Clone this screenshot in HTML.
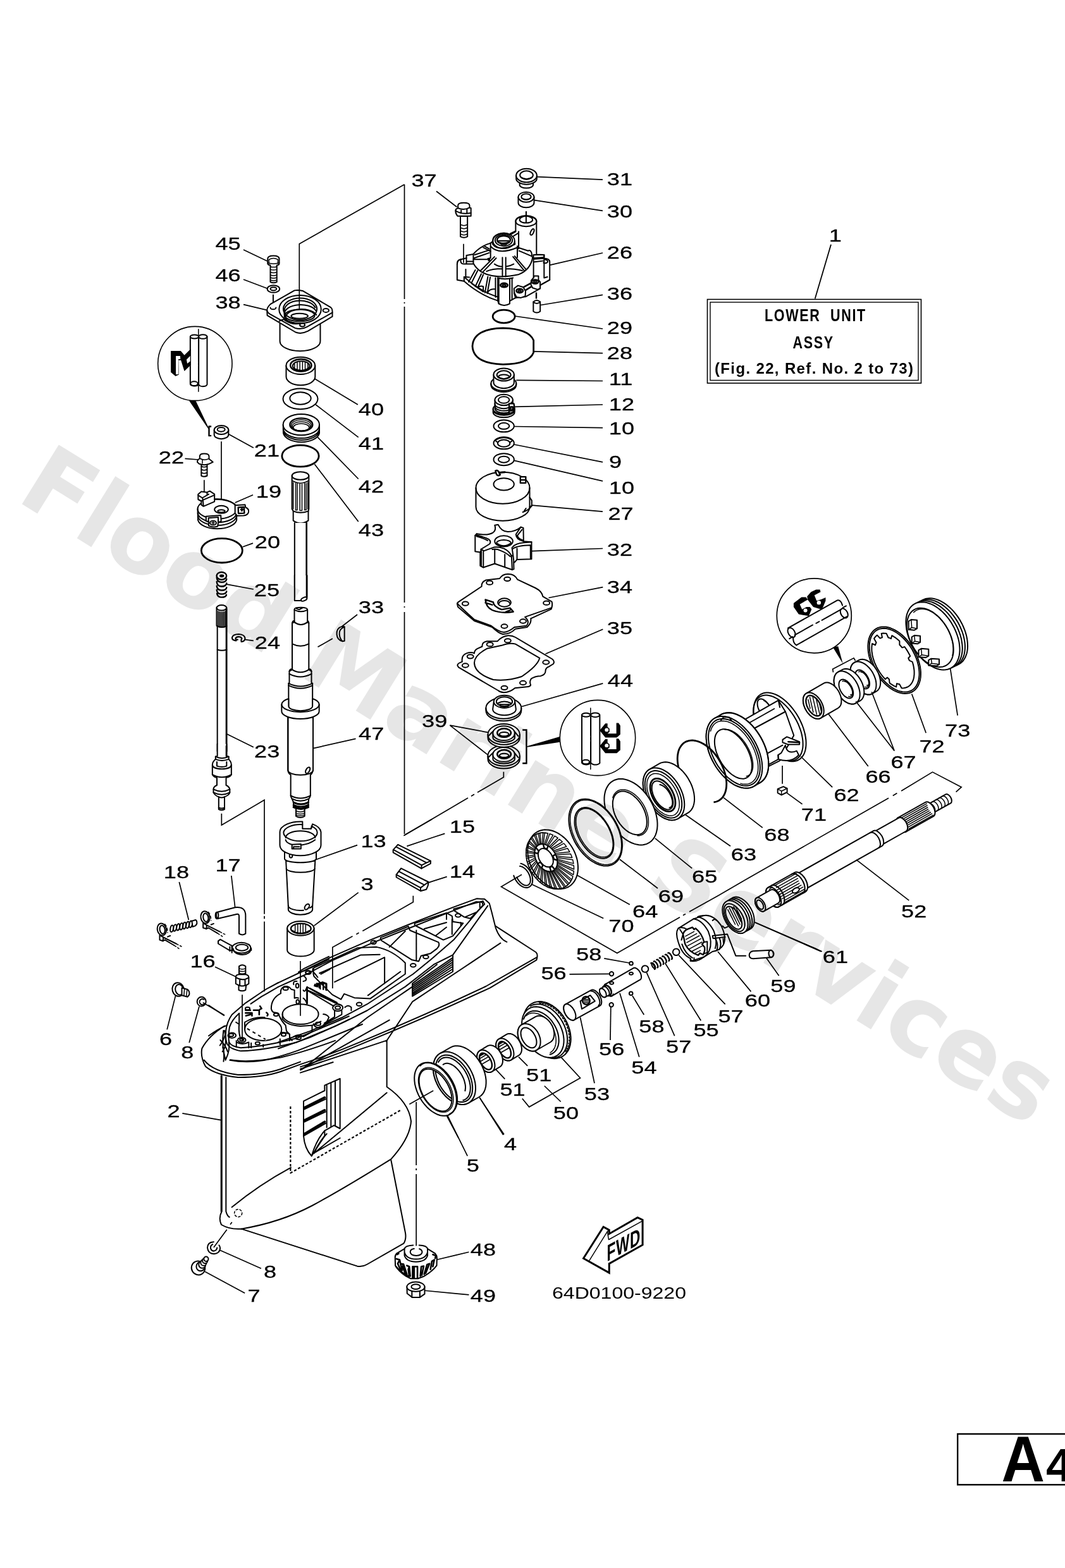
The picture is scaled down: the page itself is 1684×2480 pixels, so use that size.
<!DOCTYPE html>
<html><head><meta charset="utf-8"><title>Lower Unit Assy</title>
<style>
html,body{margin:0;padding:0;background:#fff;}
svg{display:block;}
text{font-family:"Liberation Sans",sans-serif;}
.l{font-size:28px;fill:#000;stroke:#000;stroke-width:0.3px;}
.p{fill:none;stroke:#000;stroke-width:2;stroke-linecap:round;stroke-linejoin:round;}
.w{fill:#fff;stroke:#000;stroke-width:2;stroke-linecap:round;stroke-linejoin:round;}
.t{fill:none;stroke:#000;stroke-width:1.5;stroke-linecap:round;stroke-linejoin:round;}
.k{fill:#000;stroke:none;}
.o{fill:none;stroke:#000;stroke-width:2.8;}
.p,.w,.t,.o,.q,.ld{vector-effect:non-scaling-stroke;}
.q{fill:#fff;stroke:#000;stroke-width:1.5;stroke-linejoin:round;}
.ld{fill:none;stroke:#000;stroke-width:1.7;stroke-linecap:butt;}
</style></head><body>
<svg xmlns="http://www.w3.org/2000/svg" width="1684" height="2480" viewBox="0 0 1684 2480">
<rect x="0" y="0" width="1684" height="2480" fill="#fff"/>
<!-- 09_housing.svg -->
<!-- housing body: 3x frame origin (310,1400) -->
<g transform="translate(310,1400) scale(0.33333)">
<!-- white silhouette -->
<path d="M135,668 Q60,715 28,775 Q20,815 45,860 Q90,900 122,905 L122,1548 Q105,1580 120,1611 Q160,1635 215,1631 L765,1808 Q790,1812 810,1800 L985,1700 Q998,1680 993,1650 L925,1305 Q1015,1200 1020,1120 Q1010,1030 905,957 L905,737 L1615,355 L1615,320 L1424,197 L1394,90 L1364,62 L1329,62 L789,220 L350,485 Z" fill="#fff"/>
<!-- cav plate -->
<path class="p" d="M135,668 Q60,715 28,775 Q20,815 45,860 Q90,900 200,912 Q320,912 400,885 L495,850 Q650,800 789,740 Q1100,610 1375,480 L1615,343"/>
<path class="p" d="M38,830 Q80,885 200,900 Q320,900 400,873 L495,838"/>
<path class="p" d="M495,862 Q650,812 789,752 Q1100,625 1395,487 L1615,355 M1419,193 L1612,318 Q1624,328 1615,355"/>
<path class="p" d="M160,830 Q250,848 350,825 Q450,800 520,770 L789,660 M495,872 L789,775 L904,737 M495,890 L650,840"/>
<path class="p" d="M115,735 Q140,760 150,790 M125,790 Q150,760 135,690 M130,690 Q120,760 140,830"/>
<!-- body left -->
<path class="p" d="M122,905 L122,1548 Q105,1580 120,1611 Q160,1635 215,1631 M142,912 L142,1548 Q148,1570 158,1575"/>
<path class="p" d="M120,905 L120,1548" style="stroke-width:2.6"/>
<!-- torpedo -->
<path class="p" d="M170,1528 Q300,1421 450,1340 M215,1631 Q400,1600 550,1521 Q700,1440 925,1300 Q1015,1200 1020,1120 Q1010,1030 905,957 L905,737"/>
<path class="p" d="M905,985 L560,1272"/>
<!-- skeg -->
<path class="p" d="M215,1631 L765,1808 Q790,1812 810,1800 L985,1700 Q998,1680 993,1650 L925,1305"/>
<!-- dashed -->
<path class="p" d="M448,1050 L448,1366 L975,1065" style="stroke-dasharray:4 3;stroke-linecap:butt;stroke-width:2.2"/>
<circle class="t" cx="200" cy="1556" r="18" style="stroke-dasharray:3 3"/>
<!-- grille inlet -->
<path class="p" d="M510,1025 L610,975 L610,950 L683,918 L683,1155 L655,1140 L610,1165 L610,1190 L548,1285 Q515,1250 510,1190 Z M620,948 L620,1150 M640,940 L640,1145 M660,930 L660,1140"/>
<path class="p" d="M510,1055 L610,1005 M510,1065 L615,1015 M510,1115 L610,1065 M510,1125 L615,1075 M510,1180 L610,1120 M510,1190 L615,1130 M548,1285 Q570,1210 610,1165 M560,1270 Q585,1215 620,1180 M570,1265 L683,1200" />
<path class="p" style="stroke-width:2.8" d="M515,1058 L612,1008 M515,1118 L612,1068 M515,1183 L612,1123"/>
</g>
<!-- deck: 3.985x frame origin (440,1400) -->
<g transform="translate(440,1400) scale(0.25095)">
<path class="p" d="M0,615 L170,535 L330,455 L580,345 L830,245 L1100,140 L1250,85 L1300,88 L1330,115 L1345,170 L1370,270 Q1395,340 1440,358"/>
<path class="p" d="M1320,130 L1100,440 L980,500 L800,640 L560,790 L420,860 L200,960 L0,1030"/>
<path class="p" d="M0,641 L180,560 L340,475 L590,365 L840,265 L1100,162 L1245,105 L1285,108 L1290,125 L1105,345 L960,470 L850,560 L560,750 L400,835 L200,920 L0,990"/>
<path class="p" d="M1400,365 L1100,565 L845,735 L680,985 M150,1160 L560,835 L845,640 M140,1165 L700,850"/>
<path class="p" d="M845,620 L845,700 L1100,545 L1100,440 M845,632 L1100,457 M845,644 L1100,470 M845,656 L1100,484 M845,668 L1100,498 M845,680 L1100,512 M845,690 L1100,528 M845,620 L1000,500"/>
<path class="p" d="M225,520 L500,395 L620,390 Q720,410 800,490 L800,560 L580,715 L480,710 L415,685 L395,720 L340,690 L225,575 Q215,545 225,520 Z"/>
<path class="p" d="M260,555 L520,440 L640,437 M355,610 L670,455 L670,620 M565,695 L770,545"/>
<path class="p" d="M645,330 L820,260 L830,285 L1010,360 Q1020,380 1000,400 L960,430 L900,445 L885,480 L840,470 L660,355 Q640,345 645,330 Z M700,390 L800,290 M870,285 L870,475"/>
<path class="p" d="M860,240 L1060,175 L1095,195 L1100,230 L1165,240 L1100,320 L1040,345 L870,258 Q855,250 860,240 Z M920,275 L1060,235 M990,320 L1060,265 M1060,182 L1060,215 M1095,215 L1095,310 M1150,235 L1150,255"/>
<path class="p" d="M1105,150 L1290,100 L1300,120 L1210,210 L1170,200 L1110,162 Z M1180,200 L1250,170 M1270,115 L1270,140"/>
<ellipse class="p" cx="190" cy="550" rx="17" ry="11"/><ellipse class="p" cx="600" cy="360" rx="17" ry="11"/><ellipse class="p" cx="850" cy="505" rx="17" ry="11"/><ellipse class="p" cx="930" cy="452" rx="17" ry="11"/><ellipse class="p" cx="1133" cy="190" rx="17" ry="11"/><ellipse class="p" cx="510" cy="750" rx="17" ry="11"/>
<path class="p" d="M180,745 L180,660 L390,755 M200,650 L370,740 M355,790 L355,830 L290,870 M400,790 L400,815 L285,880 M420,770 Q440,750 460,770 L460,790 M240,620 L300,620 L300,660 M265,625 L265,655 M230,625 L250,640"/>
<ellipse class="p" cx="375" cy="772" rx="32" ry="22"/><ellipse class="p" cx="375" cy="772" rx="16" ry="10"/>
</g>
<!-- deck left: 7.89x frame origin (330,1490) -->
<g transform="translate(330,1490) scale(0.12674)">
<path class="p" d="M868,507 L730,580 L660,625 L460,760 L290,905 Q225,1000 215,1100 Q205,1200 225,1260 Q250,1330 400,1360 Q700,1350 1100,1250 L1578,1050 L1750,965"/>
<path class="p" d="M868,560 L730,640 L660,680 L525,770 M380,890 Q290,970 260,1060 Q240,1180 255,1250 Q280,1305 400,1320 Q700,1305 1100,1200 L1578,1000 L1750,925"/>
<path class="p" d="M270,1470 Q500,1510 900,1440 Q1200,1370 1578,1230"/>
<path class="p" d="M0,1170 Q120,1080 225,1040 M215,1130 Q190,1220 140,1290 M175,1310 Q200,1400 185,1490 M250,1250 Q270,1340 215,1460 M0,790 L190,915"/>
<!-- left bore -->
<ellipse class="p" cx="680" cy="1090" rx="230" ry="140"/>
<path class="p" d="M450,1000 Q560,930 700,940 M450,1010 L450,1090 M480,1080 L710,1215" />
<path class="p" d="M480,1080 L710,1215" style="stroke:#fff;stroke-width:3"/>
<path class="p" d="M480,1080 L710,1215" style="stroke-dasharray:5 5;stroke-linecap:butt"/>
<path class="p" d="M345,1230 L345,1310 M500,1250 L500,1320 M345,1250 Q420,1290 500,1250 M530,1260 L530,1320 M680,1280 L680,1310 M890,1210 L890,1280 M1010,1150 L1010,1230 M380,890 L380,1020 Q370,1100 390,1180 M340,1000 L370,1020" />
<ellipse class="p" cx="412" cy="1222" rx="50" ry="30"/><ellipse class="p" cx="412" cy="1220" rx="24" ry="14"/>
<ellipse class="p" cx="280" cy="1160" rx="28" ry="18"/><ellipse class="p" cx="290" cy="1165" rx="50" ry="32"/>
<ellipse class="p" cx="485" cy="830" rx="28" ry="18"/><ellipse class="p" cx="610" cy="1265" rx="28" ry="18"/><ellipse class="p" cx="935" cy="1155" rx="28" ry="18"/><ellipse class="p" cx="1120" cy="1195" rx="32" ry="20"/><ellipse class="p" cx="840" cy="905" rx="28" ry="18"/><ellipse class="p" cx="960" cy="580" rx="32" ry="20"/><ellipse class="p" cx="1240" cy="380" rx="32" ry="20"/><ellipse class="p" cx="1365" cy="1020" rx="32" ry="20"/><ellipse class="p" cx="1105" cy="545" rx="18" ry="28"/><ellipse class="p" cx="1110" cy="745" rx="18" ry="26"/>
<path class="p" style="stroke-width:2.6" d="M460,850 L520,850 M460,885 L540,885 L540,920 M465,920 L520,905 M560,850 L630,850 L630,905 M640,800 L660,830 L640,840 M720,880 Q750,900 730,920"/>
<!-- right bore and ring -->
<ellipse class="p" cx="1145" cy="900" rx="225" ry="125"/>
<path class="p" d="M920,900 L920,960 Q980,1040 1145,1050 L1290,1040 L1290,1120 M1290,1040 L1400,990"/>
<path class="p" d="M780,830 Q780,700 900,640 Q890,580 940,555 Q1000,545 1030,590 L1070,600 L1070,700 M1230,560 L1230,770 M1070,700 Q1100,690 1120,700 M1180,700 Q1210,720 1225,770 M780,830 Q790,880 830,880 Q880,880 880,920 Q910,990 960,1040 L970,1110 Q985,1130 1010,1150 Q960,1120 900,1130 M1010,1150 Q1000,1190 1040,1230 M1060,1180 Q1120,1140 1180,1180 L1290,1120 M1430,900 Q1480,905 1500,940 L1460,1020 Q1440,1060 1400,1070 Q1320,1075 1310,1020"/>
<path class="p" d="M1180,600 Q1200,640 1225,560 L1578,760 M1225,600 L1560,800 M1060,530 Q1050,480 1100,490 M1180,420 Q1230,450 1210,480 L1180,490 M1120,375 L1190,330 L1500,180 M1190,360 L1500,215 M1300,330 Q1290,360 1330,400 L1360,440 M1400,400 L1510,340"/>
<path class="p" style="stroke-width:2.4" d="M1330,540 L1420,500 L1470,520 L1470,600 M1380,520 L1380,570 M1430,520 L1430,590 M1320,545 L1350,555 L1380,520"/>
</g>
<!-- 10_p38.svg -->
<g transform="translate(400,380) scale(0.08872)">
<!-- bolt 45 -->
<path class="w" d="M262,330 Q262,275 365,275 Q468,275 468,330 L468,410 Q468,445 425,445 L425,745 Q365,770 310,745 L310,445 Q262,440 262,410 Z"/>
<path class="t" d="M285,345 Q365,300 445,345 M285,345 L285,420 M445,345 L445,420 M310,470 Q365,490 425,470 M310,520 Q365,540 425,520 M310,570 Q365,590 425,570 M310,620 Q365,640 425,620 M310,665 Q365,685 425,665 M310,710 Q365,730 425,710 M262,400 Q365,440 468,400"/>
<!-- washer 46 -->
<ellipse class="w" cx="365" cy="868" rx="110" ry="65"/>
<ellipse class="p" cx="365" cy="866" rx="55" ry="30"/>
<path class="p" d="M360,975 L360,1215"/>
<!-- part 38 cylinder body -->
<path class="w" d="M480,1400 L480,1800 A360,175 0 0 0 1200,1800 L1200,1400 Z"/>
<!-- plate -->
<path class="w" d="M405,1085 L740,895 Q800,880 895,905 L1390,1200 Q1415,1220 1415,1260 L1415,1360 L980,1620 Q860,1680 760,1640 L255,1340 L250,1250 Q250,1200 310,1140 Z"/>
<path class="p" d="M250,1250 Q260,1290 300,1315 L750,1565 Q860,1600 960,1545 L1415,1290"/>
<path class="p" d="M310,1200 A50,32 0 0 0 410,1200"/>
<ellipse class="p" cx="1300" cy="1250" rx="52" ry="34"/>
<ellipse class="p" cx="880" cy="1510" rx="45" ry="28"/>
<!-- bore -->
<ellipse class="w" cx="840" cy="1230" rx="375" ry="250"/>
<ellipse class="p" cx="840" cy="1225" rx="300" ry="195"/>
<path class="p" d="M570,1290 A280,170 0 0 1 1110,1200 M575,1360 A270,150 0 0 1 1125,1260 M600,1420 A250,130 0 0 1 1130,1330"/>
<ellipse class="p" cx="835" cy="1340" rx="265" ry="105"/>
<ellipse class="p" cx="830" cy="1350" rx="150" ry="45"/>
<path class="p" d="M560,1300 L560,1420 Q700,1520 850,1480 M470,1440 L590,1390"/>
</g>
<path class="ld" d="M385,395 L422.7,413 M385,442 L424,456.7 M385,481.7 L422.7,490.7"/>
<!-- 11_col1a.svg -->
<g transform="translate(230,500) scale(0.16667)">
<!-- M circle -->
<circle class="w" cx="470" cy="450" r="352" style="stroke-width:1.6"/>
<path class="t" d="M503,125 L503,430 M503,445 L503,462 M503,477 L503,715"/>
<path class="p" d="M425,195 L425,640 A40,22 0 0 0 503,648 M585,195 L585,640 A40,22 0 0 1 507,650 M505,215 L505,640"/>
<ellipse class="p" cx="465" cy="195" rx="40" ry="18"/>
<ellipse class="p" cx="545" cy="195" rx="40" ry="20"/>
<ellipse class="p" cx="462" cy="640" rx="34" ry="20"/>
<g transform="scale(6) translate(25,35) scale(0.05705)">
<path class="k" d="M265,350 L540,350 L640,470 L800,310 L820,310 L820,740 L640,910 L545,610 L480,610 L490,1010 L395,1050 L265,940 Z"/>
<path d="M405,490 L525,490 L530,580 L475,580 L480,1000 L405,1005 Z M700,590 L800,490 L800,640 L720,700 Z" fill="#fff"/>
</g>
<!-- pointer -->
<path class="k" d="M412,800 L478,806 L603,1068 L596,1070 Z"/>
<path class="p" d="M625,1047 L603,1047 L603,1135 L625,1135" style="stroke-width:2.4;stroke-linecap:butt"/>
<!-- 21 bushing -->
<path class="w" d="M652,1080 L652,1125 A68,40 0 0 0 788,1125 L788,1080 Z"/>
<ellipse class="w" cx="720" cy="1080" rx="68" ry="42"/>
<ellipse class="p" cx="718" cy="1076" rx="36" ry="20"/>
<path class="ld" d="M790,1120 L1025,1250"/>
<path class="ld" d="M720,1190 L720,1840"/>
<!-- bolt 22 -->
<path class="ld" d="M375,1352 L500,1362"/>
<path class="w" d="M530,1395 L530,1515 Q557,1530 585,1515 L585,1395 Z"/>
<path class="t" d="M530,1425 Q557,1440 585,1425 M530,1455 Q557,1470 585,1455 M530,1485 Q557,1500 585,1485"/>
<path class="w" d="M492,1385 Q492,1360 515,1352 L515,1330 Q515,1305 557,1305 Q603,1305 603,1330 L603,1355 L640,1385 L605,1402 Q557,1420 510,1402 Z"/>
<path class="t" d="M515,1350 Q557,1375 603,1352 M540,1365 L540,1398"/>
<path class="ld" d="M557,1555 L557,1700"/>
<!-- part 19 -->
<path class="w" d="M495,1830 L498,1935 A185,95 0 0 0 865,1935 L865,1830 A185,95 0 0 0 495,1830 Z"/>
<path class="p" d="M495,1830 A185,95 0 0 0 865,1830 M496,1870 A185,95 0 0 0 865,1870 M497,1900 A185,95 0 0 0 865,1900"/>
<path class="p" d="M660,1738 Q780,1735 850,1785"/>
<ellipse class="w" cx="720" cy="1835" rx="65" ry="36"/>
<path class="p" d="M685,1850 A36,16 0 0 0 755,1850 A36,16 0 0 0 685,1850"/>
<!-- left tab -->
<path class="w" d="M500,1690 L500,1740 L530,1755 L530,1790 L550,1805 L655,1760 L655,1690 L610,1660 L585,1672 L530,1665 Z"/>
<path class="p" d="M500,1700 L540,1725 L600,1690 M540,1725 L545,1745 L650,1700 M545,1745 L550,1800 M530,1755 L545,1745 M585,1672 L585,1695"/>
<!-- right tab -->
<path class="w" d="M850,1795 L945,1790 L950,1815 Q985,1830 978,1860 Q970,1890 930,1893 L870,1895 L850,1870 Z"/>
<path class="p" d="M880,1815 L935,1812 L938,1870 L882,1872 Z M905,1835 L925,1835 M915,1825 L915,1848" style="stroke-width:2.4"/>
<!-- front tab -->
<path class="w" d="M575,1900 L715,1890 L718,1945 L690,1960 L685,1995 Q640,2010 600,1990 L598,1950 L575,1945 Z"/>
<path class="p" d="M598,1915 L690,1908 L690,1960 M598,1915 L598,1950"/>
<ellipse class="p" cx="642" cy="1962" rx="30" ry="20"/>
<path class="t" d="M628,1962 L656,1962 M642,1950 L642,1974"/>
<path class="ld" d="M850,1770 L1020,1697"/>
<!-- O-ring 20 -->
<ellipse class="o" cx="725" cy="2225" rx="195" ry="115"/>
<path class="ld" d="M922,2190 L1020,2155"/>
</g>
<!-- 12_col2a.svg -->
<g transform="translate(420,540) scale(0.16667)">
<!-- 40 bearing -->
<path class="w" d="M195,230 L195,335 A137,80 0 0 0 470,335 L470,230 Z"/>
<ellipse class="w" cx="332" cy="230" rx="137" ry="82"/>
<ellipse class="p" cx="335" cy="226" rx="100" ry="58" style="stroke-width:2.6"/>
<ellipse class="p" cx="337" cy="232" rx="80" ry="44"/>
<path class="t" d="M275,205 L275,262 M300,198 L300,272 M325,195 L325,275 M350,195 L350,275 M375,200 L375,270 M400,208 L400,260 M262,250 Q335,300 412,250"/>
<path class="ld" d="M468,355 L875,600"/>
<!-- 41 washer -->
<ellipse class="w" cx="330" cy="545" rx="165" ry="98"/>
<ellipse class="p" cx="330" cy="540" rx="100" ry="58"/>
<path class="ld" d="M475,600 L880,910"/>
<!-- 42 seal -->
<path class="w" d="M166,790 L168,870 A172,95 0 0 0 510,870 L510,790 Z"/>
<path class="p" d="M167,830 A172,96 0 0 0 510,830 M168,850 A172,96 0 0 0 510,850"/>
<ellipse class="w" cx="338" cy="790" rx="172" ry="100"/>
<ellipse class="p" cx="338" cy="790" rx="108" ry="62" style="stroke-width:2.4"/>
<ellipse class="t" cx="338" cy="796" rx="95" ry="52"/>
<ellipse class="t" cx="338" cy="806" rx="85" ry="44"/>
<ellipse class="t" cx="338" cy="816" rx="75" ry="36"/>
<path class="ld" d="M490,905 L880,1305"/>
<!-- 43 o-ring -->
<ellipse class="o" cx="330" cy="1087" rx="175" ry="102"/>
<path class="ld" d="M465,1165 L880,1710"/>
<!-- shaft top spline -->
<path class="w" d="M250,1275 L250,1590 L262,1610 L262,1700 Q330,1750 405,1700 L405,1610 L410,1590 L410,1275 A80,38 0 0 0 250,1275 Z"/>
<path class="p" d="M250,1275 A80,38 0 0 0 410,1275 M262,1610 Q330,1640 405,1610"/>
<path class="t" d="M262,1340 L262,1590 M285,1345 L285,1600 M300,1345 L300,1600 M325,1350 L325,1605 M345,1350 L345,1605 M370,1345 L370,1600 M385,1345 L385,1598 M400,1340 L400,1592 M250,1320 Q330,1370 410,1320 M285,1600 L300,1600 M325,1605 L345,1605 M370,1600 L385,1598"/>
<path class="w" d="M275,1722 L275,2330 L390,2330 L390,1722 Z" style="stroke:none"/>
<path class="p" d="M275,1722 L275,2330 M390,1722 L390,2330" />
<path class="p" d="M388,1722 L388,2330" style="stroke-width:2.6"/>
</g>
<!-- 13_col1b.svg -->
<g transform="translate(280,880) scale(0.16667)">
<!-- spring 25 -->
<ellipse class="w" cx="422" cy="185" rx="47" ry="36" style="stroke-width:2.4"/>
<ellipse class="k" cx="424" cy="185" rx="22" ry="14"/>
<path class="p" style="stroke-width:2.4" d="M376,200 Q380,245 422,245 Q465,245 470,215 M376,240 Q380,285 422,285 Q465,285 470,255 M376,280 Q380,322 422,322 Q465,322 470,295 M376,318 Q380,358 422,358 Q465,358 470,332 M378,352 Q385,388 422,388 Q462,388 468,365"/>
<path class="ld" d="M470,265 L725,312"/>
<!-- shaft 23 -->
<path d="M375,488 A47,25 0 0 1 470,488 L470,1850 L382,1850 L382,665 L375,655 Z" fill="#fff"/>
<path class="p" d="M382,1850 L382,665 L375,655 L375,488 A47,25 0 0 1 470,488 L470,1850"/>
<path class="p" d="M375,488 A47,25 0 0 0 470,488 M382,885 Q425,900 470,885 M378,660 Q425,685 470,660"/>
<path class="t" d="M388,520 L388,662 M400,525 L400,668 M412,528 L412,670 M424,528 L424,672 M436,528 L436,670 M448,525 L448,668 M460,520 L460,664"/>
<path class="p" d="M468,500 L468,1850" style="stroke-width:2.6"/>
<path class="ld" d="M470,1685 L725,1810"/>
<!-- 24 clip -->
<path class="p" style="stroke-width:2.2" d="M560,800 Q520,795 522,770 Q530,738 585,738 Q640,742 645,775 Q645,805 610,810 L608,790 Q625,780 600,765 Q570,758 555,775 Q550,790 575,790"/>
<path class="ld" d="M645,790 L725,800"/>
</g>
<g transform="translate(280,1180) scale(0.16667)">
<!-- shaft 23 lower -->
<path d="M382,-20 L382,95 L365,100 L365,125 Q335,150 335,180 L335,270 Q345,295 378,300 L378,372 Q345,385 345,410 L345,440 Q360,470 395,482 L395,600 Q422,615 450,600 L450,482 Q495,465 500,440 L500,410 Q495,385 465,372 L465,300 Q510,290 515,270 L515,180 Q515,150 490,125 L490,100 L470,95 L470,-20 Z" fill="#fff"/>
<path class="p" d="M382,-20 L382,95 L365,100 L365,125 Q335,150 335,180 L335,270 Q345,295 378,300 L378,372 Q345,385 345,410 L345,440 Q360,470 395,482 L395,600 Q422,615 450,600 L450,482 Q495,465 500,440 L500,410 Q495,385 465,372 L465,300 Q510,290 515,270 L515,180 Q515,150 490,125 L490,100 L470,95 L470,-20"/>
<path class="p" d="M365,100 Q425,130 490,100 M365,125 Q425,150 490,125 M335,180 Q340,215 425,218 Q510,215 515,180 M378,190 Q425,205 470,190 L470,150 M378,190 L378,150 M335,270 Q425,320 515,270 M345,410 Q425,450 500,410 M345,440 Q425,480 500,440 M395,482 Q422,495 450,482 M395,585 Q422,598 450,585"/>
<path class="p" d="M468,0 L468,95" style="stroke-width:2.6"/>
<path class="ld" d="M422,640 L422,750 L828,512 L828,1595 M828,1612 L828,1640 M828,1665 L828,2330"/>
</g>
<!-- 14_shaft47.svg -->
<g transform="translate(400,920) scale(0.16667)">
<!-- upper shaft end -->
<path d="M395,-60 L395,180 L512,180 L512,-60 Z" fill="#fff"/>
<path class="p" d="M395,-60 L395,180 L455,180 M512,-60 L512,150"/>
<path class="p" d="M510,-60 L510,150" style="stroke-width:2.6"/>
<ellipse class="p" cx="484" cy="166" rx="30" ry="15" transform="rotate(-25 484 166)"/>
<!-- shaft 47 -->
<path class="w" d="M393,262 Q393,245 455,245 Q517,245 517,268 L517,385 L530,392 L530,835 L555,850 L555,960 L565,965 L565,1290 L570,1290 L570,1790 Q560,1828 545,1832 L545,2030 Q540,2050 530,2060 L525,2095 L525,2140 L490,2150 L490,2225 Q450,2250 408,2225 L408,2150 L385,2140 L385,2095 L370,2060 Q360,2045 358,2030 L358,1832 Q335,1820 332,1790 L332,1290 L338,1290 L338,965 L345,960 L345,850 L372,835 L372,392 L393,385 Z"/>
<path class="p" d="M393,268 Q455,300 517,268 M410,250 Q420,268 445,262 L470,248"/>
<path class="p" d="M372,392 Q380,365 393,375 M530,392 Q525,368 517,375 M393,385 Q455,430 517,385 M372,590 Q451,630 530,590 M372,835 Q451,885 530,835 M345,850 Q350,825 372,830 M555,850 Q550,825 530,830 M345,875 Q450,930 555,875 M338,965 Q451,1020 565,965 M338,985 Q451,1040 565,985" />
<!-- flange -->
<path class="w" d="M272,1165 A178,72 0 0 1 338,1110 L338,1180 A113,45 0 0 0 565,1180 L565,1110 A178,72 0 0 1 628,1165 L628,1230 A178,72 0 0 1 272,1230 Z"/>
<path class="p" d="M272,1165 A178,72 0 0 0 628,1165"/>
<path class="p" d="M332,1290 L332,1790 M570,1290 L570,1790 M332,1790 A119,45 0 0 0 570,1790 M358,2030 Q451,2080 545,2030 M370,2060 Q451,2100 530,2060"/>
<ellipse class="p" cx="520" cy="1790" rx="17" ry="32" transform="rotate(30 520 1790)"/>
<path class="p" style="stroke-width:3" d="M385,2095 Q455,2130 525,2095 M385,2120 Q455,2155 525,2120 M385,2140 Q455,2175 525,2140"/>
<path class="t" d="M408,2175 Q450,2195 490,2175 M408,2195 Q450,2215 490,2195 M408,2212 Q450,2232 490,2212"/>
<path class="ld" d="M570,1582 L975,1490"/>
<!-- key 33 -->
<path class="w" d="M850,422 Q790,440 795,500 Q800,555 850,565 L868,562 L868,428 Z"/>
<path class="p" d="M868,428 Q815,450 820,500 Q825,545 850,565 M850,422 L850,440"/>
<path class="ld" d="M990,312 L850,420 M615,620 L755,540"/>
</g>
<path class="ld" d="M639.5,291.7 L639.5,473 M639.5,478 L639.5,480 M639.5,485 L639.5,953 M639.5,959 L639.5,961 M639.5,968 L639.5,1319 M639.5,291.7 L473.3,385.7 L473.3,488"/>
<!-- 15_p26.svg -->
<g transform="translate(715,335) scale(0.10456)">
<!-- base silhouette -->
<path class="w" d="M75,790 Q75,730 130,720 L215,700 L215,660 L320,640 Q420,520 590,470 L615,440 A165,115 0 0 1 880,345 L960,300 L960,140 A158,82 0 0 1 1275,140 L1275,645 L1390,650 L1390,705 Q1475,705 1475,760 L1475,1030 L1330,1110 L1330,1160 L1110,1285 L960,1300 L870,1350 L870,1390 Q785,1440 705,1390 L690,1345 Q420,1260 180,1050 L75,1030 Z"/>
<!-- tall tube -->
<ellipse class="p" cx="1118" cy="140" rx="158" ry="82"/>
<path class="p" d="M1020,130 A105,60 0 0 0 1216,130 M1075,72 A105,60 0 0 0 1020,130 M1160,72 A105,60 0 0 1 1216,130"/>
<path class="p" d="M1118,0 L1118,160"/>
<ellipse class="p" cx="1210" cy="305" rx="22" ry="50" transform="rotate(25 1210 305)"/>
<path class="p" d="M1005,300 L1005,560 M880,330 L960,290 M930,365 L1005,320"/>
<!-- central boss -->
<ellipse class="p" cx="780" cy="440" rx="165" ry="115"/>
<ellipse class="p" cx="780" cy="430" rx="130" ry="88"/>
<ellipse class="p" cx="780" cy="425" rx="100" ry="62" style="stroke-width:2.4"/>
<path class="p" d="M700,440 L860,440 M720,465 Q780,485 845,462 M740,495 L820,495"/>
<path class="p" d="M615,450 L612,490 Q700,610 950,490 L945,450 M580,470 L580,700 M985,520 L985,690 M580,520 Q700,660 985,540"/>
<!-- dome arcs -->
<path class="p" d="M320,640 L320,780 Q400,930 600,965 Q780,1000 1000,950 Q1180,880 1215,700 L1200,620 Q1180,570 1150,590 L1010,545"/>
<path class="p" d="M340,650 L560,580 M330,700 L560,620 M320,720 L530,720 M1010,590 L1200,670 M490,520 L560,560 M470,540 L580,600"/>
<path class="k" d="M530,700 L575,690 L575,740 L545,750 Z"/>
<!-- ribs -->
<path class="p" d="M640,680 L430,890 M665,700 L460,915 M760,690 L760,980 M810,690 L810,980 M920,680 L1090,890 M945,670 L1115,870 M640,790 Q700,830 760,830 M810,830 Q880,820 930,790 M520,900 Q600,860 760,860 M810,860 Q950,860 1060,890"/>
<!-- left lug -->
<path class="p" d="M130,720 Q120,790 175,790 L320,790 M215,700 L215,790 M215,750 L320,750 M75,790 Q75,730 130,720 M205,870 L205,980 M180,985 L180,1050"/>
<path class="p" d="M180,985 Q420,1200 690,1290 M180,985 L260,990 M350,880 L250,1060 M385,890 L290,1080 M440,940 L350,1130 M470,950 L385,1150 M540,980 L495,1225 M575,990 L530,1235 M655,1000 L655,1290 M690,1000 L690,1345 M300,1090 L470,1210 M385,1150 Q420,1110 470,1130 L470,1210 M530,1235 Q560,1160 640,1170"/>
<!-- front boss -->
<path class="p" d="M705,1010 L705,1390 M870,1010 L870,1350 M905,1010 L905,1330 M690,1000 Q790,1030 920,1000"/>
<ellipse class="p" cx="785" cy="1110" rx="55" ry="30" style="stroke-width:2.6"/>
<ellipse class="p" cx="785" cy="1112" rx="25" ry="12"/>
<!-- right bosses -->
<path class="w" d="M935,1160 L995,1115 L1075,1140 L1110,1200 L1105,1275 L1040,1300 L975,1290 L940,1230 Z"/>
<ellipse class="p" cx="1020" cy="1195" rx="50" ry="30" style="stroke-width:2.6"/>
<ellipse class="p" cx="1020" cy="1197" rx="22" ry="12"/>
<path class="w" d="M1195,1040 L1235,990 L1235,970 L1305,970 L1305,1030 L1330,1060 L1330,1160 L1290,1175 L1215,1150 L1190,1100 Z"/>
<ellipse class="p" cx="1255" cy="1058" rx="50" ry="30" style="stroke-width:2.6"/>
<ellipse class="p" cx="1255" cy="1060" rx="22" ry="12"/>
<path class="p" d="M1080,1140 L1190,1080 M1105,1190 L1200,1130 M960,1300 L940,1230" style="stroke-width:2.6"/>
<!-- right lug -->
<path class="p" d="M1230,650 L1390,650 M1230,650 L1230,1000 M1390,650 L1390,1000 M1230,760 L1390,740 M1400,720 Q1450,730 1445,760 Q1420,790 1380,770 M1330,1110 L1475,1030 M1390,1000 L1440,985"/>
<path class="k" d="M1235,690 L1385,680 L1385,715 L1235,725 Z"/>
</g>
<g transform="translate(690,255) scale(0.16667)">
<!-- leader & bolt 37 -->
<path class="ld" d="M0,285 L195,435"/>
<path class="w" d="M228,520 L228,715 Q262,735 295,715 L295,520 Z"/>
<path class="t" d="M228,600 Q262,620 295,600 M228,630 Q262,650 295,630 M228,660 Q262,680 295,660 M228,690 Q262,710 295,690"/>
<path class="w" d="M182,470 Q182,450 205,445 L205,420 Q205,395 260,395 Q315,395 315,420 L315,440 L328,445 L328,520 L200,520 Q182,500 182,470 Z"/>
<path class="p" d="M205,445 Q260,470 315,440 M182,470 Q250,510 328,490 M235,458 L235,490 M290,455 L290,490"/>
<path class="ld" d="M258,785 L258,965"/>
<!-- 31 -->
<path class="w" d="M790,180 L790,225 A64,30 0 0 0 918,225 L918,180 Z"/>
<path class="w" d="M757,135 L757,165 A98,55 0 0 0 953,165 L953,135 Z"/>
<ellipse class="w" cx="855" cy="135" rx="98" ry="65"/>
<ellipse class="p" cx="855" cy="132" rx="62" ry="40"/>
<path class="t" d="M800,150 Q855,185 910,150"/>
<path class="ld" d="M953,148 L1578,175"/>
<!-- 30 -->
<path class="w" d="M777,340 L777,395 A75,45 0 0 0 927,395 L927,340 Z"/>
<ellipse class="w" cx="852" cy="340" rx="75" ry="48"/>
<ellipse class="p" cx="852" cy="337" rx="46" ry="28"/>
<path class="t" d="M812,350 Q852,375 892,350"/>
<path class="ld" d="M930,370 L1578,470"/>
<path class="ld" d="M852,475 L852,520"/>
<path class="ld" d="M1080,985 L1578,870"/>
<!-- pin 36 -->
<path class="ld" d="M948,1245 L948,1305" style="stroke-width:2.4"/>
<path class="w" d="M920,1335 L920,1425 Q952,1450 985,1425 L985,1335 Q952,1305 920,1335 Z"/>
<path class="p" d="M920,1335 Q952,1365 985,1335"/>
<path class="ld" d="M990,1365 L1578,1268"/>
<!-- 29 -->
<ellipse class="o" cx="640" cy="1473" rx="105" ry="62"/>
<path class="ld" d="M745,1470 L1578,1590"/>
<!-- 28 -->
<path class="o" d="M922,1700 L922,1815 Q880,1925 632,1928 Q350,1920 342,1755 Q350,1590 632,1583 Q880,1590 922,1700 Z"/>
<path class="ld" d="M925,1805 L1578,1822"/>
</g>
<!-- 16_col3b.svg -->
<g transform="translate(690,580) scale(0.16667)">
<!-- 11 -->
<path class="w" d="M518,160 L518,172 A120,68 0 0 0 758,172 L758,160 A120,68 0 0 0 518,160 Z"/>
<path class="p" d="M518,160 A120,68 0 0 0 758,160 M545,150 A100,52 0 0 0 735,150"/>
<path class="w" d="M543,75 L543,150 A97,55 0 0 0 737,150 L737,75 Z"/>
<ellipse class="w" cx="640" cy="75" rx="97" ry="60"/>
<ellipse class="p" cx="640" cy="78" rx="66" ry="40"/>
<path class="p" d="M585,95 A58,30 0 0 1 695,95 M585,95 Q640,135 695,95"/>
<path class="ld" d="M758,128 L1578,135"/>
<!-- 12 -->
<path class="w" d="M538,400 L538,432 A102,50 0 0 0 742,432 L742,400 A102,50 0 0 0 538,400 Z"/>
<path class="p" d="M538,400 A102,50 0 0 0 742,400 M540,418 A102,50 0 0 0 742,418"/>
<path class="w" d="M555,315 L555,395 A85,45 0 0 0 725,395 L725,315 Z"/>
<path class="p" d="M555,350 A85,45 0 0 0 690,388 M555,372 A85,45 0 0 0 690,410"/>
<ellipse class="w" cx="640" cy="315" rx="85" ry="52"/>
<ellipse class="p" cx="640" cy="315" rx="52" ry="32"/>
<path class="w" d="M690,350 L735,350 L740,380 Q745,430 705,440 L690,440 Z M705,380 L705,420 L725,410 L725,380 Z" style="stroke-width:2.4"/>
<path class="ld" d="M745,380 L1578,360"/>
<!-- 10 upper -->
<ellipse class="w" cx="640" cy="563" rx="97" ry="57"/>
<ellipse class="p" cx="640" cy="563" rx="52" ry="30"/>
<path class="ld" d="M737,567 L1578,580"/>
<!-- 9 -->
<ellipse class="w" cx="640" cy="725" rx="97" ry="57"/>
<ellipse class="p" cx="640" cy="727" rx="58" ry="34"/>
<path class="p" d="M560,695 Q640,650 720,695 M583,720 L560,700 M697,720 L722,700"/>
<path class="ld" d="M737,738 L1578,905"/>
<!-- 10 lower -->
<ellipse class="w" cx="640" cy="880" rx="97" ry="57"/>
<ellipse class="p" cx="640" cy="880" rx="52" ry="30"/>
<path class="ld" d="M737,890 L1578,1085"/>
<!-- cup 27 -->
<path class="w" d="M375,1150 L375,1330 A255,132 0 0 0 885,1330 L905,1320 L905,1270 L885,1240 L885,1150 A255,150 0 0 0 375,1150 Z"/>
<path class="p" d="M375,1150 A255,150 0 0 0 885,1150 M885,1240 L885,1330 M905,1320 Q880,1360 820,1380 M850,1345 L835,1365"/>
<ellipse class="p" cx="640" cy="1115" rx="97" ry="58"/>
<path class="w" d="M560,990 Q575,975 590,995 L605,1025 Q590,1040 572,1025 Z" style="stroke-width:2.6"/>
<path class="p" d="M600,1005 L650,1000" style="stroke-width:3"/>
<path class="w" d="M797,1045 L848,1045 L848,1103 L797,1103 Z M797,1075 L848,1075" style="stroke-width:2.4"/>
<path class="ld" d="M905,1315 L1578,1375"/>
<path class="ld" d="M905,1750 L1578,1725"/>
</g>
<!-- impeller 32 -->
<g transform="translate(745,825) scale(0.06654)">
<path class="w" d="M560,85 L640,70 Q720,240 870,240 Q1050,240 1180,130 L1240,150 L1245,470 L1435,485 L1435,890 L1090,900 L1030,970 L1010,960 L1015,1130 L980,1145 L560,1000 L290,1090 L215,1050 L215,730 L95,710 L95,330 L130,290 Q400,340 520,260 Q600,200 560,85 Z"/>
<path class="p" d="M130,320 Q350,380 420,420 Q480,470 440,530 L230,660 M95,330 L130,320 L130,290 M215,730 Q240,640 290,690 L290,1090 M240,700 L240,1060 M290,700 L540,610 Q640,590 780,640 Q900,700 950,800 L1000,820 M500,660 Q600,640 700,690 Q850,750 930,830 M560,680 L560,1000 M800,780 L800,1080 M960,820 L975,1140 M1180,130 L1065,300 Q1060,420 1250,470 M1210,190 L1100,330 Q1110,400 1220,440 M990,600 Q1050,520 1250,500 L1435,485 M1000,640 Q1100,570 1410,560 L1410,870 M1090,640 L1090,900 M970,620 L1000,830 L1015,960 M130,350 Q330,410 390,450"/>
<ellipse class="p" cx="775" cy="465" rx="215" ry="130"/>
<path class="p" d="M605,510 A170,75 0 0 1 945,510 M605,510 Q775,640 945,510"/>
</g>
<!-- 17_col3c.svg -->
<g transform="translate(700,890) scale(0.16667)">
<!-- plate 34 -->
<path class="w" d="M140,400 Q130,380 160,365 L370,225 Q365,185 410,165 L540,150 Q570,105 620,108 Q680,105 710,160 L880,240 Q940,270 950,320 L1035,370 Q1045,400 1030,440 L835,530 Q845,570 800,612 L690,628 Q640,680 570,678 Q530,670 470,612 L300,552 L145,420 Z"/>
<path class="p" d="M140,385 Q145,400 300,540 L460,598 Q530,655 580,660 Q630,655 680,612 L795,598 Q830,560 780,515 L1030,428"/>
<ellipse class="p" cx="215" cy="388" rx="30" ry="19"/><ellipse class="p" cx="445" cy="190" rx="30" ry="19"/><ellipse class="p" cx="613" cy="155" rx="30" ry="19"/><ellipse class="p" cx="985" cy="382" rx="30" ry="19"/><ellipse class="p" cx="762" cy="555" rx="30" ry="19"/><ellipse class="p" cx="585" cy="603" rx="30" ry="19"/>
<ellipse class="p" cx="585" cy="378" rx="62" ry="40"/>
<path class="p" d="M535,385 A50,25 0 0 1 635,385"/>
<path class="p" style="stroke-width:2.4" d="M405,350 L480,375 Q480,415 560,445 L640,430 L670,465 Q560,485 470,450 Q410,420 405,350 Z M405,380 L470,400 M600,465 L640,450"/>
<path class="ld" d="M1005,333 L1520,232"/>
<!-- gasket 35 -->
<path class="w" d="M140,975 Q140,955 185,940 Q175,880 225,860 Q270,845 300,860 Q300,830 330,815 L375,795 Q370,755 420,745 L520,745 Q560,700 620,692 Q660,690 690,708 L1040,915 Q1065,935 1050,960 L1010,985 Q975,995 975,1030 Q975,1060 930,1075 Q880,1075 840,1100 Q820,1130 835,1160 Q830,1175 800,1178 L685,1190 Q640,1230 580,1232 Q545,1230 525,1212 L150,992 Z"/>
<path class="p" d="M300,950 Q300,880 420,815 L560,785 Q640,755 690,772 L920,905 Q900,980 750,1080 Q620,1125 480,1110 Q300,1050 300,950 Z"/>
<ellipse class="p" cx="215" cy="975" rx="30" ry="19"/><ellipse class="p" cx="262" cy="890" rx="30" ry="19"/><ellipse class="p" cx="448" cy="775" rx="30" ry="19"/><ellipse class="p" cx="617" cy="740" rx="30" ry="19"/><ellipse class="p" cx="980" cy="945" rx="30" ry="19"/><ellipse class="p" cx="762" cy="1140" rx="30" ry="19"/><ellipse class="p" cx="585" cy="1187" rx="30" ry="19"/>
<path class="ld" d="M975,865 L1520,632"/>
<!-- 44 -->
<path class="w" d="M410,1380 L410,1402 A168,100 0 0 0 746,1402 L746,1380 A168,100 0 0 0 410,1380 Z"/>
<path class="p" d="M410,1380 A168,100 0 0 0 746,1380"/>
<path class="w" d="M485,1318 L475,1390 A105,55 0 0 0 695,1390 L685,1318 Z"/>
<ellipse class="w" cx="585" cy="1318" rx="100" ry="60"/>
<ellipse class="p" cx="585" cy="1318" rx="76" ry="44"/>
<path class="p" d="M540,1345 L630,1345 M545,1360 Q585,1375 625,1360 M520,1335 Q585,1300 650,1335"/>
<path class="ld" d="M750,1365 L1520,1145"/>
<!-- 39 upper -->


<path class="ld" d="M430,1610 L68,1543 L430,1825"/>
<path class="k" d="M800,1742 L1112,1650 L1112,1702 L800,1750 Z"/>
<path class="ld" d="M578,1985 L578,2035 L330,2180 M300,2198 L270,2215 M240,2232 L90,2320 L-370,2590"/>
<!-- circle J -->
<circle class="w" cx="1470" cy="1662" r="358" style="stroke-width:1.6"/>
<path class="t" d="M1403,1380 L1403,1640 M1403,1660 L1403,1680 M1403,1700 L1403,1960"/>
<path class="p" d="M1320,1445 L1320,1890 A40,22 0 0 0 1400,1898 M1490,1445 L1490,1890 A42,22 0 0 1 1408,1900 M1405,1465 L1405,1890"/>
<ellipse class="p" cx="1360" cy="1445" rx="40" ry="18"/>
<ellipse class="p" cx="1447" cy="1445" rx="42" ry="20"/>
<ellipse class="p" cx="1358" cy="1890" rx="34" ry="20"/>
</g>
<g transform="translate(900,1110) scale(0.06971)">
<g id="jg"><path class="k" d="M700,640 L820,490 L870,490 L870,570 L915,610 L915,680 L870,720 L1070,720 L1070,480 L1120,480 L1160,540 L1160,740 L1080,810 L820,810 L700,660 Z"/>
<circle cx="850" cy="637" r="42" fill="#fff"/></g>
<use href="#jg" transform="translate(0,355)"/>
</g>
<g transform="translate(760,1130) scale(0.05705)">
<defs><g id="s39">
<path class="w" d="M200,560 A440,295 0 0 1 1085,560 L1085,640 A440,265 0 0 1 200,640 Z"/>
<path class="p" d="M200,560 A440,275 0 0 0 1085,560 M215,600 L340,470 M1040,600 L945,480"/>
<path class="w" d="M340,520 L340,640 A302,130 0 0 0 945,640 L945,520 Z"/>
<ellipse class="w" cx="642" cy="520" rx="302" ry="200"/>
<ellipse class="p" cx="650" cy="510" rx="190" ry="120" style="stroke-width:2.6"/>
<ellipse class="p" cx="650" cy="545" rx="130" ry="55"/>
</g></defs>
<use href="#s39" transform="translate(0,592)"/>
<use href="#s39"/>
<path class="p" d="M1160,430 L1270,430 L1270,1355 L1160,1355" style="stroke-width:2.4;stroke-linecap:butt;stroke-linejoin:miter"/>
</g>
<!-- 18_p13.svg -->
<g transform="translate(420,1280) scale(0.16667)">
<!-- 13 sleeve -->
<path class="w" d="M193,490 L215,920 L215,950 A115,50 0 0 0 445,950 L445,920 L470,490 Z"/>
<path class="p" d="M196,565 A137,40 0 0 0 467,565 M215,915 A115,45 0 0 0 360,958 M420,935 Q440,925 445,915"/>
<ellipse class="p" cx="392" cy="925" rx="18" ry="30" transform="rotate(35 392 925)"/>
<path class="w" d="M180,390 L180,470 A150,35 0 0 0 480,470 L480,390 Z"/>
<ellipse class="p" cx="240" cy="440" rx="14" ry="20"/>
<path class="w" d="M135,215 L135,340 A195,100 0 0 0 525,340 L525,215 A195,100 0 0 0 445,140 L430,185 L350,185 L350,117 A195,100 0 0 0 135,215 Z"/>
<path class="p" d="M170,220 A160,82 0 0 1 350,145 M435,160 A160,82 0 0 1 490,220 A160,82 0 0 1 170,220 M190,270 A140,65 0 0 1 470,270 M190,290 A140,60 0 0 0 250,335 L250,375 L335,375 L335,340 Q420,330 470,290 M250,335 L335,330 M265,375 L265,355 L320,355 M430,185 L440,160"/>
<path class="ld" d="M470,480 L870,340"/>
<!-- 3 bearing -->
<path class="w" d="M205,1130 L205,1335 A127,60 0 0 0 460,1335 L460,1130 Z"/>
<ellipse class="w" cx="332" cy="1130" rx="127" ry="68"/>
<ellipse class="p" cx="335" cy="1132" rx="95" ry="48" style="stroke-width:2.4"/>
<path class="t" d="M280,1100 L280,1172 M305,1092 L305,1180 M330,1090 L330,1182 M355,1092 L355,1180 M380,1098 L380,1172 M255,1150 Q335,1200 415,1150"/>
<path class="ld" d="M460,1105 L880,790"/>
<path class="ld" d="M330,1440 L330,1960"/>
<!-- keys 15, 14 -->
<path class="w" d="M1255,335 L1565,490 L1565,515 L1478,562 L1210,410 L1210,385 Z"/>
<path class="p" d="M1215,385 L1480,530 L1565,490 M1480,530 L1478,562 M1240,358 L1522,505"/>
<path class="ld" d="M1340,350 L1578,270 L1700,230"/>
<path class="w" d="M1285,560 L1545,690 L1540,725 L1525,760 L1470,775 L1240,645 L1240,620 Z"/>
<path class="p" d="M1240,620 L1470,745 L1545,690 M1470,745 L1470,775 M1265,590 L1500,715"/>
<path class="ld" d="M1535,700 L1578,685 L1720,640"/>
<path class="ld" d="M1400,820 L1400,880 L920,1155 M885,1172 L860,1186 M825,1205 L635,1310 L635,1700"/>
<path class="ld" d="M1318,245 L1578,95"/>
</g>
<!-- 21_leftsmall.svg -->
<g transform="translate(225,1400) scale(0.16667)">
<path class="ld" d="M350,-30 L440,330 M845,-90 L880,210"/>
<!-- tube 17 -->
<path class="w" d="M705,258 L880,212 Q980,200 980,290 L980,460 Q950,482 918,460 L918,300 Q920,272 900,274 L715,318 Q695,300 705,258 Z"/>
<ellipse class="p" cx="708" cy="288" rx="14" ry="31"/>
<!-- spring 18 -->
<g class="p" style="stroke-width:2.2"><ellipse class="p" cx="280" cy="412" rx="14" ry="32" transform="rotate(10 280 412)"/><ellipse class="p" cx="310" cy="405" rx="14" ry="32" transform="rotate(10 310 405)"/><ellipse class="p" cx="340" cy="398" rx="14" ry="32" transform="rotate(10 340 398)"/><ellipse class="p" cx="370" cy="391" rx="14" ry="32" transform="rotate(10 370 391)"/><ellipse class="p" cx="400" cy="384" rx="14" ry="32" transform="rotate(10 400 384)"/><ellipse class="p" cx="430" cy="377" rx="14" ry="32" transform="rotate(10 430 377)"/><ellipse class="p" cx="460" cy="370" rx="14" ry="32" transform="rotate(10 460 370)"/></g>
<path class="w" d="M470,340 L505,330 Q520,335 518,365 L505,385 L478,395 Z"/>
<!-- clamps -->
<g id="clamp1"><ellipse class="w" cx="185" cy="420" rx="42" ry="58" transform="rotate(-10 185 420)"/><ellipse class="p" cx="190" cy="422" rx="24" ry="40" transform="rotate(-10 190 422)"/>
<path class="w" d="M165,475 L165,520 L195,530 L200,495 Z"/><path class="p" d="M200,495 L320,555 M215,520 L300,570 M195,530 L215,520 M240,490 L265,480"/><path class="t" style="stroke-dasharray:4 3" d="M320,555 L372,582 M300,570 L348,602 M215,370 Q240,400 240,450"/></g>
<use href="#clamp1" transform="translate(412,-115)"/>
<ellipse class="w" cx="940" cy="595" rx="88" ry="50"/><ellipse class="p" cx="945" cy="592" rx="58" ry="30"/>
<path class="p" d="M860,600 Q870,655 950,660 Q1020,655 1030,610"/>
<path class="w" d="M720,530 L740,515 L850,575 L855,620 L830,620 L720,555 Z"/><path class="p" d="M850,575 L850,640 M830,585 L830,625"/>
<path class="t" style="stroke-dasharray:4 3" d="M1010,560 Q1040,590 1035,620"/>
<!-- bolt 16 -->
<path class="ld" d="M690,775 L890,870"/>
<path class="w" d="M918,770 Q948,745 980,770 L980,860 L918,860 Z"/>
<path class="t" d="M918,790 Q948,805 980,790 M918,812 Q948,827 980,812 M918,834 Q948,849 980,834"/>
<path class="w" d="M887,870 Q890,850 918,848 L980,848 Q1008,852 1010,875 L1010,935 L985,950 L980,995 Q948,1012 915,995 L915,950 L887,935 Z"/>
<path class="p" d="M887,875 Q948,915 1010,878 M925,900 L925,950 M975,900 L975,950 M915,950 Q948,965 980,950"/>
<path class="ld" d="M948,1040 L948,1480"/>
<!-- screw 6 -->
<ellipse class="w" cx="340" cy="990" rx="55" ry="65" transform="rotate(-15 340 990)"/>
<ellipse class="p" cx="352" cy="992" rx="38" ry="50" transform="rotate(-15 352 992)"/>
<path class="w" d="M375,975 L430,990 Q452,1010 445,1040 L430,1060 L375,1045 Z"/>
<path class="t" d="M400,985 L395,1050 M425,992 L418,1056"/>
<path class="ld" d="M315,1050 L235,1370"/>
<!-- washer 8 -->
<ellipse class="w" cx="562" cy="1105" rx="42" ry="44"/>
<path class="p" d="M585,1085 A26,28 0 1 0 590,1125"/>
<path class="ld" d="M540,1150 L445,1495 M575,1115 L780,1235"/>
<path class="ld" d="M380,2165 L748,2230"/>
</g>
<!-- 30_rings.svg -->
<g>
<path class="p" d="M1449.5,958.5 L1450.7,956.5 L1452.1,954.6 L1453.6,953.0 L1455.2,951.5 L1457.0,950.1 L1458.9,949.0 L1460.9,948.1 L1462.9,947.3 L1465.1,946.8 L1467.4,946.4 L1469.7,946.2 L1472.1,946.3 L1474.5,946.5 L1477.0,947.0 L1479.6,947.6 L1482.1,948.4 L1484.7,949.5 L1487.3,950.7 L1489.9,952.1 L1492.5,953.6 L1495.1,955.4 L1497.6,957.3 L1500.1,959.4 L1502.6,961.6 L1505.0,963.9 L1507.3,966.4 L1509.6,969.1 L1511.8,971.8 L1513.9,974.6 L1515.9,977.6 L1517.8,980.6 L1519.5,983.7 L1521.2,986.8 L1522.7,990.0 L1524.1,993.3 L1525.4,996.5 L1526.5,999.8 L1527.5,1003.1 L1528.3,1006.3 L1529.0,1009.6 L1529.5,1012.8 L1529.8,1015.9 L1530.0,1019.0 L1530.1,1022.0 L1530.0,1025.0 L1529.7,1027.8 L1529.3,1030.6 L1528.7,1033.2 L1527.9,1035.7 L1527.0,1038.0 L1526.0,1040.3 L1524.8,1042.3 L1523.5,1044.3 L1522.1,1046.0 L1520.5,1047.6 L1518.8,1049.0 L1516.9,1050.2 L1515.0,1051.2 L1513.0,1052.1 L1510.8,1052.7"/>
<path class="p" d="M1445.3,960.5 L1446.6,958.5 L1447.9,956.6 L1449.4,955.0 L1451.1,953.5 L1452.8,952.1 L1454.7,951.0 L1456.7,950.1 L1458.8,949.3 L1460.9,948.8 L1463.2,948.4 L1465.5,948.2 L1467.9,948.3 L1470.4,948.5 L1472.9,949.0 L1475.4,949.6 L1478.0,950.4 L1480.6,951.5 L1483.2,952.7 L1485.8,954.1 L1488.4,955.6 L1490.9,957.4 L1493.5,959.3 L1496.0,961.4 L1498.4,963.6 L1500.8,965.9 L1503.2,968.4 L1505.4,971.1 L1507.6,973.8 L1509.7,976.6 L1511.7,979.6 L1513.6,982.6 L1515.4,985.7 L1517.0,988.8 L1518.5,992.0 L1519.9,995.3 L1521.2,998.5 L1522.3,1001.8 L1523.3,1005.1 L1524.1,1008.3 L1524.8,1011.6 L1525.3,1014.8 L1525.7,1017.9 L1525.9,1021.0 L1525.9,1024.0 L1525.8,1027.0 L1525.5,1029.8 L1525.1,1032.6 L1524.5,1035.2 L1523.8,1037.7 L1522.9,1040.0 L1521.8,1042.3 L1520.7,1044.3 L1519.3,1046.3 L1517.9,1048.0 L1516.3,1049.6 L1514.6,1051.0 L1512.8,1052.2 L1510.8,1053.2 L1508.8,1054.1 L1506.7,1054.7"/>
<path class="p" d="M1441.1,962.5 L1442.4,960.5 L1443.8,958.6 L1445.3,957.0 L1446.9,955.5 L1448.7,954.1 L1450.5,953.0 L1452.5,952.1 L1454.6,951.3 L1456.8,950.8 L1459.0,950.4 L1461.4,950.2 L1463.7,950.3 L1466.2,950.5 L1468.7,951.0 L1471.2,951.6 L1473.8,952.4 L1476.4,953.5 L1479.0,954.7 L1481.6,956.1 L1484.2,957.6 L1486.8,959.4 L1489.3,961.3 L1491.8,963.4 L1494.3,965.6 L1496.7,967.9 L1499.0,970.4 L1501.3,973.1 L1503.5,975.8 L1505.5,978.6 L1507.5,981.6 L1509.4,984.6 L1511.2,987.7 L1512.9,990.8 L1514.4,994.0 L1515.8,997.3 L1517.0,1000.5 L1518.2,1003.8 L1519.1,1007.1 L1520.0,1010.3 L1520.6,1013.6 L1521.1,1016.8 L1521.5,1019.9 L1521.7,1023.0 L1521.8,1026.0 L1521.6,1029.0 L1521.4,1031.8 L1520.9,1034.6 L1520.3,1037.2 L1519.6,1039.7 L1518.7,1042.0 L1517.7,1044.3 L1516.5,1046.3 L1515.2,1048.3 L1513.7,1050.0 L1512.1,1051.6 L1510.4,1053.0 L1508.6,1054.2 L1506.7,1055.2 L1504.6,1056.1 L1502.5,1056.7"/>
<path class="w" d="M1506.0,987.9 L1508.5,992.4 L1510.6,997.0 L1512.5,1001.6 L1514.1,1006.3 L1515.5,1010.9 L1516.5,1015.6 L1517.1,1020.1 L1517.5,1024.6 L1517.6,1028.9 L1517.3,1033.0 L1516.7,1036.9 L1515.8,1040.6 L1514.5,1044.0 L1513.0,1047.2 L1511.2,1050.0 L1509.1,1052.5 L1506.8,1054.6 L1504.2,1056.4 L1501.4,1057.7 L1498.3,1058.7 L1495.1,1059.3 L1491.8,1059.4 L1488.3,1059.2 L1484.7,1058.5 L1481.1,1057.5 L1477.4,1056.0 L1473.7,1054.2 L1470.0,1052.0 L1466.3,1049.5 L1462.7,1046.6 L1459.2,1043.4 L1455.8,1039.9 L1452.6,1036.2 L1449.5,1032.3 L1446.6,1028.1 L1444.0,1023.8 L1441.5,1019.3 L1439.4,1014.7 L1437.5,1010.1 L1435.9,1005.4 L1434.5,1000.7 L1433.5,996.1 L1432.9,991.5 L1432.5,987.1 L1432.4,982.8 L1432.7,978.7 L1433.3,974.7 L1434.2,971.0 L1435.5,967.6 L1437.0,964.5 L1438.8,961.7 L1440.9,959.2 L1443.2,957.1 L1445.8,955.3 L1448.6,953.9 L1451.7,953.0 L1454.9,952.4 L1458.2,952.2 L1461.7,952.5 L1465.3,953.1 L1468.9,954.2 L1472.6,955.6 L1476.3,957.4 L1480.0,959.6 L1483.7,962.2 L1487.3,965.1 L1490.8,968.2 L1494.2,971.7 L1497.4,975.5 L1500.5,979.4 L1503.4,983.6 L1506.0,987.9 Z"/>
<path class="p" d="M1497.5,992.9 L1499.6,996.8 L1501.5,1000.8 L1503.2,1004.8 L1504.6,1008.9 L1505.8,1013.0 L1506.7,1017.0 L1507.3,1021.0 L1507.6,1024.8 L1507.7,1028.6 L1507.5,1032.1 L1507.0,1035.6 L1506.2,1038.8 L1505.2,1041.7 L1503.8,1044.4 L1502.3,1046.9 L1500.5,1049.0 L1498.5,1050.8 L1496.2,1052.4 L1493.8,1053.5 L1491.2,1054.4 L1488.5,1054.8 L1485.6,1055.0 L1482.6,1054.7 L1479.5,1054.2 L1476.3,1053.2 L1473.1,1052.0 L1469.9,1050.4 L1466.7,1048.4 L1463.5,1046.2 L1460.4,1043.7 L1457.4,1040.9 L1454.4,1037.9 L1451.6,1034.6 L1449.0,1031.2 L1446.4,1027.5 L1444.1,1023.8 L1442.0,1019.9 L1440.1,1015.9 L1438.5,1011.8 L1437.0,1007.8 L1435.9,1003.7 L1435.0,999.7 L1434.4,995.7 L1434.0,991.8 L1434.0,988.1 L1434.2,984.5 L1434.7,981.1 L1435.5,977.9 L1436.5,975.0 L1437.8,972.2 L1439.4,969.8 L1441.2,967.7 L1443.2,965.8 L1445.4,964.3 L1447.8,963.1 L1450.4,962.3 L1453.2,961.8 L1456.1,961.7 L1459.1,961.9 L1462.2,962.5 L1465.3,963.4 L1468.5,964.7 L1471.7,966.3 L1475.0,968.2 L1478.1,970.5 L1481.2,973.0 L1484.3,975.8 L1487.2,978.8 L1490.0,982.0 L1492.7,985.5 L1495.2,989.1 L1497.5,992.9 Z"/>
<path class="t" d="M1444.8,968.6 L1445.9,967.4 L1447.2,966.4 L1448.5,965.6 L1449.9,964.8 L1451.4,964.2 L1452.9,963.7 L1454.5,963.4 L1456.2,963.2 L1457.9,963.1 L1459.6,963.2 L1461.4,963.4 L1463.2,963.8 L1465.1,964.3 L1467.0,964.9 L1468.9,965.6 L1470.8,966.5 L1472.7,967.5 L1474.7,968.6 L1476.6,969.9 L1478.5,971.3 L1480.4,972.8 L1482.2,974.3 L1484.1,976.0 L1485.9,977.8 L1487.6,979.7 L1489.3,981.7 L1491.0,983.7 L1492.6,985.8 L1494.1,988.0 L1495.6,990.3 L1497.0,992.6 L1498.4,994.9 L1499.6,997.3 L1500.8,999.7 L1501.9,1002.2 L1502.8,1004.6 L1503.7,1007.1 L1504.5,1009.6 L1505.2,1012.0 L1505.8,1014.5 L1506.3,1016.9 L1506.7,1019.3 L1507.0,1021.6 L1507.2,1024.0 L1507.3,1026.2 L1507.2,1028.4 L1507.1,1030.6 L1506.8,1032.6 L1506.5,1034.6 L1506.0,1036.5"/>
<path class="w" d="M1436.7,982.5 L1440.8,980.0 L1450.0,980.8 L1450.0,994.2 L1445.8,996.7 L1436.7,995.8 Z"/>
<path class="t" d="M1440.8,980.0 L1441.7,992.5 L1450.0,994.2 M1441.7,992.5 L1436.7,995.8"/>
<path class="w" d="M1441.7,1007.5 L1445.8,1005.0 L1455.0,1005.8 L1455.0,1015.8 L1450.8,1018.3 L1441.7,1017.5 Z"/>
<path class="t" d="M1445.8,1005.0 L1446.7,1014.2 L1455.0,1015.8 M1446.7,1014.2 L1441.7,1017.5"/>
<path class="w" d="M1452.5,1028.3 L1456.7,1025.8 L1468.3,1026.7 L1468.3,1037.5 L1464.2,1040.0 L1452.5,1039.2 Z"/>
<path class="t" d="M1456.7,1025.8 L1457.5,1035.8 L1468.3,1037.5 M1457.5,1035.8 L1452.5,1039.2"/>
<path class="w" d="M1468.3,1044.2 L1472.5,1041.7 L1485.0,1042.5 L1485.0,1050.8 L1480.8,1053.3 L1468.3,1052.5 Z"/>
<path class="t" d="M1472.5,1041.7 L1473.3,1049.2 L1485.0,1050.8 M1473.3,1049.2 L1468.3,1052.5"/>
<path class="ld" d="M1502.5,1056.7 L1514.2,1131.7"/>
<path class="w" d="M1444.5,1026.7 L1446.9,1031.1 L1449.0,1035.6 L1450.9,1040.2 L1452.5,1044.8 L1453.8,1049.4 L1454.8,1053.9 L1455.5,1058.4 L1455.9,1062.8 L1455.9,1067.0 L1455.7,1071.1 L1455.1,1074.9 L1454.2,1078.5 L1453.0,1081.9 L1451.5,1085.0 L1449.8,1087.7 L1447.7,1090.2 L1445.4,1092.2 L1442.9,1094.0 L1440.2,1095.3 L1437.2,1096.2 L1434.1,1096.8 L1430.8,1096.9 L1427.4,1096.7 L1423.9,1096.0 L1420.3,1095.0 L1416.7,1093.6 L1413.1,1091.8 L1409.4,1089.6 L1405.8,1087.1 L1402.3,1084.2 L1398.8,1081.1 L1395.5,1077.6 L1392.3,1074.0 L1389.3,1070.0 L1386.5,1065.9 L1383.9,1061.7 L1381.5,1057.3 L1379.3,1052.8 L1377.4,1048.2 L1375.9,1043.6 L1374.5,1039.0 L1373.5,1034.4 L1372.8,1029.9 L1372.5,1025.6 L1372.4,1021.3 L1372.7,1017.3 L1373.2,1013.4 L1374.1,1009.8 L1375.3,1006.4 L1376.8,1003.4 L1378.6,1000.6 L1380.6,998.2 L1382.9,996.1 L1385.4,994.4 L1388.2,993.0 L1391.1,992.1 L1394.2,991.5 L1397.5,991.4 L1400.9,991.6 L1404.4,992.3 L1408.0,993.3 L1411.6,994.8 L1415.3,996.6 L1418.9,998.8 L1422.5,1001.3 L1426.0,1004.1 L1429.5,1007.3 L1432.8,1010.7 L1436.0,1014.4 L1439.0,1018.3 L1441.9,1022.4 L1444.5,1026.7 Z"/>
<path class="p" d="M1442.5,1027.8 L1444.7,1032.0 L1446.8,1036.4 L1448.6,1040.7 L1450.2,1045.1 L1451.4,1049.5 L1452.4,1053.8 L1453.1,1058.1 L1453.5,1062.3 L1453.6,1066.3 L1453.4,1070.2 L1452.9,1073.8 L1452.1,1077.2 L1451.0,1080.4 L1449.7,1083.3 L1448.1,1085.9 L1446.2,1088.2 L1444.0,1090.2 L1441.7,1091.8 L1439.1,1093.0 L1436.3,1093.9 L1433.4,1094.4 L1430.3,1094.5 L1427.1,1094.2 L1423.8,1093.6 L1420.5,1092.6 L1417.0,1091.2 L1413.6,1089.4 L1410.2,1087.3 L1406.8,1084.9 L1403.4,1082.1 L1400.1,1079.1 L1397.0,1075.8 L1394.0,1072.3 L1391.1,1068.5 L1388.4,1064.6 L1385.9,1060.5 L1383.6,1056.3 L1381.5,1052.0 L1379.7,1047.6 L1378.2,1043.2 L1376.9,1038.8 L1375.9,1034.5 L1375.2,1030.2 L1374.8,1026.1 L1374.7,1022.0 L1374.9,1018.2 L1375.4,1014.5 L1376.2,1011.1 L1377.3,1007.9 L1378.6,1005.0 L1380.3,1002.4 L1382.2,1000.1 L1384.3,998.1 L1386.7,996.5 L1389.2,995.3 L1392.0,994.4 L1394.9,993.9 L1398.0,993.8 L1401.2,994.1 L1404.5,994.8 L1407.9,995.8 L1411.3,997.2 L1414.7,998.9 L1418.2,1001.0 L1421.6,1003.5 L1424.9,1006.2 L1428.2,1009.2 L1431.3,1012.5 L1434.4,1016.1 L1437.3,1019.8 L1440.0,1023.7 L1442.5,1027.8 Z"/>
<path class="p" d="M1435.8,1031.2 L1437.0,1033.4 L1438.2,1035.6 L1439.2,1037.9 L1436.3,1040.8 L1437.1,1042.7 L1437.8,1044.7 L1442.7,1046.9 L1443.4,1049.2 L1444.0,1051.4 L1444.5,1053.7 L1444.9,1055.9 L1445.2,1058.1 L1445.5,1060.2 L1445.6,1062.3 L1445.6,1064.4 L1445.6,1066.4 L1445.4,1068.3 L1445.2,1070.2 L1444.9,1072.0 L1444.5,1073.8 L1444.0,1075.4 L1443.4,1077.0 L1442.7,1078.5 L1441.9,1079.9 L1441.1,1081.2 L1440.2,1082.4 L1439.2,1083.5 L1438.1,1084.5 L1437.0,1085.4 L1435.8,1086.1 L1434.5,1086.8 L1433.1,1087.3 L1431.7,1087.8 L1430.3,1088.1 L1428.8,1088.3 L1427.2,1088.4 L1425.6,1088.3 L1422.3,1082.1 L1420.9,1081.9 L1419.4,1081.5 L1418.0,1081.1 L1417.2,1086.4 L1415.5,1085.6 L1413.7,1084.8 L1412.0,1083.8 L1410.2,1082.7 L1408.4,1081.6 L1406.7,1080.3 L1405.9,1074.2 L1404.5,1072.9 L1403.0,1071.6 L1399.9,1074.3 L1398.3,1072.6 L1396.7,1070.8 L1395.1,1068.9 L1393.6,1067.0 L1392.2,1065.0 L1390.8,1063.0 L1389.5,1060.9 L1388.2,1058.8 L1387.0,1056.6 L1385.8,1054.4 L1384.8,1052.1 L1383.8,1049.9 L1382.8,1047.6 L1382.0,1045.4 L1381.3,1043.1 L1380.6,1040.8 L1380.0,1038.6 L1379.5,1036.3 L1379.1,1034.1 L1378.8,1031.9 L1378.5,1029.8 L1378.4,1027.7 L1378.4,1025.6 L1378.4,1023.6 L1378.6,1021.7 L1378.8,1019.8 L1379.1,1018.0 L1384.1,1020.3 L1384.5,1018.8 L1385.0,1017.5 L1385.6,1016.2 L1382.1,1010.1 L1382.9,1008.8 L1383.8,1007.6 L1384.8,1006.5 L1385.9,1005.5 L1387.0,1004.6 L1391.6,1009.6 L1392.7,1009.1 L1393.8,1008.6 L1395.0,1008.2 L1393.7,1001.9 L1395.2,1001.7 L1396.8,1001.6 L1398.4,1001.7 L1400.0,1001.8 L1401.7,1002.1 L1404.6,1008.5 L1406.0,1008.9 L1407.5,1009.4 L1409.0,1010.1 L1410.3,1005.2 L1412.0,1006.2 L1413.8,1007.3 L1415.6,1008.4 L1417.3,1009.7 L1419.0,1011.1 L1420.8,1012.5 L1422.4,1014.1 L1422.4,1019.8 L1423.8,1021.3 L1425.2,1022.8 L1426.5,1024.4 L1430.4,1023.0 L1431.8,1025.0 L1433.2,1027.0 L1434.5,1029.1 L1435.8,1031.2 Z"/>
<path class="ld" d="M1441.7,1097.5 L1464.2,1159.2"/>
<path class="w" d="M1344.5,1061.2 L1344.6,1059.2 L1344.9,1057.3 L1345.3,1055.5 L1345.9,1053.9 L1346.6,1052.4 L1347.5,1051.0 L1348.5,1049.8 L1349.6,1048.8 L1350.8,1048.0 L1357.5,1044.3 L1358.8,1043.6 L1360.3,1043.2 L1361.8,1042.9 L1363.4,1042.8 L1365.1,1043.0 L1366.8,1043.3 L1368.6,1043.8 L1370.4,1044.5 L1372.2,1045.4 L1373.9,1046.5 L1375.7,1047.7 L1377.5,1049.1 L1379.2,1050.7 L1380.8,1052.4 L1382.4,1054.2 L1383.8,1056.1 L1385.2,1058.1 L1386.5,1060.2 L1387.7,1062.4 L1388.8,1064.6 L1389.7,1066.9 L1390.5,1069.2 L1391.1,1071.4 L1391.6,1073.7 L1392.0,1075.9 L1392.2,1078.0 L1392.2,1080.1 L1392.1,1082.1 L1391.8,1084.0 L1391.4,1085.8 L1390.8,1087.4 L1390.1,1089.0 L1389.2,1090.3 L1388.2,1091.5 L1387.1,1092.5 L1385.8,1093.4 L1379.2,1097.0 L1377.8,1097.7 L1376.4,1098.2 L1374.8,1098.4 L1373.2,1098.5 L1371.6,1098.4 L1369.8,1098.0 L1368.1,1097.5 L1366.3,1096.8 L1364.5,1095.9 L1362.7,1094.8 L1360.9,1093.6 L1359.2,1092.2 L1357.5,1090.6 L1355.9,1089.0 L1354.3,1087.1 L1352.8,1085.2 L1351.4,1083.2 L1350.1,1081.1 L1349.0,1078.9 L1347.9,1076.7 L1347.0,1074.4 L1346.2,1072.2 L1345.5,1069.9 L1345.0,1067.7 L1344.7,1065.5 L1344.5,1063.3 Z"/>
<path class="w" d="M1379.9,1063.9 L1381.0,1066.1 L1382.1,1068.3 L1383.0,1070.6 L1383.8,1072.8 L1384.5,1075.1 L1385.0,1077.3 L1385.3,1079.5 L1385.5,1081.7 L1385.5,1083.8 L1385.4,1085.8 L1385.1,1087.7 L1384.7,1089.5 L1384.1,1091.1 L1383.4,1092.6 L1382.5,1094.0 L1381.5,1095.2 L1380.4,1096.2 L1379.2,1097.0 L1377.8,1097.7 L1376.4,1098.2 L1374.8,1098.4 L1373.2,1098.5 L1371.6,1098.4 L1369.8,1098.0 L1368.1,1097.5 L1366.3,1096.8 L1364.5,1095.9 L1362.7,1094.8 L1360.9,1093.6 L1359.2,1092.2 L1357.5,1090.6 L1355.9,1089.0 L1354.3,1087.1 L1352.8,1085.2 L1351.4,1083.2 L1350.1,1081.1 L1349.0,1078.9 L1347.9,1076.7 L1347.0,1074.4 L1346.2,1072.2 L1345.5,1069.9 L1345.0,1067.7 L1344.7,1065.5 L1344.5,1063.3 L1344.5,1061.2 L1344.6,1059.2 L1344.9,1057.3 L1345.3,1055.5 L1345.9,1053.9 L1346.6,1052.4 L1347.5,1051.0 L1348.5,1049.8 L1349.6,1048.8 L1350.8,1048.0 L1352.2,1047.3 L1353.6,1046.8 L1355.2,1046.6 L1356.8,1046.5 L1358.4,1046.6 L1360.2,1047.0 L1361.9,1047.5 L1363.7,1048.2 L1365.5,1049.1 L1367.3,1050.2 L1369.1,1051.4 L1370.8,1052.8 L1372.5,1054.4 L1374.1,1056.0 L1375.7,1057.9 L1377.2,1059.8 L1378.6,1061.8 L1379.9,1063.9 Z"/>
<path class="p" d="M1371.6,1069.9 L1372.3,1071.2 L1372.9,1072.4 L1373.4,1073.7 L1373.9,1075.0 L1374.3,1076.3 L1374.6,1077.6 L1374.9,1078.9 L1375.0,1080.1 L1375.1,1081.3 L1375.0,1082.4 L1374.9,1083.5 L1374.7,1084.5 L1374.4,1085.4 L1374.1,1086.2 L1373.6,1087.0 L1373.1,1087.6 L1372.5,1088.2 L1371.8,1088.6 L1371.1,1089.0 L1370.3,1089.2 L1369.5,1089.3 L1368.6,1089.4 L1367.7,1089.3 L1366.8,1089.0 L1365.8,1088.7 L1364.8,1088.3 L1363.8,1087.7 L1362.8,1087.1 L1361.8,1086.4 L1360.9,1085.5 L1359.9,1084.6 L1359.0,1083.6 L1358.1,1082.6 L1357.3,1081.5 L1356.5,1080.3 L1355.7,1079.1 L1355.0,1077.8 L1354.4,1076.6 L1353.9,1075.3 L1353.4,1074.0 L1353.0,1072.7 L1352.7,1071.4 L1352.5,1070.1 L1352.3,1068.9 L1352.3,1067.7 L1352.3,1066.6 L1352.4,1065.5 L1352.6,1064.5 L1352.9,1063.6 L1353.3,1062.8 L1353.7,1062.0 L1354.2,1061.4 L1354.8,1060.8 L1355.5,1060.4 L1356.2,1060.0 L1357.0,1059.8 L1357.8,1059.7 L1358.7,1059.6 L1359.6,1059.7 L1360.6,1060.0 L1361.5,1060.3 L1362.5,1060.7 L1363.5,1061.3 L1364.5,1061.9 L1365.5,1062.6 L1366.5,1063.5 L1367.4,1064.4 L1368.3,1065.4 L1369.2,1066.4 L1370.1,1067.5 L1370.9,1068.7 L1371.6,1069.9 Z"/>
<path class="t" d="M1357.8,1062.7 L1358.4,1062.4 L1359.1,1062.2 L1359.7,1062.2 L1360.5,1062.2 L1361.2,1062.3 L1362.0,1062.6 L1362.8,1062.9 L1363.6,1063.4 L1364.5,1063.9 L1365.3,1064.5 L1366.1,1065.2 L1367.0,1066.0 L1367.8,1066.9 L1368.5,1067.8 L1369.3,1068.8 L1370.0,1069.8 L1370.6,1070.8 L1371.2,1071.9 L1371.8,1073.1 L1372.3,1074.2 L1372.7,1075.3 L1373.1,1076.4 L1373.4,1077.5 L1373.6,1078.6 L1373.7,1079.7 L1373.8,1080.7 L1373.8,1081.6 L1373.7,1082.5 L1373.5,1083.3 L1373.3,1084.1 L1373.0,1084.8 L1372.6,1085.3 L1372.2,1085.8 L1371.7,1086.2 L1371.1,1086.5 L1370.5,1086.7 L1369.8,1086.8 L1369.1,1086.8 L1368.3,1086.7 L1367.6,1086.5"/>
<path class="t" d="M1361.8,1063.1 L1362.3,1063.0 L1362.8,1063.0 L1363.4,1063.1 L1363.9,1063.3 L1364.5,1063.5 L1365.2,1063.8 L1365.8,1064.2 L1366.4,1064.6 L1367.0,1065.1 L1367.7,1065.7 L1368.3,1066.3 L1368.9,1066.9 L1369.5,1067.6 L1370.1,1068.4 L1370.6,1069.2 L1371.2,1070.0 L1371.7,1070.8 L1372.1,1071.6 L1372.5,1072.5 L1372.9,1073.4 L1373.3,1074.2 L1373.6,1075.1 L1373.8,1076.0 L1374.0,1076.8 L1374.1,1077.6 L1374.2,1078.4 L1374.3,1079.2 L1374.3,1079.9 L1374.2,1080.5 L1374.1,1081.2 L1373.9,1081.7 L1373.7,1082.2 L1373.5,1082.7 L1373.2,1083.1 L1372.8,1083.4 L1372.4,1083.7 L1372.0,1083.8 L1371.5,1084.0 L1371.0,1084.0 L1370.5,1084.0"/>
<path class="w" d="M1318.6,1076.2 L1318.8,1074.2 L1319.0,1072.3 L1319.5,1070.5 L1320.0,1068.9 L1320.8,1067.4 L1321.6,1066.0 L1322.6,1064.8 L1323.8,1063.8 L1325.0,1063.0 L1331.7,1059.3 L1333.0,1058.6 L1334.5,1058.2 L1336.0,1057.9 L1337.6,1057.8 L1339.3,1058.0 L1341.0,1058.3 L1342.8,1058.8 L1344.5,1059.5 L1346.3,1060.4 L1348.1,1061.5 L1349.9,1062.7 L1351.6,1064.1 L1353.3,1065.7 L1355.0,1067.4 L1356.5,1069.2 L1358.0,1071.1 L1359.4,1073.1 L1360.7,1075.2 L1361.9,1077.4 L1362.9,1079.6 L1363.9,1081.9 L1365.3,1086.4 L1365.8,1088.7 L1366.1,1090.9 L1366.3,1093.0 L1366.4,1095.1 L1366.2,1097.1 L1366.0,1099.0 L1365.5,1100.8 L1365.0,1102.4 L1364.2,1104.0 L1363.4,1105.3 L1362.4,1106.5 L1361.2,1107.5 L1360.0,1108.4 L1352.0,1112.7 L1350.5,1113.2 L1349.0,1113.4 L1347.4,1113.5 L1345.7,1113.4 L1344.0,1113.0 L1342.2,1112.5 L1340.5,1111.8 L1338.7,1110.9 L1336.9,1109.8 L1335.1,1108.6 L1333.4,1107.2 L1330.0,1104.0 L1327.0,1100.2 L1325.6,1098.2 L1324.3,1096.1 L1323.1,1093.9 L1322.1,1091.7 L1321.1,1089.4 L1320.4,1087.2 L1319.7,1084.9 L1319.2,1082.7 L1318.9,1080.5 L1318.7,1078.3 Z"/>
<path class="w" d="M1354.0,1078.9 L1355.2,1081.1 L1356.3,1083.3 L1357.2,1085.6 L1358.0,1087.8 L1358.6,1090.1 L1359.1,1092.3 L1359.5,1094.5 L1359.7,1096.7 L1359.7,1098.8 L1359.6,1100.8 L1359.3,1102.7 L1358.9,1104.5 L1358.3,1106.1 L1357.6,1107.6 L1356.7,1109.0 L1355.7,1110.2 L1354.6,1111.2 L1353.3,1112.0 L1352.0,1112.7 L1350.5,1113.2 L1349.0,1113.4 L1347.4,1113.5 L1345.7,1113.4 L1344.0,1113.0 L1342.2,1112.5 L1340.5,1111.8 L1338.7,1110.9 L1336.9,1109.8 L1335.1,1108.6 L1333.4,1107.2 L1331.7,1105.6 L1330.0,1104.0 L1328.5,1102.1 L1327.0,1100.2 L1325.6,1098.2 L1324.3,1096.1 L1323.1,1093.9 L1322.1,1091.7 L1321.1,1089.4 L1320.4,1087.2 L1319.7,1084.9 L1319.2,1082.7 L1318.9,1080.5 L1318.7,1078.3 L1318.6,1076.2 L1318.8,1074.2 L1319.0,1072.3 L1319.5,1070.5 L1320.0,1068.9 L1320.8,1067.4 L1321.6,1066.0 L1322.6,1064.8 L1323.8,1063.8 L1325.0,1063.0 L1326.3,1062.3 L1327.8,1061.8 L1329.3,1061.6 L1330.9,1061.5 L1332.6,1061.6 L1334.3,1062.0 L1336.1,1062.5 L1337.9,1063.2 L1339.7,1064.1 L1341.4,1065.2 L1343.2,1066.4 L1345.0,1067.8 L1346.7,1069.4 L1348.3,1071.0 L1349.9,1072.9 L1351.3,1074.8 L1352.7,1076.8 L1354.0,1078.9 Z"/>
<path class="p" d="M1345.8,1084.9 L1346.5,1086.2 L1347.1,1087.4 L1347.6,1088.7 L1348.1,1090.0 L1348.5,1091.3 L1348.8,1092.6 L1349.0,1093.9 L1349.2,1095.1 L1349.2,1096.3 L1349.2,1097.4 L1349.1,1098.5 L1348.9,1099.5 L1348.6,1100.4 L1348.2,1101.2 L1347.8,1102.0 L1347.3,1102.6 L1346.7,1103.2 L1346.0,1103.6 L1345.3,1104.0 L1344.5,1104.2 L1343.7,1104.3 L1342.8,1104.4 L1341.9,1104.3 L1340.9,1104.0 L1340.0,1103.7 L1339.0,1103.3 L1338.0,1102.7 L1337.0,1102.1 L1336.0,1101.4 L1335.0,1100.5 L1334.1,1099.6 L1333.2,1098.6 L1332.3,1097.6 L1331.4,1096.5 L1330.6,1095.3 L1329.9,1094.1 L1329.2,1092.8 L1328.6,1091.6 L1328.1,1090.3 L1327.6,1089.0 L1327.2,1087.7 L1326.9,1086.4 L1326.6,1085.1 L1326.5,1083.9 L1326.4,1082.7 L1326.5,1081.6 L1326.6,1080.5 L1326.8,1079.5 L1327.1,1078.6 L1327.4,1077.8 L1327.9,1077.0 L1328.4,1076.4 L1329.0,1075.8 L1329.7,1075.4 L1330.4,1075.0 L1331.2,1074.8 L1332.0,1074.7 L1332.9,1074.6 L1333.8,1074.7 L1334.7,1075.0 L1335.7,1075.3 L1336.7,1075.7 L1337.7,1076.3 L1338.7,1076.9 L1339.7,1077.6 L1340.6,1078.5 L1341.6,1079.4 L1342.5,1080.4 L1343.4,1081.4 L1344.2,1082.5 L1345.0,1083.7 L1345.8,1084.9 Z"/>
<path class="t" d="M1332.0,1077.7 L1332.6,1077.4 L1333.2,1077.2 L1333.9,1077.2 L1334.6,1077.2 L1335.4,1077.3 L1336.2,1077.6 L1337.0,1077.9 L1337.8,1078.4 L1338.6,1078.9 L1339.5,1079.5 L1340.3,1080.2 L1341.1,1081.0 L1341.9,1081.9 L1342.7,1082.8 L1343.4,1083.8 L1344.1,1084.8 L1344.8,1085.8 L1345.4,1086.9 L1346.0,1088.1 L1346.5,1089.2 L1346.9,1090.3 L1347.2,1091.4 L1347.5,1092.5 L1347.8,1093.6 L1347.9,1094.7 L1348.0,1095.7 L1348.0,1096.6 L1347.9,1097.5 L1347.7,1098.3 L1347.5,1099.1 L1347.2,1099.8 L1346.8,1100.3 L1346.3,1100.8 L1345.8,1101.2 L1345.3,1101.5 L1344.6,1101.7 L1344.0,1101.8 L1343.3,1101.8 L1342.5,1101.7 L1341.7,1101.5"/>
<path class="t" d="M1335.9,1078.1 L1336.4,1078.0 L1337.0,1078.0 L1337.5,1078.1 L1338.1,1078.3 L1338.7,1078.5 L1339.3,1078.8 L1339.9,1079.2 L1340.6,1079.6 L1341.2,1080.1 L1341.8,1080.7 L1342.5,1081.3 L1343.1,1081.9 L1343.7,1082.6 L1344.2,1083.4 L1344.8,1084.2 L1345.3,1085.0 L1345.8,1085.8 L1346.3,1086.6 L1346.7,1087.5 L1347.1,1088.4 L1347.4,1089.2 L1347.7,1090.1 L1348.0,1091.0 L1348.2,1091.8 L1348.3,1092.6 L1348.4,1093.4 L1348.5,1094.2 L1348.4,1094.9 L1348.4,1095.5 L1348.3,1096.2 L1348.1,1096.7 L1347.9,1097.2 L1347.6,1097.7 L1347.3,1098.1 L1347.0,1098.4 L1346.6,1098.7 L1346.1,1098.8 L1345.7,1099.0 L1345.2,1099.0 L1344.6,1099.0"/>
<path class="ld" d="M1353.3,1109.2 L1414.2,1187.5 L1378.3,1094.2"/>
<path class="ld" d="M1317.5,1063.3 L1316.7,1058.3 L1350.0,1040.8 L1352.5,1045.0"/>
<path class="k" d="M1316.7,1023.3 L1325.3,1022.2 L1332.8,1049.7 Z"/>
<path class="w" d="M1269.9,1107.2 L1270.0,1105.6 L1270.2,1104.1 L1270.5,1102.6 L1271.0,1101.3 L1271.6,1100.1 L1272.3,1099.0 L1273.1,1098.1 L1274.0,1097.3 L1275.0,1096.6 L1302.7,1080.6 L1303.8,1080.1 L1304.9,1079.7 L1306.2,1079.5 L1307.5,1079.4 L1308.8,1079.5 L1310.2,1079.8 L1311.6,1080.2 L1313.0,1080.8 L1314.4,1081.5 L1315.9,1082.3 L1317.3,1083.3 L1318.7,1084.5 L1320.0,1085.7 L1321.3,1087.0 L1322.6,1088.5 L1323.8,1090.0 L1324.9,1091.6 L1325.9,1093.3 L1326.9,1095.1 L1327.7,1096.8 L1328.4,1098.6 L1329.1,1100.4 L1329.6,1102.3 L1330.0,1104.0 L1330.3,1105.8 L1330.4,1107.5 L1330.4,1109.2 L1330.3,1110.8 L1330.1,1112.3 L1329.8,1113.7 L1329.3,1115.1 L1328.7,1116.3 L1328.0,1117.3 L1327.2,1118.3 L1326.3,1119.1 L1325.3,1119.8 L1297.6,1135.8 L1296.5,1136.3 L1295.4,1136.7 L1294.1,1136.9 L1292.8,1136.9 L1291.5,1136.8 L1290.1,1136.6 L1288.7,1136.2 L1287.3,1135.6 L1285.9,1134.9 L1284.4,1134.0 L1283.0,1133.0 L1281.6,1131.9 L1280.3,1130.7 L1277.7,1127.9 L1276.5,1126.3 L1275.4,1124.7 L1273.4,1121.3 L1272.6,1119.5 L1271.2,1115.9 L1270.7,1114.1 L1270.3,1112.3 L1270.1,1110.6 L1269.9,1108.8 Z"/>
<path class="w" d="M1298.2,1109.3 L1299.1,1111.0 L1300.0,1112.8 L1300.7,1114.6 L1301.4,1116.4 L1301.9,1118.2 L1302.3,1120.0 L1302.5,1121.8 L1302.7,1123.5 L1302.7,1125.2 L1302.6,1126.8 L1302.4,1128.3 L1302.0,1129.7 L1301.6,1131.0 L1301.0,1132.2 L1300.3,1133.3 L1299.5,1134.3 L1298.6,1135.1 L1297.6,1135.8 L1296.5,1136.3 L1295.4,1136.7 L1294.1,1136.9 L1292.8,1136.9 L1291.5,1136.8 L1290.1,1136.6 L1288.7,1136.2 L1287.3,1135.6 L1285.9,1134.9 L1284.4,1134.0 L1283.0,1133.0 L1281.6,1131.9 L1280.3,1130.7 L1279.0,1129.3 L1277.7,1127.9 L1276.5,1126.3 L1275.4,1124.7 L1274.4,1123.0 L1273.4,1121.3 L1272.6,1119.5 L1271.9,1117.7 L1271.2,1115.9 L1270.7,1114.1 L1270.3,1112.3 L1270.1,1110.6 L1269.9,1108.8 L1269.9,1107.2 L1270.0,1105.6 L1270.2,1104.1 L1270.5,1102.6 L1271.0,1101.3 L1271.6,1100.1 L1272.3,1099.0 L1273.1,1098.1 L1274.0,1097.3 L1275.0,1096.6 L1276.1,1096.1 L1277.2,1095.7 L1278.5,1095.5 L1279.7,1095.4 L1281.1,1095.5 L1282.5,1095.8 L1283.9,1096.2 L1285.3,1096.7 L1286.7,1097.5 L1288.1,1098.3 L1289.6,1099.3 L1291.0,1100.4 L1292.3,1101.7 L1293.6,1103.0 L1294.9,1104.5 L1296.1,1106.0 L1297.2,1107.6 L1298.2,1109.3 Z"/>
<path class="p" d="M1295.4,1111.2 L1296.2,1112.5 L1296.8,1113.9 L1297.4,1115.3 L1297.9,1116.7 L1298.4,1118.1 L1298.7,1119.5 L1299.0,1120.9 L1299.1,1122.2 L1299.2,1123.5 L1299.1,1124.7 L1299.0,1125.9 L1298.8,1127.0 L1298.5,1128.0 L1298.1,1128.9 L1297.6,1129.7 L1297.0,1130.4 L1296.4,1131.0 L1295.7,1131.5 L1294.9,1131.9 L1294.0,1132.2 L1293.1,1132.3 L1292.2,1132.3 L1291.2,1132.2 L1290.2,1132.0 L1289.1,1131.6 L1288.0,1131.1 L1287.0,1130.6 L1285.9,1129.9 L1284.8,1129.1 L1283.7,1128.2 L1282.7,1127.2 L1281.7,1126.1 L1280.7,1125.0 L1279.8,1123.8 L1279.0,1122.5 L1278.2,1121.2 L1277.4,1119.8 L1276.7,1118.4 L1276.1,1117.0 L1275.6,1115.6 L1275.2,1114.2 L1274.9,1112.8 L1274.6,1111.4 L1274.5,1110.1 L1274.4,1108.8 L1274.4,1107.6 L1274.6,1106.4 L1274.8,1105.4 L1275.1,1104.4 L1275.5,1103.4 L1276.0,1102.6 L1276.6,1101.9 L1277.2,1101.3 L1277.9,1100.8 L1278.7,1100.4 L1279.6,1100.2 L1280.5,1100.0 L1281.4,1100.0 L1282.4,1100.1 L1283.4,1100.4 L1284.5,1100.7 L1285.6,1101.2 L1286.6,1101.8 L1287.7,1102.5 L1288.8,1103.3 L1289.8,1104.2 L1290.9,1105.2 L1291.9,1106.2 L1292.8,1107.4 L1293.8,1108.6 L1294.6,1109.9 L1295.4,1111.2 Z" style="stroke-width:2.4"/>
<path class="t" d="M1277.9,1106.6 L1281.0,1120.4 M1280.5,1102.7 L1285.9,1126.5 M1285.2,1102.4 L1291.4,1129.9 M1290.7,1105.8 L1296.1,1129.6 M1295.6,1112.0 L1298.7,1125.7"/>
<path class="ld" d="M1309.6,1128.8 L1372.8,1212.0"/>
<path class="w" d="M1261.9,1133.2 L1264.4,1137.8 L1266.6,1142.5 L1268.6,1147.2 L1270.4,1152.0 L1271.8,1156.7 L1273.0,1161.4 L1273.8,1166.0 L1274.4,1170.5 L1274.6,1174.8 L1274.5,1178.9 L1274.1,1182.8 L1273.4,1186.5 L1272.4,1189.8 L1271.1,1192.9 L1269.4,1195.7 L1267.6,1198.1 L1265.4,1200.1 L1263.0,1201.7 L1260.4,1203.0 L1257.5,1203.8 L1254.5,1204.3 L1251.3,1204.3 L1248.0,1203.9 L1244.6,1203.1 L1241.1,1201.9 L1237.5,1200.3 L1233.9,1198.3 L1230.2,1196.0 L1226.6,1193.2 L1223.1,1190.2 L1219.6,1186.9 L1216.2,1183.2 L1213.0,1179.4 L1209.9,1175.3 L1207.0,1171.0 L1204.3,1166.5 L1201.8,1161.9 L1199.5,1157.3 L1197.5,1152.5 L1195.8,1147.8 L1194.3,1143.0 L1193.1,1138.4 L1192.3,1133.8 L1191.8,1129.3 L1191.5,1125.0 L1191.6,1120.8 L1192.0,1116.9 L1192.7,1113.3 L1193.8,1109.9 L1195.1,1106.8 L1196.7,1104.1 L1198.6,1101.7 L1200.7,1099.7 L1203.1,1098.0 L1205.8,1096.8 L1208.6,1095.9 L1211.6,1095.5 L1214.8,1095.5 L1218.1,1095.9 L1221.5,1096.7 L1225.1,1097.9 L1228.7,1099.5 L1232.3,1101.4 L1235.9,1103.8 L1239.5,1106.5 L1243.0,1109.5 L1246.5,1112.9 L1249.9,1116.5 L1253.1,1120.4 L1256.2,1124.5 L1259.2,1128.8 L1261.9,1133.2 Z"/>
<path class="p" d="M1257.3,1135.9 L1259.7,1140.3 L1261.9,1144.7 L1263.8,1149.3 L1265.5,1153.8 L1266.9,1158.3 L1268.0,1162.8 L1268.8,1167.1 L1269.4,1171.4 L1269.6,1175.5 L1269.6,1179.4 L1269.3,1183.1 L1268.6,1186.6 L1267.7,1189.8 L1266.5,1192.7 L1265.0,1195.3 L1263.2,1197.5 L1261.2,1199.4 L1259.0,1201.0 L1256.6,1202.2 L1253.9,1202.9 L1251.1,1203.3 L1248.1,1203.3 L1245.0,1202.9 L1241.7,1202.1 L1238.4,1200.9 L1235.0,1199.4 L1231.6,1197.4 L1228.2,1195.2 L1224.8,1192.6 L1221.4,1189.7 L1218.1,1186.4 L1214.9,1183.0 L1211.8,1179.3 L1208.9,1175.3 L1206.1,1171.2 L1203.5,1167.0 L1201.1,1162.6 L1199.0,1158.1 L1197.0,1153.6 L1195.4,1149.1 L1193.9,1144.6 L1192.8,1140.1 L1192.0,1135.7 L1191.4,1131.5 L1191.2,1127.4 L1191.2,1123.5 L1191.5,1119.7 L1192.2,1116.3 L1193.1,1113.1 L1194.3,1110.2 L1195.8,1107.6 L1197.6,1105.3 L1199.6,1103.4 L1201.8,1101.9 L1204.2,1100.7 L1206.9,1099.9 L1209.7,1099.6 L1212.7,1099.6 L1215.8,1100.0 L1219.1,1100.8 L1222.4,1101.9 L1225.8,1103.5 L1229.2,1105.4 L1232.6,1107.7 L1236.0,1110.3 L1239.4,1113.2 L1242.7,1116.4 L1245.9,1119.9 L1249.0,1123.6 L1251.9,1127.5 L1254.7,1131.6 L1257.3,1135.9 Z"/>
<path class="p" d="M1216.8,1116.6 L1217.5,1117.9 L1218.2,1119.3 L1218.8,1120.6 L1219.3,1122.0 L1219.7,1123.4 L1220.1,1124.7 L1220.4,1126.0 L1220.6,1127.3 L1220.7,1128.5 L1220.7,1129.7 L1220.6,1130.8 L1220.4,1131.8 L1220.2,1132.8 L1219.9,1133.6 L1219.5,1134.4 L1219.0,1135.0 L1218.4,1135.6 L1217.8,1136.0 L1217.1,1136.4 L1216.3,1136.6 L1215.5,1136.7 L1214.6,1136.6 L1213.7,1136.5 L1212.8,1136.2 L1211.8,1135.9 L1210.8,1135.4 L1209.8,1134.8 L1208.8,1134.1 L1207.8,1133.3 L1206.8,1132.4 L1205.8,1131.4 L1204.9,1130.3 L1203.9,1129.2 L1203.1,1128.0 L1202.2,1126.8 L1201.4,1125.5 L1200.7,1124.2 L1200.0,1122.8 L1199.5,1121.5 L1198.9,1120.1 L1198.5,1118.7 L1198.1,1117.4 L1197.9,1116.1 L1197.7,1114.8 L1197.6,1113.6 L1197.6,1112.4 L1197.6,1111.3 L1197.8,1110.3 L1198.0,1109.3 L1198.4,1108.5 L1198.8,1107.7 L1199.3,1107.1 L1199.8,1106.5 L1200.5,1106.1 L1201.2,1105.7 L1201.9,1105.5 L1202.7,1105.4 L1203.6,1105.5 L1204.5,1105.6 L1205.5,1105.9 L1206.4,1106.2 L1207.4,1106.7 L1208.4,1107.3 L1209.4,1108.0 L1210.4,1108.8 L1211.4,1109.7 L1212.4,1110.7 L1213.4,1111.8 L1214.3,1112.9 L1215.2,1114.1 L1216.0,1115.3 L1216.8,1116.6 Z"/>
<path class="t" d="M1207.8,1108.2 L1208.9,1108.6 L1209.9,1109.3 L1211.0,1110.1 L1212.1,1111.0 L1213.2,1112.1 L1214.2,1113.3 L1215.2,1114.6 L1216.2,1116.0 L1217.0,1117.5 L1217.8,1119.0 L1218.4,1120.5 L1218.9,1122.0 L1219.4,1123.4 L1219.7,1124.9 L1219.8,1126.2 L1219.9,1127.5 L1219.8,1128.7 L1219.5,1129.7 L1219.1,1130.6 L1218.7,1131.3 L1218.1,1131.9 L1217.3,1132.3 L1216.5,1132.5 L1215.6,1132.5 L1214.7,1132.4 L1213.7,1132.0 L1212.6,1131.5 L1211.5,1130.8 L1210.4,1130.0 L1209.3,1129.0"/>
<path class="w" d="M1166.5,1144.3 L1230.8,1107.7 L1241.9,1125.5 L1255.2,1163.2 L1237.5,1194.2 L1233.1,1203.1 L1206.5,1216.4 L1184.3,1156.5 Z"/>
<path class="p" d="M1171.0,1151.0 L1224.2,1121.0"/>
<path class="p" d="M1184.3,1156.5 L1241.9,1125.5"/>
<path class="p" d="M1208.7,1194.2 L1237.5,1178.7"/>
<path class="p" d="M1206.5,1214.2 L1230.8,1200.9"/>
<path class="p" d="M1184.3,1156.5 L1197.6,1174.3 L1206.5,1194.2 L1207.6,1214.2"/>
<path class="p" d="M1230.8,1107.7 L1233.1,1118.8"/>
<path class="w" d="M1237.5,1169.8 L1244.2,1165.4 L1264.1,1173.2 L1264.1,1177.6 L1246.4,1177.6 L1237.5,1174.3 Z"/>
<path class="w" d="M1230.4,1194.2 L1235.3,1190.9 L1241.9,1178.7 Q1244.2,1194.2 1259.7,1187.6 L1263.0,1194.2 Q1250.8,1207.5 1230.8,1200.9 Z"/>
<path class="p" d="M1230.4,1194.2 L1230.8,1200.9"/>
<path class="p" d="M1246.4,1173.2 L1264.1,1174.3" style="stroke-width:2.6"/>
<path class="w" d="M1116.6,1164.7 L1116.8,1160.4 L1117.4,1156.2 L1118.3,1152.4 L1119.5,1148.8 L1121.0,1145.5 L1122.8,1142.6 L1124.9,1140.0 L1127.3,1137.8 L1129.9,1136.0 L1139.9,1130.3 L1142.8,1128.9 L1145.9,1127.9 L1149.2,1127.4 L1152.6,1127.2 L1156.2,1127.6 L1159.9,1128.3 L1163.7,1129.5 L1167.6,1131.1 L1171.4,1133.1 L1175.3,1135.4 L1179.1,1138.2 L1182.9,1141.3 L1186.6,1144.7 L1190.1,1148.4 L1193.5,1152.4 L1196.8,1156.7 L1199.8,1161.1 L1202.7,1165.7 L1205.2,1170.5 L1207.6,1175.4 L1209.6,1180.3 L1211.4,1185.2 L1212.8,1190.2 L1213.9,1195.1 L1214.7,1199.9 L1215.2,1204.6 L1215.3,1209.1 L1215.1,1213.5 L1214.6,1217.6 L1213.7,1221.5 L1212.5,1225.0 L1211.0,1228.3 L1209.2,1231.2 L1207.0,1233.8 L1204.7,1236.0 L1202.0,1237.8 L1192.0,1243.6 L1189.2,1245.0 L1186.1,1245.9 L1182.8,1246.5 L1179.3,1246.6 L1175.7,1246.3 L1172.0,1245.5 L1168.2,1244.3 L1164.4,1242.8 L1160.5,1240.8 L1156.7,1238.4 L1152.8,1235.6 L1149.1,1232.5 L1145.4,1229.1 L1141.8,1225.4 L1138.4,1221.4 L1135.2,1217.2 L1132.1,1212.7 L1129.3,1208.1 L1126.7,1203.3 L1124.4,1198.5 L1122.3,1193.6 L1120.6,1188.6 L1119.1,1183.7 L1118.0,1178.8 L1117.2,1173.9 L1116.8,1169.2 Z"/>
<path class="p" d="M1134.9,1134.2 L1136.7,1132.5 L1138.7,1131.0 L1140.9,1129.7 L1143.2,1128.7 L1145.6,1128.0 L1148.1,1127.5 L1150.7,1127.2 L1153.5,1127.3 L1156.3,1127.6 L1159.2,1128.1 L1162.1,1128.9 L1165.1,1130.0 L1168.1,1131.3 L1171.1,1132.9 L1174.1,1134.7 L1177.1,1136.7 L1180.1,1139.0 L1183.0,1141.4 L1185.9,1144.1 L1188.7,1146.9 L1191.4,1149.9 L1194.1,1153.1 L1196.6,1156.4 L1199.0,1159.9 L1201.3,1163.4 L1203.4,1167.1 L1205.4,1170.8 L1207.2,1174.6 L1208.9,1178.4 L1210.4,1182.3 L1211.7,1186.1 L1212.8,1190.0 L1213.7,1193.8 L1214.4,1197.6 L1214.9,1201.3 L1215.2,1205.0 L1215.3,1208.5 L1215.2,1211.9 L1214.9,1215.2 L1214.4,1218.4 L1213.7,1221.4 L1212.8,1224.2 L1211.7,1226.8 L1210.4,1229.3 L1209.0,1231.5 L1207.3,1233.5 L1205.5,1235.3 L1203.5,1236.9 L1201.4,1238.2 L1199.1,1239.2"/>
<path class="w" d="M1192.7,1171.5 L1195.3,1176.3 L1197.6,1181.1 L1199.6,1186.0 L1201.4,1191.0 L1202.8,1195.9 L1204.0,1200.8 L1204.8,1205.7 L1205.2,1210.4 L1205.4,1214.9 L1205.1,1219.2 L1204.6,1223.4 L1203.7,1227.2 L1202.5,1230.8 L1201.0,1234.1 L1199.2,1237.0 L1197.1,1239.6 L1194.7,1241.8 L1192.0,1243.6 L1189.2,1245.0 L1186.1,1245.9 L1182.8,1246.5 L1179.3,1246.6 L1175.7,1246.3 L1172.0,1245.5 L1168.2,1244.3 L1164.4,1242.8 L1160.5,1240.8 L1156.7,1238.4 L1152.8,1235.6 L1149.1,1232.5 L1145.4,1229.1 L1141.8,1225.4 L1138.4,1221.4 L1135.2,1217.2 L1132.1,1212.7 L1129.3,1208.1 L1126.7,1203.3 L1124.4,1198.5 L1122.3,1193.6 L1120.6,1188.6 L1119.1,1183.7 L1118.0,1178.8 L1117.2,1173.9 L1116.8,1169.2 L1116.6,1164.7 L1116.8,1160.4 L1117.4,1156.2 L1118.3,1152.4 L1119.5,1148.8 L1121.0,1145.5 L1122.8,1142.6 L1124.9,1140.0 L1127.3,1137.8 L1129.9,1136.0 L1132.8,1134.6 L1135.9,1133.7 L1139.2,1133.1 L1142.7,1133.0 L1146.2,1133.3 L1149.9,1134.1 L1153.7,1135.3 L1157.6,1136.8 L1161.4,1138.8 L1165.3,1141.2 L1169.1,1144.0 L1172.9,1147.1 L1176.6,1150.5 L1180.1,1154.2 L1183.6,1158.2 L1186.8,1162.4 L1189.9,1166.9 L1192.7,1171.5 Z"/>
<path class="p" d="M1189.8,1173.2 L1192.2,1177.6 L1194.4,1182.2 L1196.3,1186.8 L1198.0,1191.4 L1199.4,1196.0 L1200.5,1200.6 L1201.3,1205.0 L1201.7,1209.4 L1201.9,1213.6 L1201.8,1217.7 L1201.3,1221.5 L1200.6,1225.1 L1199.5,1228.4 L1198.1,1231.4 L1196.5,1234.1 L1194.6,1236.5 L1192.4,1238.5 L1190.0,1240.1 L1187.4,1241.4 L1184.6,1242.2 L1181.6,1242.7 L1178.4,1242.8 L1175.1,1242.4 L1171.7,1241.7 L1168.3,1240.6 L1164.7,1239.0 L1161.2,1237.1 L1157.6,1234.9 L1154.1,1232.3 L1150.6,1229.4 L1147.2,1226.1 L1143.9,1222.6 L1140.7,1218.9 L1137.7,1214.9 L1134.8,1210.8 L1132.2,1206.4 L1129.8,1202.0 L1127.6,1197.4 L1125.6,1192.8 L1124.0,1188.2 L1122.6,1183.6 L1121.5,1179.0 L1120.7,1174.6 L1120.2,1170.2 L1120.1,1166.0 L1120.2,1161.9 L1120.7,1158.1 L1121.4,1154.5 L1122.5,1151.2 L1123.8,1148.2 L1125.5,1145.5 L1127.4,1143.1 L1129.5,1141.1 L1131.9,1139.5 L1134.6,1138.2 L1137.4,1137.4 L1140.4,1136.9 L1143.5,1136.8 L1146.8,1137.2 L1150.2,1137.9 L1153.7,1139.0 L1157.3,1140.6 L1160.8,1142.5 L1164.4,1144.7 L1167.9,1147.3 L1171.4,1150.2 L1174.8,1153.5 L1178.1,1157.0 L1181.3,1160.7 L1184.3,1164.7 L1187.2,1168.8 L1189.8,1173.2 Z"/>
<path class="t" d="M1123.5,1156.6 L1124.4,1153.7 L1125.5,1150.9 L1126.9,1148.5 L1128.6,1146.3 L1130.4,1144.5 L1132.5,1142.9 L1134.8,1141.7 L1137.2,1140.9 L1139.8,1140.4 L1142.6,1140.2 L1145.5,1140.4 L1148.5,1140.9 L1151.5,1141.8 L1154.7,1143.1 L1157.8,1144.6 L1161.0,1146.5 L1164.2,1148.7 L1167.4,1151.1 L1170.5,1153.9 L1173.6,1156.9 L1176.5,1160.1 L1179.4,1163.6 L1182.1,1167.2 L1184.7,1171.0 L1187.1,1174.9 L1189.3,1179.0 L1191.3,1183.1 L1193.1,1187.3 L1194.6,1191.5 L1195.9,1195.6 L1197.0,1199.8 L1197.8,1203.9 L1198.4,1207.8 L1198.7,1211.7 L1198.7,1215.4 L1198.5,1218.9 L1198.0,1222.3 L1197.2,1225.4 L1196.2,1228.2 L1194.9,1230.8 L1193.4,1233.1 L1191.6,1235.1 L1189.7,1236.8 L1187.5,1238.2 L1185.1,1239.2 L1182.6,1239.9 L1179.9,1240.2 L1177.1,1240.2 L1174.1,1239.9 L1171.1,1239.1"/>
<path class="p" d="M1179.6,1180.8 L1181.4,1184.1 L1183.1,1187.5 L1184.5,1190.9 L1185.8,1194.3 L1186.9,1197.7 L1187.7,1201.1 L1188.4,1204.4 L1188.8,1207.6 L1189.0,1210.7 L1189.0,1213.7 L1188.7,1216.5 L1188.2,1219.1 L1187.6,1221.5 L1186.7,1223.7 L1185.5,1225.6 L1184.2,1227.3 L1182.7,1228.8 L1181.1,1229.9 L1179.2,1230.8 L1177.2,1231.4 L1175.1,1231.7 L1172.9,1231.6 L1170.5,1231.3 L1168.1,1230.7 L1165.6,1229.8 L1163.0,1228.6 L1160.5,1227.2 L1157.9,1225.5 L1155.3,1223.5 L1152.8,1221.3 L1150.3,1218.8 L1147.9,1216.2 L1145.6,1213.4 L1143.3,1210.4 L1141.2,1207.3 L1139.3,1204.1 L1137.5,1200.8 L1135.8,1197.4 L1134.4,1194.0 L1133.1,1190.6 L1132.0,1187.2 L1131.2,1183.8 L1130.5,1180.5 L1130.1,1177.3 L1129.9,1174.2 L1129.9,1171.3 L1130.2,1168.5 L1130.6,1165.8 L1131.3,1163.4 L1132.2,1161.2 L1133.3,1159.3 L1134.6,1157.6 L1136.1,1156.2 L1137.8,1155.0 L1139.7,1154.1 L1141.6,1153.6 L1143.8,1153.3 L1146.0,1153.3 L1148.4,1153.6 L1150.8,1154.2 L1153.3,1155.1 L1155.8,1156.3 L1158.4,1157.7 L1161.0,1159.5 L1163.6,1161.4 L1166.1,1163.7 L1168.6,1166.1 L1171.0,1168.7 L1173.3,1171.5 L1175.5,1174.5 L1177.6,1177.6 L1179.6,1180.8 Z"/>
<path class="t" d="M1146.2,1154.1 L1147.9,1153.9 L1149.8,1153.9 L1151.7,1154.1 L1153.7,1154.6 L1155.7,1155.3 L1157.8,1156.2 L1159.9,1157.3 L1162.1,1158.6 L1164.2,1160.2 L1166.4,1161.9 L1168.5,1163.8 L1170.6,1165.9 L1172.7,1168.1 L1174.7,1170.4 L1176.6,1172.9 L1178.4,1175.5 L1180.2,1178.2 L1181.8,1181.0 L1183.3,1183.8 L1184.7,1186.7 L1186.0,1189.6 L1187.1,1192.5 L1188.1,1195.4 L1188.9,1198.3 L1189.6,1201.1 L1190.1,1203.9 L1190.5,1206.6 L1190.6,1209.2 L1190.6,1211.6 L1190.5,1214.0 L1190.1,1216.2 L1189.6,1218.2 L1189.0,1220.1 L1188.2,1221.8 L1187.2,1223.3 L1186.1,1224.6 L1184.8,1225.7 L1183.4,1226.6 L1181.9,1227.3 L1180.2,1227.7"/>
<path class="p" d="M1139.9,1139.2 L1144.4,1133.9 L1153.2,1134.4 L1156.6,1139.9"/>
<path class="ld" d="M1266.3,1196.5 L1316.2,1245.2"/>
<path class="ld" d="M1237.1,1210.9 L1237.1,1239.7"/>
<path class="w" d="M1229.7,1247.9 L1238.6,1244.1 L1244.6,1247.0 L1244.6,1253.0 L1235.7,1257.4 L1229.7,1254.1 Z"/>
<path class="t" d="M1229.7,1247.9 L1235.7,1251.2 L1244.6,1247.0 M1235.7,1251.2 L1235.7,1257.4"/>
<path class="ld" d="M1244.2,1254.1 L1268.6,1271.9"/>
<path class="o" d="M1079.6,1232.2 L1078.2,1229.2 L1076.9,1226.3 L1075.8,1223.3 L1074.7,1220.3 L1073.8,1217.3 L1073.0,1214.4 L1072.4,1211.4 L1071.9,1208.5 L1071.5,1205.6 L1071.3,1202.8 L1071.2,1200.0 L1071.3,1197.3 L1071.5,1194.7 L1071.9,1192.2 L1072.4,1189.8 L1073.0,1187.5 L1073.8,1185.3 L1074.7,1183.3 L1075.8,1181.4 L1077.0,1179.6 L1078.3,1178.0 L1079.7,1176.5 L1081.2,1175.2 L1082.8,1174.1 L1084.6,1173.1 L1086.4,1172.4 L1088.3,1171.8 L1090.3,1171.3 L1092.4,1171.1 L1094.6,1171.0 L1096.8,1171.2 L1099.0,1171.5 L1101.3,1172.0 L1103.6,1172.6 L1106.0,1173.5 L1108.3,1174.5 L1110.7,1175.7 L1113.1,1177.0 L1115.4,1178.5 L1117.8,1180.2 L1120.1,1182.0 L1122.3,1184.0 L1124.6,1186.1 L1126.7,1188.3 L1128.8,1190.6 L1130.9,1193.1 L1132.8,1195.6 L1134.7,1198.2 L1136.5,1201.0 L1138.1,1203.8 L1139.7,1206.6 L1141.2,1209.5 L1142.5,1212.4 L1143.8,1215.4 L1144.9,1218.4 L1145.8,1221.4 L1146.7,1224.4 L1147.4,1227.3 L1147.9,1230.3 L1148.4,1233.2 L1148.6,1236.0 L1148.8,1238.8 L1148.7,1241.6 L1148.6,1244.2 L1148.3,1246.8 L1147.8,1249.2 L1147.3,1251.5 L1146.5,1253.8 L1145.7,1255.9 L1144.7,1257.8 L1143.6,1259.7 L1142.3,1261.3 L1140.9,1262.9 L1139.5,1264.2 L1137.9,1265.4 L1136.2,1266.5 L1134.4,1267.3 L1132.5,1268.0 L1130.5,1268.5 L1128.5,1268.8"/>
<path class="ld" d="M1144.2,1261.7 L1205.8,1309.2"/>
<path class="w" d="M1016.7,1238.0 L1017.0,1234.8 L1017.4,1231.8 L1018.1,1229.0 L1019.0,1226.3 L1020.2,1223.9 L1021.6,1221.7 L1023.2,1219.8 L1025.0,1218.2 L1027.0,1216.9 L1042.8,1207.7 L1045.0,1206.6 L1047.3,1205.9 L1049.8,1205.5 L1052.3,1205.3 L1055.0,1205.5 L1057.8,1206.0 L1060.6,1206.9 L1063.4,1208.0 L1066.3,1209.4 L1069.1,1211.1 L1071.9,1213.1 L1074.7,1215.3 L1077.4,1217.7 L1080.0,1220.4 L1082.5,1223.3 L1084.9,1226.4 L1087.1,1229.6 L1089.1,1232.9 L1091.0,1236.4 L1092.7,1239.9 L1094.2,1243.5 L1095.4,1247.1 L1096.4,1250.7 L1097.2,1254.2 L1097.7,1257.8 L1098.0,1261.2 L1098.1,1264.5 L1097.9,1267.7 L1097.4,1270.7 L1096.7,1273.5 L1095.8,1276.2 L1094.6,1278.6 L1093.2,1280.8 L1091.6,1282.7 L1089.8,1284.3 L1087.8,1285.6 L1072.0,1294.8 L1069.8,1295.9 L1067.5,1296.6 L1065.1,1297.0 L1062.5,1297.2 L1059.8,1297.0 L1057.1,1296.5 L1054.3,1295.6 L1051.4,1294.5 L1048.6,1293.1 L1045.7,1291.4 L1042.9,1289.4 L1040.1,1287.2 L1037.4,1284.8 L1034.8,1282.1 L1032.3,1279.2 L1030.0,1276.1 L1027.7,1272.9 L1025.7,1269.6 L1023.8,1266.1 L1022.1,1262.6 L1020.7,1259.0 L1019.4,1255.4 L1018.4,1251.8 L1017.6,1248.3 L1017.1,1244.7 L1016.8,1241.3 Z"/>
<path class="w" d="M1073.3,1242.1 L1075.2,1245.5 L1076.9,1249.1 L1078.3,1252.6 L1079.6,1256.2 L1080.6,1259.8 L1081.4,1263.4 L1081.9,1266.9 L1082.2,1270.4 L1082.3,1273.7 L1082.0,1276.8 L1081.6,1279.9 L1080.9,1282.7 L1080.0,1285.3 L1078.8,1287.8 L1077.4,1289.9 L1075.8,1291.8 L1074.0,1293.5 L1072.0,1294.8 L1069.8,1295.9 L1067.5,1296.6 L1065.1,1297.0 L1062.5,1297.2 L1059.8,1297.0 L1057.1,1296.5 L1054.3,1295.6 L1051.4,1294.5 L1048.6,1293.1 L1045.7,1291.4 L1042.9,1289.4 L1040.1,1287.2 L1037.4,1284.8 L1034.8,1282.1 L1032.3,1279.2 L1030.0,1276.1 L1027.7,1272.9 L1025.7,1269.6 L1023.8,1266.1 L1022.1,1262.6 L1020.7,1259.0 L1019.4,1255.4 L1018.4,1251.8 L1017.6,1248.3 L1017.1,1244.7 L1016.8,1241.3 L1016.7,1238.0 L1017.0,1234.8 L1017.4,1231.8 L1018.1,1229.0 L1019.0,1226.3 L1020.2,1223.9 L1021.6,1221.7 L1023.2,1219.8 L1025.0,1218.2 L1027.0,1216.9 L1029.2,1215.8 L1031.5,1215.1 L1033.9,1214.6 L1036.5,1214.5 L1039.2,1214.7 L1041.9,1215.2 L1044.7,1216.0 L1047.6,1217.1 L1050.4,1218.6 L1053.3,1220.3 L1056.1,1222.2 L1058.9,1224.4 L1061.6,1226.9 L1064.2,1229.6 L1066.7,1232.5 L1069.0,1235.5 L1071.3,1238.7 L1073.3,1242.1 Z"/>
<path class="p" d="M1069.9,1244.2 L1071.6,1247.4 L1073.2,1250.6 L1074.5,1253.8 L1075.6,1257.1 L1076.6,1260.3 L1077.3,1263.6 L1077.9,1266.7 L1078.2,1269.8 L1078.2,1272.8 L1078.1,1275.7 L1077.7,1278.4 L1077.1,1280.9 L1076.3,1283.3 L1075.3,1285.4 L1074.1,1287.4 L1072.7,1289.1 L1071.2,1290.5 L1069.4,1291.7 L1067.5,1292.6 L1065.5,1293.3 L1063.3,1293.6 L1061.0,1293.7 L1058.7,1293.5 L1056.2,1293.0 L1053.7,1292.2 L1051.2,1291.2 L1048.6,1289.9 L1046.1,1288.3 L1043.6,1286.5 L1041.1,1284.5 L1038.7,1282.2 L1036.3,1279.8 L1034.1,1277.2 L1031.9,1274.4 L1029.9,1271.5 L1028.1,1268.4 L1026.4,1265.3 L1024.8,1262.1 L1023.5,1258.9 L1022.4,1255.6 L1021.4,1252.3 L1020.7,1249.1 L1020.1,1245.9 L1019.8,1242.9 L1019.8,1239.9 L1019.9,1237.0 L1020.3,1234.3 L1020.9,1231.8 L1021.7,1229.4 L1022.7,1227.2 L1023.9,1225.3 L1025.3,1223.6 L1026.8,1222.2 L1028.6,1221.0 L1030.5,1220.1 L1032.5,1219.4 L1034.7,1219.0 L1037.0,1219.0 L1039.3,1219.2 L1041.8,1219.7 L1044.3,1220.4 L1046.8,1221.5 L1049.4,1222.8 L1051.9,1224.3 L1054.4,1226.2 L1056.9,1228.2 L1059.3,1230.4 L1061.7,1232.9 L1063.9,1235.5 L1066.1,1238.3 L1068.1,1241.2 L1069.9,1244.2 Z"/>
<path class="t" d="M1066.5,1246.4 L1068.1,1249.2 L1069.5,1252.1 L1070.7,1255.0 L1071.7,1257.9 L1072.6,1260.8 L1073.3,1263.7 L1073.8,1266.5 L1074.1,1269.3 L1074.2,1271.9 L1074.1,1274.5 L1073.9,1276.9 L1073.4,1279.1 L1072.7,1281.2 L1071.9,1283.1 L1070.9,1284.8 L1069.7,1286.3 L1068.3,1287.6 L1066.8,1288.6 L1065.2,1289.4 L1063.4,1289.9 L1061.5,1290.2 L1059.6,1290.2 L1057.5,1290.0 L1055.4,1289.5 L1053.2,1288.8 L1050.9,1287.9 L1048.7,1286.7 L1046.5,1285.2 L1044.2,1283.6 L1042.0,1281.7 L1039.9,1279.7 L1037.8,1277.5 L1035.8,1275.1 L1033.9,1272.6 L1032.1,1270.0 L1030.5,1267.2 L1028.9,1264.4 L1027.5,1261.6 L1026.3,1258.7 L1025.3,1255.8 L1024.4,1252.9 L1023.7,1250.0 L1023.2,1247.2 L1022.9,1244.4 L1022.8,1241.7 L1022.9,1239.2 L1023.1,1236.8 L1023.6,1234.5 L1024.3,1232.5 L1025.1,1230.6 L1026.1,1228.9 L1027.3,1227.4 L1028.7,1226.1 L1030.2,1225.1 L1031.8,1224.3 L1033.6,1223.8 L1035.5,1223.5 L1037.4,1223.4 L1039.5,1223.7 L1041.6,1224.1 L1043.8,1224.8 L1046.1,1225.8 L1048.3,1227.0 L1050.5,1228.4 L1052.8,1230.1 L1055.0,1231.9 L1057.1,1234.0 L1059.2,1236.2 L1061.2,1238.6 L1063.1,1241.1 L1064.9,1243.7 L1066.5,1246.4 Z"/>
<path class="p" d="M1061.9,1249.3 L1063.1,1251.5 L1064.1,1253.8 L1065.1,1256.0 L1065.9,1258.3 L1066.6,1260.6 L1067.2,1262.8 L1067.6,1265.0 L1067.8,1267.2 L1067.9,1269.2 L1067.9,1271.2 L1067.7,1273.1 L1067.3,1274.8 L1066.8,1276.5 L1066.2,1277.9 L1065.4,1279.2 L1064.5,1280.4 L1063.5,1281.4 L1062.3,1282.2 L1061.1,1282.8 L1059.7,1283.2 L1058.3,1283.4 L1056.7,1283.4 L1055.1,1283.2 L1053.5,1282.8 L1051.8,1282.3 L1050.1,1281.5 L1048.3,1280.5 L1046.6,1279.4 L1044.9,1278.1 L1043.2,1276.7 L1041.5,1275.1 L1039.9,1273.3 L1038.3,1271.5 L1036.8,1269.5 L1035.4,1267.5 L1034.1,1265.3 L1032.9,1263.1 L1031.9,1260.9 L1030.9,1258.6 L1030.1,1256.4 L1029.4,1254.1 L1028.8,1251.8 L1028.4,1249.6 L1028.2,1247.5 L1028.1,1245.4 L1028.1,1243.5 L1028.3,1241.6 L1028.7,1239.8 L1029.2,1238.2 L1029.8,1236.7 L1030.6,1235.4 L1031.5,1234.3 L1032.5,1233.3 L1033.7,1232.5 L1034.9,1231.9 L1036.3,1231.5 L1037.7,1231.3 L1039.3,1231.3 L1040.9,1231.5 L1042.5,1231.8 L1044.2,1232.4 L1045.9,1233.2 L1047.7,1234.1 L1049.4,1235.2 L1051.1,1236.5 L1052.8,1238.0 L1054.5,1239.6 L1056.1,1241.3 L1057.7,1243.2 L1059.2,1245.1 L1060.6,1247.2 L1061.9,1249.3 Z" style="stroke-width:2.8"/>
<path class="p" d="M1058.8,1251.3 L1059.8,1253.2 L1060.8,1255.2 L1061.6,1257.2 L1062.4,1259.1 L1063.0,1261.1 L1063.5,1263.0 L1063.9,1264.9 L1064.2,1266.8 L1064.3,1268.5 L1064.3,1270.2 L1064.2,1271.8 L1064.0,1273.3 L1063.6,1274.7 L1063.1,1276.0 L1062.5,1277.1 L1061.8,1278.0 L1060.9,1278.8 L1060.0,1279.5 L1059.0,1280.0 L1057.9,1280.3 L1056.7,1280.4 L1055.4,1280.4 L1054.1,1280.2 L1052.7,1279.8 L1051.3,1279.3 L1049.8,1278.6 L1048.4,1277.7 L1046.9,1276.7 L1045.4,1275.6 L1044.0,1274.3 L1042.6,1272.9 L1041.2,1271.3 L1039.9,1269.7 L1038.6,1268.0 L1037.4,1266.2 L1036.2,1264.3 L1035.2,1262.4 L1034.2,1260.5 L1033.4,1258.5 L1032.6,1256.5 L1032.0,1254.6 L1031.5,1252.6 L1031.1,1250.7 L1030.8,1248.9 L1030.7,1247.1 L1030.7,1245.4 L1030.8,1243.8 L1031.0,1242.3 L1031.4,1241.0 L1031.9,1239.7 L1032.5,1238.6 L1033.2,1237.6 L1034.1,1236.8 L1035.0,1236.2 L1036.0,1235.7 L1037.1,1235.4 L1038.3,1235.2 L1039.6,1235.3 L1040.9,1235.5 L1042.3,1235.8 L1043.7,1236.4 L1045.2,1237.1 L1046.6,1237.9 L1048.1,1238.9 L1049.6,1240.1 L1051.0,1241.4 L1052.4,1242.8 L1053.8,1244.3 L1055.1,1246.0 L1056.4,1247.7 L1057.6,1249.5 L1058.8,1251.3 Z"/>
<path class="p" d="M1043.4,1241.1 L1044.6,1241.3 L1045.8,1241.7 L1047.1,1242.3 L1048.4,1243.0 L1049.7,1243.9 L1051.0,1244.9 L1052.3,1246.1 L1053.6,1247.4 L1054.9,1248.9 L1056.1,1250.4 L1057.2,1252.0 L1058.3,1253.7 L1059.3,1255.5 L1060.2,1257.3 L1061.0,1259.1 L1061.7,1260.9 L1062.3,1262.7 L1062.7,1264.4 L1063.1,1266.1 L1063.3,1267.8 L1063.4,1269.3 L1063.3,1270.8 L1063.1,1272.2 L1062.8,1273.4 L1062.4,1274.5 L1061.8,1275.4 L1061.1,1276.2 L1060.4,1276.8 L1059.5,1277.3 L1058.5,1277.5"/>
<path class="ld" d="M1083.3,1288.3 L1155.0,1338.3"/>
<path class="w" fill-rule="evenodd" d="M1028.5,1266.2 L1030.9,1270.6 L1033.0,1275.0 L1034.8,1279.6 L1036.4,1284.1 L1037.6,1288.7 L1038.5,1293.2 L1039.2,1297.6 L1039.5,1302.0 L1039.5,1306.2 L1039.2,1310.2 L1038.5,1314.1 L1037.6,1317.7 L1036.3,1321.1 L1034.7,1324.2 L1032.9,1326.9 L1030.8,1329.4 L1028.4,1331.5 L1025.8,1333.2 L1023.0,1334.6 L1020.0,1335.6 L1016.8,1336.2 L1013.5,1336.4 L1010.1,1336.2 L1006.5,1335.6 L1002.9,1334.6 L999.3,1333.3 L995.6,1331.5 L991.9,1329.4 L988.3,1327.0 L984.8,1324.2 L981.3,1321.1 L978.0,1317.8 L974.9,1314.2 L971.9,1310.3 L969.1,1306.3 L966.5,1302.1 L964.1,1297.7 L962.0,1293.3 L960.2,1288.8 L958.6,1284.2 L957.4,1279.7 L956.5,1275.1 L955.8,1270.7 L955.5,1266.3 L955.5,1262.1 L955.8,1258.1 L956.5,1254.2 L957.4,1250.6 L958.7,1247.3 L960.3,1244.2 L962.1,1241.4 L964.2,1238.9 L966.6,1236.8 L969.2,1235.1 L972.0,1233.7 L975.0,1232.7 L978.2,1232.1 L981.5,1231.9 L984.9,1232.1 L988.5,1232.7 L992.1,1233.7 L995.7,1235.1 L999.4,1236.8 L1003.1,1238.9 L1006.7,1241.3 L1010.2,1244.1 L1013.7,1247.2 L1017.0,1250.5 L1020.1,1254.2 L1023.1,1258.0 L1025.9,1262.0 L1028.5,1266.2 Z M1015.3,1274.6 L1016.9,1277.5 L1018.3,1280.4 L1019.5,1283.4 L1020.6,1286.4 L1021.4,1289.4 L1022.1,1292.3 L1022.5,1295.2 L1022.8,1298.1 L1022.9,1300.8 L1022.7,1303.5 L1022.4,1306.0 L1021.8,1308.3 L1021.1,1310.5 L1020.1,1312.5 L1019.0,1314.3 L1017.7,1315.9 L1016.2,1317.2 L1014.6,1318.3 L1012.8,1319.2 L1010.9,1319.8 L1008.9,1320.1 L1006.8,1320.2 L1004.6,1320.0 L1002.3,1319.6 L1000.0,1318.9 L997.7,1317.9 L995.3,1316.8 L993.0,1315.3 L990.6,1313.7 L988.3,1311.8 L986.1,1309.8 L983.9,1307.5 L981.9,1305.1 L979.9,1302.6 L978.1,1299.9 L976.3,1297.1 L974.8,1294.2 L973.4,1291.3 L972.2,1288.3 L971.1,1285.3 L970.2,1282.3 L969.6,1279.3 L969.1,1276.4 L968.9,1273.6 L968.8,1270.8 L968.9,1268.2 L969.3,1265.7 L969.9,1263.3 L970.6,1261.2 L971.5,1259.2 L972.7,1257.4 L974.0,1255.8 L975.5,1254.5 L977.1,1253.4 L978.9,1252.5 L980.8,1251.9 L982.8,1251.6 L984.9,1251.5 L987.1,1251.6 L989.3,1252.1 L991.7,1252.8 L994.0,1253.7 L996.4,1254.9 L998.7,1256.3 L1001.0,1258.0 L1003.3,1259.9 L1005.6,1261.9 L1007.7,1264.2 L1009.8,1266.6 L1011.8,1269.1 L1013.6,1271.8 L1015.3,1274.6 Z"/>
<path class="t" d="M968.8,1261.7 L969.6,1259.5 L970.5,1257.5 L971.6,1255.7 L972.9,1254.1 L974.3,1252.7 L975.8,1251.5 L977.5,1250.5 L979.3,1249.8 L981.3,1249.3 L983.3,1249.0 L985.4,1248.9 L987.6,1249.1 L989.8,1249.5 L992.1,1250.1 L994.4,1251.0 L996.7,1252.1 L999.0,1253.4 L1001.3,1254.9 L1003.6,1256.6 L1005.8,1258.5 L1008.0,1260.5 L1010.1,1262.7 L1012.1,1265.1 L1014.0,1267.6 L1015.8,1270.2 L1017.5,1272.9 L1019.0,1275.7 L1020.4,1278.6 L1021.6,1281.5 L1022.7,1284.4 L1023.6,1287.3 L1024.3,1290.2 L1024.9,1293.1 L1025.3,1295.9 L1025.4,1298.7 L1025.4,1301.4 L1025.3,1303.9 L1024.9,1306.4 L1024.3,1308.7 L1023.6,1310.9 L1022.7,1312.9 L1021.6,1314.7 L1020.4,1316.3 L1019.0,1317.8 L1017.4,1319.0 L1015.8,1320.0 L1014.0,1320.8 L1012.1,1321.4 L1010.1,1321.7 L1008.0,1321.8"/>
<path class="ld" d="M1035.8,1325.8 L1094.2,1373.3"/>
<path class="w" fill-rule="evenodd" d="M972.7,1298.8 L975.1,1303.2 L977.2,1307.7 L979.1,1312.2 L980.7,1316.9 L981.9,1321.5 L982.9,1326.0 L983.6,1330.6 L983.9,1335.0 L983.9,1339.2 L983.6,1343.3 L983.0,1347.2 L982.1,1350.8 L980.8,1354.2 L979.3,1357.3 L977.5,1360.1 L975.4,1362.6 L973.0,1364.7 L970.4,1366.5 L967.6,1367.8 L964.6,1368.8 L961.4,1369.4 L958.1,1369.6 L954.6,1369.4 L951.0,1368.8 L947.4,1367.7 L943.7,1366.3 L940.1,1364.5 L936.4,1362.4 L932.7,1359.9 L929.2,1357.1 L925.7,1353.9 L922.3,1350.5 L919.1,1346.9 L916.1,1343.0 L913.3,1338.9 L910.6,1334.6 L908.2,1330.2 L906.1,1325.7 L904.3,1321.1 L902.7,1316.5 L901.4,1311.9 L900.4,1307.3 L899.8,1302.8 L899.4,1298.4 L899.4,1294.1 L899.7,1290.0 L900.3,1286.2 L901.3,1282.5 L902.5,1279.1 L904.0,1276.0 L905.9,1273.2 L908.0,1270.7 L910.3,1268.6 L912.9,1266.9 L915.7,1265.5 L918.7,1264.5 L921.9,1263.9 L925.3,1263.7 L928.7,1264.0 L932.3,1264.6 L935.9,1265.6 L939.6,1267.0 L943.3,1268.8 L947.0,1270.9 L950.6,1273.4 L954.2,1276.3 L957.6,1279.4 L961.0,1282.8 L964.2,1286.5 L967.2,1290.4 L970.1,1294.5 L972.7,1298.8 Z M961.2,1305.0 L963.0,1308.4 L964.7,1311.8 L966.1,1315.3 L967.4,1318.8 L968.5,1322.3 L969.3,1325.8 L969.9,1329.2 L970.3,1332.5 L970.4,1335.7 L970.3,1338.8 L970.0,1341.7 L969.5,1344.4 L968.7,1346.9 L967.7,1349.2 L966.4,1351.2 L965.0,1353.0 L963.4,1354.5 L961.6,1355.7 L959.6,1356.7 L957.5,1357.3 L955.2,1357.7 L952.8,1357.7 L950.4,1357.4 L947.8,1356.9 L945.2,1356.0 L942.5,1354.8 L939.8,1353.4 L937.1,1351.7 L934.4,1349.7 L931.8,1347.5 L929.2,1345.0 L926.7,1342.3 L924.3,1339.5 L922.0,1336.5 L919.9,1333.3 L917.8,1330.0 L916.0,1326.6 L914.3,1323.2 L912.9,1319.7 L911.6,1316.2 L910.5,1312.7 L909.7,1309.2 L909.1,1305.8 L908.7,1302.5 L908.6,1299.3 L908.7,1296.2 L909.0,1293.3 L909.5,1290.6 L910.3,1288.1 L911.3,1285.8 L912.6,1283.8 L914.0,1282.0 L915.6,1280.5 L917.4,1279.3 L919.4,1278.3 L921.5,1277.7 L923.8,1277.3 L926.2,1277.3 L928.6,1277.6 L931.2,1278.1 L933.8,1279.0 L936.5,1280.2 L939.2,1281.6 L941.9,1283.3 L944.6,1285.3 L947.2,1287.5 L949.8,1290.0 L952.3,1292.7 L954.7,1295.5 L957.0,1298.5 L959.1,1301.7 L961.2,1305.0 Z"/>
<path class="t" d="M971.8,1299.3 L974.1,1303.6 L976.1,1307.9 L978.0,1312.3 L979.5,1316.8 L980.7,1321.3 L981.7,1325.7 L982.4,1330.0 L982.7,1334.3 L982.8,1338.4 L982.5,1342.3 L981.9,1346.1 L981.1,1349.6 L979.9,1352.8 L978.4,1355.8 L976.7,1358.5 L974.7,1360.9 L972.5,1362.9 L970.0,1364.6 L967.3,1365.9 L964.4,1366.8 L961.4,1367.4 L958.2,1367.5 L954.9,1367.3 L951.5,1366.7 L948.0,1365.7 L944.5,1364.3 L940.9,1362.5 L937.4,1360.4 L933.9,1358.0 L930.5,1355.3 L927.1,1352.2 L923.9,1348.9 L920.8,1345.3 L917.9,1341.6 L915.1,1337.6 L912.6,1333.5 L910.3,1329.2 L908.2,1324.8 L906.4,1320.4 L904.8,1315.9 L903.6,1311.5 L902.6,1307.1 L902.0,1302.7 L901.6,1298.5 L901.6,1294.4 L901.8,1290.4 L902.4,1286.7 L903.3,1283.2 L904.4,1279.9 L905.9,1276.9 L907.6,1274.2 L909.6,1271.9 L911.9,1269.8 L914.3,1268.2 L917.0,1266.9 L919.9,1265.9 L922.9,1265.4 L926.1,1265.2 L929.4,1265.5 L932.9,1266.1 L936.3,1267.1 L939.9,1268.5 L943.4,1270.2 L946.9,1272.3 L950.4,1274.7 L953.9,1277.5 L957.2,1280.5 L960.5,1283.8 L963.5,1287.4 L966.5,1291.2 L969.2,1295.1 L971.8,1299.3 Z"/>
<path class="t" d="M960.2,1305.5 L962.0,1308.8 L963.6,1312.1 L965.0,1315.4 L966.2,1318.8 L967.3,1322.1 L968.1,1325.4 L968.7,1328.7 L969.1,1331.8 L969.3,1334.9 L969.2,1337.8 L968.9,1340.5 L968.4,1343.1 L967.7,1345.5 L966.8,1347.7 L965.7,1349.6 L964.4,1351.3 L962.8,1352.7 L961.2,1353.9 L959.3,1354.7 L957.3,1355.3 L955.2,1355.6 L953.0,1355.6 L950.6,1355.4 L948.2,1354.8 L945.7,1353.9 L943.2,1352.8 L940.7,1351.4 L938.1,1349.7 L935.6,1347.8 L933.1,1345.6 L930.6,1343.3 L928.3,1340.7 L926.0,1338.0 L923.8,1335.1 L921.7,1332.0 L919.8,1328.9 L918.0,1325.6 L916.4,1322.3 L915.0,1319.0 L913.8,1315.6 L912.7,1312.3 L911.9,1309.0 L911.3,1305.7 L910.9,1302.6 L910.7,1299.5 L910.8,1296.6 L911.1,1293.9 L911.6,1291.3 L912.3,1288.9 L913.2,1286.7 L914.3,1284.8 L915.6,1283.1 L917.2,1281.7 L918.8,1280.5 L920.7,1279.7 L922.7,1279.1 L924.8,1278.8 L927.0,1278.8 L929.4,1279.0 L931.8,1279.6 L934.3,1280.5 L936.8,1281.6 L939.3,1283.0 L941.9,1284.7 L944.4,1286.6 L946.9,1288.8 L949.4,1291.1 L951.7,1293.7 L954.0,1296.4 L956.2,1299.3 L958.3,1302.4 L960.2,1305.5 Z"/>
<path class="ld" d="M980.0,1359.2 L1040.0,1405.0"/>
<path class="w" d="M905.2,1341.2 L907.3,1345.1 L909.1,1349.0 L910.6,1353.1 L911.9,1357.1 L912.9,1361.2 L913.5,1365.3 L913.9,1369.3 L914.0,1373.3 L913.8,1377.1 L913.3,1380.8 L912.4,1384.4 L911.3,1387.7 L909.9,1390.8 L908.3,1393.7 L906.3,1396.4 L904.2,1398.7 L901.8,1400.7 L899.2,1402.5 L896.4,1403.9 L893.4,1404.9 L890.3,1405.6 L887.0,1406.0 L883.7,1406.0 L880.3,1405.6 L876.8,1404.9 L873.4,1403.9 L869.9,1402.5 L866.5,1400.7 L863.1,1398.7 L859.8,1396.3 L856.6,1393.7 L853.6,1390.8 L850.7,1387.7 L847.9,1384.3 L845.4,1380.8 L843.1,1377.1 L841.1,1373.2 L839.3,1369.3 L837.7,1365.3 L836.5,1361.2 L835.5,1357.1 L834.8,1353.0 L834.4,1349.0 L834.3,1345.1 L834.5,1341.2 L835.1,1337.5 L835.9,1334.0 L837.0,1330.6 L838.4,1327.5 L840.1,1324.6 L842.0,1322.0 L844.2,1319.6 L846.6,1317.6 L849.2,1315.9 L852.0,1314.5 L854.9,1313.4 L858.1,1312.7 L861.3,1312.3 L864.6,1312.4 L868.0,1312.7 L871.5,1313.4 L875.0,1314.5 L878.4,1315.9 L881.9,1317.6 L885.2,1319.7 L888.5,1322.0 L891.7,1324.6 L894.8,1327.5 L897.7,1330.7 L900.4,1334.0 L902.9,1337.5 L905.2,1341.2 Z"/>
<path class="t" d="M876.4,1347.7 L897.5,1341.8 L900.8,1347.5 L877.6,1349.8 M878.7,1352.0 L902.3,1350.5 L904.7,1356.6 L879.6,1354.2 M880.3,1356.5 L905.6,1359.7 L906.9,1365.9 L880.8,1358.8 M881.2,1361.0 L907.3,1369.0 L907.6,1375.0 L881.3,1363.2 M881.3,1365.4 L907.4,1378.0 L906.6,1383.6 L881.0,1367.4 M880.6,1369.3 L905.9,1386.2 L904.0,1391.2 L880.0,1371.1 M879.1,1372.7 L902.8,1393.4 L899.9,1397.4 L878.2,1374.1 M877.0,1375.4 L898.2,1399.2 L894.4,1402.2 L875.7,1376.4 M874.3,1377.3 L892.4,1403.4 L887.9,1405.1 L872.7,1377.9 M871.1,1378.2 L885.6,1405.7 L880.6,1406.2 L869.3,1378.4 M867.5,1378.3 L878.0,1406.1 L872.8,1405.3 L865.6,1377.9 M863.8,1377.4 L870.2,1404.6 L864.9,1402.5 L861.9,1376.6 M860.0,1375.5 L862.3,1401.2 L857.2,1398.0 L858.2,1374.3 M856.4,1372.9 L854.7,1396.1 L850.0,1391.8 L854.7,1371.3 M853.1,1369.5 L847.8,1389.4 L843.7,1384.3 L851.6,1367.6 M850.3,1365.6 L841.8,1381.6 L838.5,1375.8 L849.0,1363.5 M848.0,1361.3 L837.1,1372.9 L834.7,1366.7 L847.1,1359.1 M846.4,1356.8 L833.7,1363.7 L832.4,1357.4 L845.8,1354.5 M845.5,1352.3 L832.0,1354.4 L831.7,1348.3 L845.3,1350.1 M845.4,1348.0 L831.9,1345.4 L832.7,1339.8 L845.6,1345.9 M846.1,1344.0 L833.4,1337.1 L835.3,1332.2 L846.7,1342.3 M847.5,1340.6 L836.6,1329.9 L839.5,1325.9 L848.5,1339.2 M849.7,1337.9 L841.1,1324.1 L844.9,1321.2 L851.0,1336.9 M852.4,1336.1 L847.0,1320.0 L851.4,1318.2 L854.0,1335.5 M855.6,1335.1 L853.8,1317.6 L858.7,1317.1 L857.4,1335.0 M859.2,1335.1 L861.3,1317.2 L866.5,1318.0 L861.0,1335.4 M862.9,1336.0 L869.2,1318.7 L874.5,1320.8 L864.8,1336.8 M866.6,1337.8 L877.1,1322.1 L882.2,1325.4 L868.5,1339.0 M870.3,1340.4 L884.6,1327.3 L889.3,1331.5 L872.0,1342.0 M873.6,1343.8 L891.6,1333.9 L895.7,1339.0 L875.1,1345.7"/>
<path class="t" d="M905.0,1388.8 L904.0,1391.2 L902.8,1393.4 L901.4,1395.5 L899.9,1397.4 L898.2,1399.2 L896.4,1400.8 L894.4,1402.2 L892.4,1403.4 L890.2,1404.4 L887.9,1405.1 L885.6,1405.7 L883.1,1406.1 L880.6,1406.2 L878.0,1406.1 L875.4,1405.8 L872.8,1405.3 L870.2,1404.6 L867.5,1403.7 L864.9,1402.5 L862.3,1401.2 L859.7,1399.7 L857.2,1398.0 L854.7,1396.1 L852.3,1394.0 L850.0,1391.8 L847.8,1389.4 L845.7,1386.9 L843.7,1384.3 L841.8,1381.6 L840.1,1378.8 L838.5,1375.8 L837.1,1372.9 L835.8,1369.8 L834.7,1366.7 L833.7,1363.7 L833.0,1360.5 L832.4,1357.4 L832.0,1354.4 L831.8,1351.3 L831.7,1348.3 L831.9,1345.4 L832.2,1342.5 L832.7,1339.8 L833.4,1337.1 L834.3,1334.6 L835.3,1332.2 L836.6,1329.9 L837.9,1327.8 L839.5,1325.9 L841.1,1324.1 L843.0,1322.5 L844.9,1321.2 L847.0,1320.0 L849.1,1319.0 L851.4,1318.2 L853.8,1317.6 L856.2,1317.3 L858.7,1317.1 L861.3,1317.2 L863.9,1317.5"/>
<path class="w" d="M877.0,1348.8 L878.0,1350.5 L878.9,1352.4 L879.6,1354.2 L880.2,1356.1 L880.7,1358.0 L881.0,1359.9 L881.3,1361.8 L881.3,1363.6 L881.3,1365.4 L881.1,1367.1 L880.8,1368.7 L880.3,1370.2 L879.7,1371.6 L879.0,1372.9 L878.2,1374.1 L877.2,1375.2 L876.2,1376.1 L875.0,1376.9 L873.8,1377.5 L872.4,1377.9 L871.1,1378.2 L869.6,1378.4 L868.1,1378.3 L866.6,1378.1 L865.0,1377.8 L863.5,1377.2 L861.9,1376.6 L860.3,1375.7 L858.8,1374.7 L857.3,1373.6 L855.8,1372.4 L854.4,1371.0 L853.1,1369.5 L851.9,1368.0 L850.7,1366.3 L849.6,1364.6 L848.7,1362.8 L847.8,1361.0 L847.1,1359.1 L846.5,1357.2 L846.0,1355.3 L845.6,1353.4 L845.4,1351.6 L845.3,1349.7 L845.4,1348.0 L845.6,1346.3 L845.9,1344.7 L846.4,1343.1 L847.0,1341.7 L847.7,1340.4 L848.5,1339.2 L849.5,1338.1 L850.5,1337.2 L851.7,1336.5 L852.9,1335.8 L854.2,1335.4 L855.6,1335.1 L857.1,1335.0 L858.6,1335.0 L860.1,1335.2 L861.6,1335.6 L863.2,1336.1 L864.8,1336.8 L866.3,1337.6 L867.9,1338.6 L869.4,1339.7 L870.8,1341.0 L872.2,1342.3 L873.6,1343.8 L874.8,1345.4 L876.0,1347.0 L877.0,1348.8 Z"/>
<path class="p" d="M871.8,1351.5 L872.4,1352.7 L873.0,1354.0 L873.5,1355.2 L874.0,1356.5 L874.3,1357.8 L874.5,1359.0 L874.7,1360.3 L874.8,1361.5 L874.8,1362.7 L874.7,1363.8 L874.5,1364.9 L874.2,1366.0 L873.8,1366.9 L873.3,1367.8 L872.8,1368.6 L872.2,1369.3 L871.5,1369.9 L870.8,1370.4 L869.9,1370.8 L869.1,1371.1 L868.2,1371.2 L867.2,1371.3 L866.2,1371.3 L865.2,1371.1 L864.2,1370.9 L863.1,1370.5 L862.1,1370.0 L861.1,1369.4 L860.0,1368.8 L859.0,1368.0 L858.1,1367.1 L857.1,1366.2 L856.2,1365.2 L855.4,1364.1 L854.6,1363.0 L853.9,1361.8 L853.2,1360.6 L852.6,1359.4 L852.1,1358.1 L851.7,1356.8 L851.4,1355.6 L851.1,1354.3 L851.0,1353.0 L850.9,1351.8 L850.9,1350.6 L851.0,1349.5 L851.2,1348.4 L851.5,1347.4 L851.9,1346.4 L852.3,1345.5 L852.9,1344.8 L853.5,1344.1 L854.2,1343.5 L854.9,1343.0 L855.7,1342.6 L856.6,1342.3 L857.5,1342.1 L858.5,1342.0 L859.4,1342.1 L860.5,1342.2 L861.5,1342.5 L862.5,1342.8 L863.6,1343.3 L864.6,1343.9 L865.6,1344.6 L866.6,1345.3 L867.6,1346.2 L868.5,1347.1 L869.4,1348.1 L870.3,1349.2 L871.1,1350.3 L871.8,1351.5 Z"/>
<path class="p" d="M877.7,1351.9 L874.4,1353.6 L876.0,1359.0 L880.2,1360.4 M876.4,1374.1 L873.0,1370.2 L869.4,1372.0 L870.9,1377.0 M857.0,1372.2 L858.2,1368.1 L854.4,1363.8 L851.1,1365.5 M846.3,1348.8 L850.5,1350.2 L851.7,1345.8 L848.3,1341.8 M859.1,1336.3 L860.6,1341.3 L865.1,1342.8 L866.2,1338.7" style="stroke-width:2.4"/>
<path class="ld" d="M912.5,1384.2 L995.8,1430.8"/>
<path class="p" d="M823.4,1365.7 L824.8,1366.1 L826.2,1366.6 L827.6,1367.3 L829.0,1368.1 L830.4,1369.1 L831.8,1370.1 L833.1,1371.3 L834.3,1372.6 L835.5,1374.1 L836.7,1375.6 L837.7,1377.1 L838.6,1378.8 L839.5,1380.4 L840.2,1382.2 L840.9,1383.9 L841.4,1385.6 L841.8,1387.4 L842.0,1389.1 L842.2,1390.8 L842.2,1392.4 L842.1,1394.0 L841.9,1395.5 L841.5,1396.9 L841.0,1398.2 L840.4,1399.3 L839.7,1400.4 L838.9,1401.3 L837.9,1402.1 L836.9,1402.8 L835.8,1403.3 L834.6,1403.7 L833.4,1403.9 L832.1,1403.9 L830.8,1403.8 L829.4,1403.5 L828.0,1403.1 L826.6,1402.5 L825.2,1401.8 L823.8,1400.9 L822.4,1399.9 L821.1,1398.8 L819.8,1397.5 L818.5,1396.2 L817.4,1394.7 L816.3,1393.2 L815.3,1391.6 L814.4,1389.9 L813.5,1388.2 L812.8,1386.5 L812.3,1384.8"/>
<path class="p" d="M822.0,1370.1 L823.0,1370.1 L824.0,1370.4 L825.1,1370.7 L826.1,1371.2 L827.2,1371.8 L828.3,1372.5 L829.3,1373.3 L830.4,1374.1 L831.4,1375.1 L832.4,1376.2 L833.3,1377.4 L834.2,1378.6 L835.0,1379.8 L835.7,1381.1 L836.4,1382.5 L837.0,1383.9 L837.5,1385.2 L838.0,1386.6 L838.3,1388.0 L838.6,1389.3 L838.7,1390.6 L838.8,1391.9 L838.7,1393.1 L838.6,1394.3 L838.4,1395.3 L838.0,1396.3 L837.6,1397.2 L837.1,1398.0 L836.5,1398.7 L835.9,1399.3 L835.1,1399.8 L834.3,1400.1 L833.4,1400.4 L832.5,1400.5 L831.6,1400.5 L830.6,1400.3 L829.5,1400.0 L828.5,1399.7 L827.4,1399.1 L826.3,1398.5 L825.3,1397.8 L824.2,1396.9 L823.2,1396.0 L822.2,1395.0 L821.2,1393.9 L820.3,1392.7 L819.4,1391.5 L818.7,1390.2 L817.9,1388.9 L817.3,1387.5"/>
<path class="ld" d="M840.0,1398.3 L954.2,1452.5"/>
<path class="ld" d="M825.0,1383.3 L792.5,1402.5 L975.8,1507.5 L1053.0,1463.3"/>
</g>
<!-- 32_gg.svg -->
<g transform="translate(1215,890) scale(0.08872)">
<circle class="w" cx="815" cy="945" r="665" style="stroke-width:1.7"/>
<path class="p" d="M350,1165 L1230,670 Q1290,660 1320,760 M500,1470 L1400,960 M470,1290 L790,1110 M850,1080 L905,1050 M955,1025 L1290,835 M375,1355 L430,1320 M1330,800 L1385,770"/>
<ellipse class="p" cx="412" cy="1245" rx="58" ry="92" transform="rotate(-30 412 1245)"/>
<ellipse class="p" cx="1350" cy="900" rx="58" ry="92" transform="rotate(-30 1350 900)"/>
<path class="p" d="M440,1330 Q440,1440 500,1470"/>
<path class="k" d="M450,720 L590,615 L670,615 L700,660 L560,740 L600,830 L680,790 L740,790 L770,830 L720,950 L540,920 L450,790 Z"/>
<path class="k" d="M690,600 L760,520 L850,480 L920,480 L930,520 L820,580 L860,680 L950,650 L1020,620 L1020,680 L970,800 L940,830 L800,790 L700,660 Z"/>
<circle cx="660" cy="852" r="34" fill="#fff"/><circle cx="900" cy="712" r="36" fill="#fff"/>
</g>
<!-- 33_shaft52.svg -->
<g transform="translate(1202.2,1430.7) rotate(-29.4)">
<path class="w" d="M305.0,-8.0 L341.0,-8.0 A4.5,8.0 0 0 1 341.0,8.0 L305.0,8.0 A4.5,8.0 0 0 1 305.0,-8.0 Z"/>
<path class="t" d="M311.0,-8.0 A4.5,8.0 0 0 1 311.0,8.0"/>
<path class="t" d="M317.0,-8.0 A4.5,8.0 0 0 1 317.0,8.0"/>
<path class="t" d="M323.0,-8.0 A4.5,8.0 0 0 1 323.0,8.0"/>
<path class="t" d="M329.0,-8.0 A4.5,8.0 0 0 1 329.0,8.0"/>
<path class="t" d="M335.0,-8.0 A4.5,8.0 0 0 1 335.0,8.0"/>
<path class="w" d="M257.0,-12.8 L307.0,-12.8 A7.2,12.8 0 0 1 307.0,12.8 L257.0,12.8 A7.2,12.8 0 0 1 257.0,-12.8 Z"/>
<path class="t" d="M263.0,-10.0 L307.5,-10.0 M262.1,-7.0 L306.8,-7.0 M261.2,-4.0 L306.0,-4.0 M260.3,-1.0 L305.2,-1.0 M260.6,2.0 L305.5,2.0 M261.5,5.0 L306.2,5.0 M262.4,8.0 L307.0,8.0 M263.3,11.0 L307.8,11.0"/>
<path class="p" d="M257.0,-12.8 A7.2,12.8 0 0 1 257.0,12.8"/>
<path class="w" d="M212.0,-12.0 L258.0,-12.0 A6.7,12.0 0 0 1 258.0,12.0 L212.0,12.0 A6.7,12.0 0 0 1 212.0,-12.0 Z"/>
<path class="w" d="M70.0,-13.7 L213.0,-13.7 A7.7,13.7 0 0 1 213.0,13.7 L70.0,13.7 A7.7,13.7 0 0 1 70.0,-13.7 Z"/>
<path class="p" d="M207.0,-13.7 A7.7,13.7 0 0 1 207.0,13.7"/>
<path class="w" d="M24.0,-17.5 L72.0,-17.5 A9.8,17.5 0 0 1 72.0,17.5 L24.0,17.5 A9.8,17.5 0 0 1 24.0,-17.5 Z"/>
<path class="p" d="M67.0,-17.5 A9.8,17.5 0 0 1 67.0,17.5"/>
<path class="p" d="M30.0,-17.5 A9.8,17.5 0 0 1 30.0,17.5"/>
<path class="t" d="M36.0,-15.0 L73.8,-15.0 M35.2,-11.0 L72.8,-11.0 M34.4,-7.0 L71.8,-7.0 M33.6,-3.0 L70.8,-3.0 M33.2,1.0 L70.2,1.0 M34.0,5.0 L71.2,5.0 M34.8,9.0 L72.2,9.0 M35.6,13.0 L73.2,13.0 M36.2,16.0 L74.0,16.0"/>
<ellipse cx="60" cy="8" rx="6" ry="3.5" class="w" transform="rotate(0)"/>
<ellipse class="p" cx="24.0" cy="0" rx="9.8" ry="17.5"/>
<path class="t" d="M24,-14 L30,-15 M24,-7 L31,-7.5 M24,0 L32,0 M24,7 L31,7.5 M24,14 L30,15"/>
<path class="w" d="M0.0,-12.0 L26.0,-12.0 A6.7,12.0 0 0 1 26.0,12.0 L0.0,12.0 A6.7,12.0 0 0 1 0.0,-12.0 Z"/>
<ellipse class="w" cx="0.0" cy="0" rx="6.7" ry="12.0"/>
<ellipse class="p" cx="-0.5" cy="0" rx="4.5" ry="8.0"/>
</g>
<path class="ld" d="M1354.1,1359.8 L1437.3,1424.1"/>
<path class="ld" d="M1137.9,1415.2 L1180.0,1390.8 L1405.1,1262.2"/>
<path class="ld" d="M1411.8,1258.4 L1418.4,1254.6"/>
<path class="ld" d="M1425.1,1251.1 L1474.5,1221.1 L1520.2,1244.9 L1511.6,1252.6"/>
<path class="ld" d="M1193.3,1458.5 L1288.7,1499.9 L1299.8,1505.0"/>
<path class="ld" d="M1053,1463.3 L1075,1450.7 M1080,1447.8 L1084,1445.5 M1090,1442 L1138,1415.2"/>
<!-- 34_clutch.svg -->
<g transform="translate(1040,1420) scale(0.16667)">
<!-- spring 61 -->
<g transform="translate(-25,12)"><ellipse class="w" cx="820" cy="135" rx="100" ry="170" transform="rotate(-30 820 135)"/>
<ellipse class="w" cx="800" cy="147" rx="100" ry="170" transform="rotate(-30 800 147)"/>
<ellipse class="w" cx="780" cy="158" rx="100" ry="170" transform="rotate(-30 780 158)"/>
<ellipse class="w" cx="760" cy="170" rx="100" ry="170" transform="rotate(-30 760 170)"/>
<ellipse class="p" cx="752" cy="175" rx="78" ry="145" transform="rotate(-30 752 175)"/>
<ellipse class="p" cx="746" cy="178" rx="58" ry="120" transform="rotate(-30 746 178)"/>
<path class="t" d="M690,100 L760,240 M705,85 L790,255 M725,75 L805,240 M745,70 L815,215 M765,75 L820,190"/>
<path class="p" d="M640,255 L660,275 L690,262"/></g>
<path class="ld" d="M925,235 L1550,510"/>
<!-- pin 59 -->
<path class="w" d="M905,505 L1075,497 Q1105,510 1100,540 Q1095,560 1075,565 L905,578 Q870,575 868,545 Q870,510 905,505 Z"/>
<ellipse class="p" cx="1075" cy="531" rx="22" ry="34" transform="rotate(-8 1075 531)"/>
<path class="ld" d="M1030,570 L1150,740"/>
<!-- clutch 60 -->
<path class="w" d="M430,170 Q520,150 600,260 Q660,380 620,450 Q590,500 520,510 L440,560 Q380,610 320,600 L310,575 Q230,540 195,420 Q165,330 195,290 L340,200 Z"/>
<path class="p" d="M340,200 Q420,210 480,320 Q520,420 490,500 Q470,540 440,560 M380,180 Q470,200 530,310 Q570,410 545,480 M430,170 Q400,170 380,180 M560,215 L540,200 L520,215 M195,290 Q230,270 280,300 M210,300 L240,345 L225,400 M230,440 Q260,530 330,570 M310,575 L310,600 L345,600 L345,570 M320,600 L440,560"/>
<path class="p" style="stroke-width:2.4" d="M240,345 Q250,310 290,295 L330,280 L345,300 L360,290 Q420,340 440,420 L420,440 L445,470 Q450,510 430,540 L400,525 L385,545 Q300,520 260,440 Z"/>
<path class="t" d="M262,365 L345,320 M268,395 L370,340 M275,425 L395,360 M285,455 L410,388 M300,485 L420,420 M320,510 L420,458 M345,530 L405,500"/>
<path class="p" d="M440,420 L470,415 L470,520 L440,530"/>
<!-- clip -->
<path class="p" d="M520,360 L660,345 L740,550 L835,550 M520,360 L525,385 L640,372 M545,385 Q580,440 560,500 M585,380 Q610,440 585,490 M620,375 L625,440"/>
<path class="ld" d="M570,510 L885,890"/>
</g>
<!-- 35_lower.svg -->
<g>
<path class="w" d="M893.9,1612.5 L896.8,1618.1 L899.1,1623.9 L900.9,1629.8 L902.1,1635.7 L902.6,1641.4 L902.5,1647.0 L901.7,1652.2 L900.4,1657.1 L898.4,1661.5 L895.8,1665.3 L892.7,1668.5 L889.2,1671.0 L885.2,1672.8 L880.9,1673.9 L876.3,1674.2 L871.5,1673.8 L866.6,1672.5 L861.7,1670.5 L856.8,1667.9 L852.1,1664.5 L847.6,1660.6 L843.4,1656.1 L839.5,1651.2 L836.1,1645.8 L833.2,1640.2 L830.9,1634.4 L829.1,1628.5 L827.9,1622.7 L827.4,1616.9 L827.5,1611.4 L828.3,1606.1 L829.6,1601.2 L831.6,1596.9 L834.2,1593.0 L837.3,1589.8 L840.8,1587.3 L844.8,1585.5 L849.1,1584.4 L853.7,1584.1 L858.5,1584.6 L863.4,1585.8 L868.3,1587.8 L873.2,1590.5 L877.9,1593.8 L882.4,1597.8 L886.6,1602.2 L890.5,1607.2 Z"/>
<path class="p" d="M852.2,1584.1 L853.5,1587.0 L855.2,1587.0 L855.0,1584.2 M856.6,1584.3 L857.6,1587.2 L859.4,1587.5 L859.5,1584.8 M861.1,1585.1 L861.8,1588.1 L863.7,1588.7 L864.1,1586.0 M865.7,1586.6 L866.1,1589.6 L868.0,1590.4 L868.7,1587.9 M870.3,1588.8 L870.4,1591.7 L872.2,1592.8 L873.2,1590.5 M874.8,1591.5 L874.6,1594.4 L876.3,1595.7 L877.6,1593.6 M879.1,1594.8 L878.6,1597.5 L880.3,1599.0 L881.8,1597.2 M883.3,1598.6 L882.5,1601.2 L884.0,1602.9 L885.8,1601.3 M887.2,1602.9 L886.1,1605.2 L887.5,1607.1 L889.5,1605.8 M890.7,1607.5 L889.3,1609.6 L890.6,1611.6 L892.8,1610.7 M893.9,1612.5 L892.2,1614.4 L893.4,1616.4 L895.7,1615.8 M896.6,1617.7 L894.7,1619.3 L895.7,1621.4 L898.1,1621.2 M898.9,1623.1 L896.8,1624.4 L897.5,1626.6 L900.0,1626.6 M900.6,1628.6 L898.4,1629.5 L898.9,1631.7 L901.5,1632.1 M901.8,1634.1 L899.5,1634.6 L899.8,1636.8 L902.3,1637.6 M902.5,1639.5 L900.0,1639.7 L900.1,1641.8 L902.6,1642.9 M902.6,1644.8 L900.1,1644.6 L900.0,1646.6 L902.4,1648.1 M902.2,1649.8 L899.6,1649.3 L899.3,1651.2 L901.6,1652.9 M901.2,1654.5 L898.6,1653.7 L898.1,1655.4 L900.2,1657.4 M899.6,1658.9 L897.1,1657.7 L896.4,1659.2 L898.4,1661.5 M897.6,1662.8 L895.2,1661.2 L894.2,1662.6 L896.0,1665.0" style="stroke-width:1.6"/>
<path class="p" d="M838.8,1591.1 L841.2,1589.9 L843.8,1589.0 L846.6,1588.4 L849.4,1588.2 L852.4,1588.2 L855.4,1588.6 L858.5,1589.3 L861.6,1590.4 L864.6,1591.7 L867.7,1593.3 L870.8,1595.2 L873.7,1597.4 L876.6,1599.9 L879.3,1602.5 L881.9,1605.4 L884.4,1608.5 L886.7,1611.8 L888.8,1615.2 L890.7,1618.7 L892.4,1622.3 L893.8,1626.0 L895.0,1629.7 L895.9,1633.4 L896.6,1637.1 L897.0,1640.8 L897.2,1644.3 L897.1,1647.8 L896.7,1651.2 L896.0,1654.4 L895.1,1657.4 L893.9,1660.2 L892.5,1662.8 L890.8,1665.1 L888.9,1667.2 L886.9,1669.0 L884.6,1670.5 L882.1,1671.7 L879.5,1672.6 L876.8,1673.2 L873.9,1673.5"/>
<path class="w" d="M883.6,1617.9 L886.2,1622.9 L888.3,1628.1 L890.0,1633.4 L891.0,1638.6 L891.6,1643.8 L891.5,1648.7 L890.9,1653.4 L889.7,1657.7 L888.0,1661.6 L885.8,1665.0 L883.1,1667.8 L880.0,1670.0 L876.5,1671.6 L872.7,1672.5 L868.7,1672.8 L864.5,1672.3 L860.1,1671.2 L855.8,1669.3 L851.5,1666.9 L847.3,1663.9 L843.3,1660.3 L839.5,1656.3 L836.1,1651.9 L833.1,1647.1 L830.5,1642.1 L828.3,1636.9 L826.7,1631.6 L825.6,1626.4 L825.1,1621.2 L825.2,1616.3 L825.8,1611.6 L826.9,1607.3 L828.6,1603.4 L830.9,1600.0 L833.6,1597.2 L836.7,1595.0 L840.1,1593.4 L843.9,1592.5 L848.0,1592.2 L852.2,1592.7 L856.5,1593.8 L860.9,1595.7 L865.2,1598.1 L869.4,1601.1 L873.4,1604.7 L877.1,1608.7 L880.5,1613.1 Z"/>
<path class="p" d="M827.9,1611.8 L829.0,1609.3 L830.2,1607.0 L831.7,1605.0 L833.4,1603.2 L835.3,1601.8 L837.4,1600.6 L839.7,1599.7 L842.0,1599.1 L844.6,1598.9 L847.2,1599.0 L849.8,1599.3 L852.6,1600.0 L855.3,1601.1 L858.0,1602.4 L860.8,1604.0 L863.4,1605.9 L866.0,1608.0 L868.5,1610.4 L870.9,1612.9 L873.1,1615.7 L875.1,1618.7 L877.0,1621.7 L878.6,1624.9 L880.1,1628.2 L881.3,1631.5 L882.3,1634.8 L883.0,1638.2 L883.4,1641.5 L883.6,1644.7 L883.6,1647.8 L883.2,1650.8 L882.7,1653.6 L881.8,1656.2 L880.7,1658.7 L879.4,1660.9 L877.8,1662.8 L876.1,1664.5 L874.1,1665.9 L872.0,1667.0 L869.7,1667.8"/>
<path class="t" d="M831.8,1606.8 L833.2,1605.6 L834.8,1604.5 L836.5,1603.6 L838.4,1602.9 L840.3,1602.5 L842.3,1602.2 L844.4,1602.2 L846.5,1602.4 L848.7,1602.9 L850.9,1603.5 L853.1,1604.4 L855.3,1605.5 L857.5,1606.7 L859.7,1608.2 L861.8,1609.9 L863.8,1611.7 L865.8,1613.7 L867.7,1615.8 L869.5,1618.0 L871.1,1620.4 L872.6,1622.9 L874.0,1625.4 L875.3,1628.0 L876.3,1630.7 L877.3,1633.4 L878.0,1636.1 L878.6,1638.7 L879.0,1641.4 L879.2,1644.0 L879.2,1646.5 L879.1,1649.0 L878.7,1651.4 L878.2,1653.6 L877.5,1655.7 L876.7,1657.7 L875.6,1659.5 L874.4,1661.2 L873.1,1662.6 L871.6,1663.9 L870.0,1665.0"/>
<path class="w" d="M818.7,1632.1 L819.1,1629.6 L819.7,1627.3 L820.6,1625.2 L821.8,1623.4 L823.3,1621.8 L825.0,1620.6 L846.7,1608.1 L848.6,1607.3 L850.6,1606.8 L852.8,1606.6 L855.1,1606.9 L857.4,1607.5 L859.8,1608.4 L862.1,1609.8 L864.4,1611.4 L866.5,1613.3 L868.6,1615.5 L870.4,1617.8 L872.0,1620.4 L873.5,1623.1 L874.6,1625.9 L875.5,1628.8 L876.0,1631.6 L876.3,1634.4 L876.3,1637.0 L875.9,1639.5 L875.3,1641.9 L874.4,1644.0 L873.2,1645.8 L871.7,1647.3 L870.0,1648.5 L848.3,1661.0 L846.4,1661.9 L844.4,1662.4 L842.2,1662.5 L839.9,1662.3 L837.6,1661.7 L835.2,1660.7 L832.9,1659.4 L830.6,1657.8 L828.5,1655.9 L826.4,1653.7 L824.6,1651.3 L823.0,1648.8 L821.5,1646.0 L820.4,1643.3 L819.5,1640.4 L819.0,1637.6 L818.7,1634.8 Z"/>
<path class="w" d="M850.4,1632.9 L851.8,1635.6 L852.9,1638.4 L853.8,1641.3 L854.4,1644.1 L854.6,1646.9 L854.6,1649.5 L854.3,1652.0 L853.6,1654.4 L852.7,1656.5 L851.5,1658.3 L850.0,1659.8 L848.3,1661.0 L846.4,1661.9 L844.4,1662.4 L842.2,1662.5 L839.9,1662.3 L837.6,1661.7 L835.2,1660.7 L832.9,1659.4 L830.6,1657.8 L828.5,1655.9 L826.4,1653.7 L824.6,1651.3 L823.0,1648.8 L821.5,1646.0 L820.4,1643.3 L819.5,1640.4 L819.0,1637.6 L818.7,1634.8 L818.7,1632.1 L819.1,1629.6 L819.7,1627.3 L820.6,1625.2 L821.8,1623.4 L823.3,1621.8 L825.0,1620.6 L826.9,1619.8 L828.9,1619.3 L831.1,1619.1 L833.4,1619.4 L835.8,1620.0 L838.1,1620.9 L840.4,1622.3 L842.7,1623.9 L844.9,1625.8 L846.9,1628.0 L848.7,1630.3 Z"/>
<path class="p" d="M844.9,1636.2 L846.0,1638.2 L846.9,1640.3 L847.6,1642.4 L848.1,1644.4 L848.4,1646.5 L848.5,1648.4 L848.4,1650.2 L848.1,1651.9 L847.5,1653.4 L846.8,1654.6 L845.8,1655.7 L844.8,1656.5 L843.5,1657.0 L842.1,1657.3 L840.7,1657.3 L839.1,1657.0 L837.5,1656.5 L835.9,1655.7 L834.2,1654.7 L832.6,1653.4 L831.1,1651.9 L829.6,1650.2 L828.3,1648.4 L827.1,1646.5 L826.0,1644.5 L825.1,1642.4 L824.4,1640.3 L823.9,1638.2 L823.6,1636.2 L823.5,1634.3 L823.6,1632.5 L823.9,1630.8 L824.5,1629.3 L825.2,1628.0 L826.2,1627.0 L827.2,1626.2 L828.5,1625.6 L829.9,1625.4 L831.3,1625.4 L832.9,1625.6 L834.5,1626.2 L836.1,1627.0 L837.8,1628.0 L839.4,1629.3 L840.9,1630.8 L842.4,1632.4 L843.7,1634.2 Z"/>
<path class="ld" d="M820.0,1671.7 L834.2,1685.8"/>
<path class="w" d="M784.2,1652.5 L784.4,1650.5 L784.8,1648.6 L785.5,1647.0 L786.4,1645.5 L787.5,1644.3 L788.8,1643.4 L801.2,1635.9 L802.7,1635.3 L804.3,1634.9 L806.0,1634.9 L807.7,1635.1 L809.6,1635.7 L811.4,1636.5 L813.2,1637.6 L815.0,1639.0 L816.8,1640.6 L818.4,1642.4 L819.9,1644.4 L821.2,1646.5 L822.4,1648.7 L823.4,1651.0 L824.1,1653.3 L824.6,1655.6 L824.9,1657.8 L825.0,1660.0 L824.8,1662.0 L824.3,1663.9 L823.7,1665.5 L822.8,1667.0 L821.7,1668.2 L820.4,1669.1 L807.9,1676.6 L806.5,1677.2 L804.9,1677.6 L803.2,1677.6 L801.4,1677.4 L799.6,1676.8 L797.8,1676.0 L795.9,1674.9 L794.1,1673.5 L792.4,1671.9 L790.8,1670.1 L789.3,1668.1 L787.9,1666.0 L786.8,1663.8 L785.8,1661.5 L785.1,1659.2 L784.5,1656.9 L784.3,1654.7 Z"/>
<path class="w" d="M808.7,1654.0 L809.9,1656.2 L810.9,1658.5 L811.6,1660.8 L812.1,1663.1 L812.4,1665.3 L812.5,1667.5 L812.3,1669.5 L811.8,1671.4 L811.2,1673.0 L810.3,1674.5 L809.2,1675.7 L807.9,1676.6 L806.5,1677.2 L804.9,1677.6 L803.2,1677.6 L801.4,1677.4 L799.6,1676.8 L797.8,1676.0 L795.9,1674.9 L794.1,1673.5 L792.4,1671.9 L790.8,1670.1 L789.3,1668.1 L787.9,1666.0 L786.8,1663.8 L785.8,1661.5 L785.1,1659.2 L784.5,1656.9 L784.3,1654.7 L784.2,1652.5 L784.4,1650.5 L784.8,1648.6 L785.5,1647.0 L786.4,1645.5 L787.5,1644.3 L788.8,1643.4 L790.2,1642.8 L791.8,1642.4 L793.5,1642.4 L795.2,1642.6 L797.1,1643.2 L798.9,1644.0 L800.7,1645.1 L802.5,1646.5 L804.3,1648.1 L805.9,1649.9 L807.4,1651.9 Z"/>
<path class="p" d="M804.9,1656.3 L806.1,1658.5 L807.0,1660.8 L807.6,1663.1 L807.9,1665.2 L807.9,1667.3 L807.7,1669.1 L807.1,1670.6 L806.3,1671.9 L805.2,1672.7 L803.9,1673.3 L802.4,1673.4 L800.7,1673.1 L799.0,1672.4 L797.3,1671.4 L795.6,1670.0 L793.9,1668.3 L792.4,1666.4 L791.1,1664.3 L789.9,1662.1 L789.0,1659.8 L788.4,1657.6 L788.1,1655.4 L788.1,1653.4 L788.3,1651.6 L788.9,1650.0 L789.7,1648.8 L790.8,1647.9 L792.1,1647.4 L793.6,1647.3 L795.3,1647.6 L797.0,1648.3 L798.7,1649.3 L800.4,1650.7 L802.1,1652.3 L803.6,1654.2 Z" style="stroke-width:2.4"/>
<path class="p" d="M792.1,1664.8 L804.8,1657.5 M789.9,1660.3 L802.0,1653.3 M788.8,1655.7 L798.6,1650.1 M789.1,1651.9 L795.1,1648.4 M790.7,1649.2 L792.0,1648.5" style="stroke-width:1.6"/>
<path class="ld" d="M784.2,1691.7 L798.3,1706.7"/>
<path class="w" d="M754.2,1670.8 L754.4,1668.8 L754.8,1667.0 L755.5,1665.3 L756.4,1663.9 L757.5,1662.7 L758.8,1661.7 L771.2,1654.2 L772.7,1653.6 L774.3,1653.2 L776.0,1653.2 L777.7,1653.5 L779.6,1654.0 L781.4,1654.9 L783.2,1656.0 L785.0,1657.3 L786.8,1658.9 L788.4,1660.7 L789.9,1662.7 L791.2,1664.8 L792.4,1667.1 L793.4,1669.3 L794.1,1671.6 L794.6,1673.9 L794.9,1676.2 L795.0,1678.3 L794.8,1680.3 L794.3,1682.2 L793.7,1683.9 L792.8,1685.3 L791.7,1686.5 L790.4,1687.4 L777.9,1694.9 L776.5,1695.6 L774.9,1695.9 L773.2,1696.0 L771.4,1695.7 L769.6,1695.2 L767.8,1694.3 L765.9,1693.2 L764.1,1691.8 L762.4,1690.2 L760.8,1688.4 L759.3,1686.4 L757.9,1684.3 L756.8,1682.1 L755.8,1679.8 L755.1,1677.5 L754.5,1675.2 L754.3,1673.0 Z"/>
<path class="w" d="M778.7,1672.3 L779.9,1674.6 L780.9,1676.8 L781.6,1679.1 L782.1,1681.4 L782.4,1683.7 L782.5,1685.8 L782.3,1687.8 L781.8,1689.7 L781.2,1691.4 L780.3,1692.8 L779.2,1694.0 L777.9,1694.9 L776.5,1695.6 L774.9,1695.9 L773.2,1696.0 L771.4,1695.7 L769.6,1695.2 L767.8,1694.3 L765.9,1693.2 L764.1,1691.8 L762.4,1690.2 L760.8,1688.4 L759.3,1686.4 L757.9,1684.3 L756.8,1682.1 L755.8,1679.8 L755.1,1677.5 L754.5,1675.2 L754.3,1673.0 L754.2,1670.8 L754.4,1668.8 L754.8,1667.0 L755.5,1665.3 L756.4,1663.9 L757.5,1662.7 L758.8,1661.7 L760.2,1661.1 L761.8,1660.7 L763.5,1660.7 L765.2,1661.0 L767.1,1661.5 L768.9,1662.4 L770.7,1663.5 L772.5,1664.8 L774.3,1666.4 L775.9,1668.2 L777.4,1670.2 Z"/>
<path class="p" d="M774.9,1674.7 L776.1,1676.9 L777.0,1679.2 L777.6,1681.4 L777.9,1683.6 L777.9,1685.6 L777.7,1687.4 L777.1,1689.0 L776.3,1690.2 L775.2,1691.1 L773.9,1691.6 L772.4,1691.7 L770.7,1691.4 L769.0,1690.7 L767.3,1689.7 L765.6,1688.3 L763.9,1686.7 L762.4,1684.8 L761.1,1682.7 L759.9,1680.5 L759.0,1678.2 L758.4,1675.9 L758.1,1673.8 L758.1,1671.7 L758.3,1669.9 L758.9,1668.4 L759.7,1667.1 L760.8,1666.3 L762.1,1665.7 L763.6,1665.6 L765.3,1665.9 L767.0,1666.6 L768.7,1667.6 L770.4,1669.0 L772.1,1670.7 L773.6,1672.6 Z" style="stroke-width:2.4"/>
<path class="p" d="M762.1,1683.1 L774.8,1675.8 M759.9,1678.6 L772.0,1671.6 M758.8,1674.1 L768.6,1668.4 M759.1,1670.2 L765.1,1666.7 M760.7,1667.6 L762.0,1666.8" style="stroke-width:1.6"/>
<path class="w" d="M685.0,1687.6 L685.4,1682.8 L686.5,1678.4 L688.1,1674.4 L690.2,1671.0 L692.8,1668.2 L695.9,1666.0 L712.5,1656.7 L715.9,1655.1 L719.7,1654.3 L723.7,1654.2 L727.9,1654.8 L732.3,1656.1 L736.6,1658.0 L741.0,1660.7 L745.3,1663.9 L749.4,1667.6 L753.2,1671.9 L756.7,1676.6 L759.9,1681.6 L762.6,1686.8 L764.9,1692.2 L766.7,1697.6 L767.9,1703.1 L768.6,1708.4 L768.6,1713.5 L768.2,1718.2 L767.1,1722.6 L765.5,1726.6 L763.4,1730.0 L760.8,1732.8 L757.7,1735.0 L741.1,1744.4 L737.7,1745.9 L733.9,1746.7 L729.9,1746.9 L725.7,1746.3 L721.3,1745.0 L717.0,1743.0 L712.6,1740.4 L708.3,1737.2 L704.2,1733.4 L700.4,1729.1 L696.9,1724.5 L693.7,1719.5 L691.0,1714.2 L688.7,1708.9 L686.9,1703.4 L685.7,1698.0 L685.1,1692.7 Z"/>
<path class="w" d="M743.3,1690.9 L746.0,1696.1 L748.3,1701.5 L750.0,1707.0 L751.3,1712.4 L751.9,1717.7 L752.0,1722.8 L751.5,1727.6 L750.5,1732.0 L748.9,1735.9 L746.7,1739.3 L744.1,1742.2 L741.1,1744.4 L737.7,1745.9 L733.9,1746.7 L729.9,1746.9 L725.7,1746.3 L721.3,1745.0 L717.0,1743.0 L712.6,1740.4 L708.3,1737.2 L704.2,1733.4 L700.4,1729.1 L696.9,1724.5 L693.7,1719.5 L691.0,1714.2 L688.7,1708.9 L686.9,1703.4 L685.7,1698.0 L685.1,1692.7 L685.0,1687.6 L685.4,1682.8 L686.5,1678.4 L688.1,1674.4 L690.2,1671.0 L692.8,1668.2 L695.9,1666.0 L699.3,1664.5 L703.0,1663.6 L707.1,1663.5 L711.3,1664.1 L715.6,1665.4 L720.0,1667.3 L724.4,1670.0 L728.6,1673.2 L732.7,1677.0 L736.6,1681.2 L740.1,1685.9 Z"/>
<path class="p" d="M739.1,1693.5 L741.6,1698.2 L743.7,1703.0 L745.3,1707.9 L746.4,1712.8 L747.1,1717.5 L747.2,1722.0 L746.9,1726.2 L746.1,1730.1 L744.7,1733.6 L742.9,1736.6 L740.7,1739.1 L738.1,1741.0 L735.2,1742.3 L731.9,1743.0 L728.4,1743.0 L724.7,1742.4 L720.9,1741.2 L717.1,1739.4 L713.3,1737.0 L709.5,1734.1 L705.9,1730.7 L702.5,1726.8 L699.3,1722.6 L696.5,1718.2 L694.0,1713.5 L692.0,1708.6 L690.4,1703.8 L689.2,1698.9 L688.5,1694.2 L688.4,1689.7 L688.7,1685.4 L689.6,1681.6 L690.9,1678.1 L692.7,1675.1 L694.9,1672.6 L697.5,1670.7 L700.5,1669.4 L703.7,1668.7 L707.2,1668.7 L710.9,1669.2 L714.7,1670.5 L718.5,1672.3 L722.4,1674.7 L726.1,1677.6 L729.7,1681.0 L733.2,1684.9 L736.3,1689.0 Z"/>
<path class="p" d="M693.1,1679.9 L694.3,1678.1 L695.6,1676.5 L697.2,1675.1 L698.9,1674.0 L700.7,1673.2 L702.7,1672.7 L704.8,1672.4 L707.0,1672.5 L709.3,1672.8 L711.7,1673.4 L714.1,1674.3 L716.5,1675.4 L718.9,1676.8 L721.4,1678.5 L723.7,1680.4 L726.1,1682.5 L728.3,1684.8 L730.5,1687.3 L732.6,1690.0 L734.5,1692.8 L736.3,1695.7 L737.9,1698.7 L739.3,1701.7 L740.6,1704.8 L741.6,1708.0 L742.5,1711.1 L743.1,1714.2 L743.6,1717.2 L743.8,1720.1 L743.7,1722.9 L743.5,1725.5 L743.0,1728.1 L742.3,1730.4 L741.5,1732.5 L740.4,1734.4 L739.1,1736.1 L737.6,1737.5 L735.9,1738.7 L734.1,1739.6 L732.2,1740.2"/>
<path class="p" d="M700.6,1683.8 L701.8,1683.0 L703.1,1682.4 L704.5,1682.0 L706.0,1681.8 L707.6,1681.8 L709.3,1682.1 L711.0,1682.5 L712.8,1683.1 L714.5,1684.0 L716.3,1685.0 L718.1,1686.2 L719.9,1687.6 L721.6,1689.2 L723.3,1690.9 L725.0,1692.8 L726.5,1694.7 L728.0,1696.8 L729.4,1699.0 L730.7,1701.2 L731.8,1703.5 L732.9,1705.9 L733.8,1708.2 L734.5,1710.5 L735.1,1712.9 L735.6,1715.1 L735.9,1717.4 L736.0,1719.5 L735.9,1721.6 L735.7,1723.5 L735.4,1725.3"/>
<path class="ld" d="M758.4,1736.4 L797.0,1794.3"/>
<path class="ld" d="M758.3,1735.8 L795.8,1795.0"/>
<path class="w" fill-rule="evenodd" d="M712.7,1708.8 L715.5,1714.1 L717.9,1719.5 L719.7,1725.0 L721.0,1730.5 L721.7,1735.9 L721.9,1741.0 L721.5,1745.8 L720.5,1750.2 L719.0,1754.1 L717.0,1757.5 L714.5,1760.3 L711.5,1762.5 L708.1,1764.0 L704.4,1764.8 L700.5,1764.8 L696.3,1764.2 L692.0,1762.8 L687.7,1760.7 L683.3,1758.0 L679.1,1754.7 L675.0,1750.9 L671.1,1746.5 L667.5,1741.8 L664.3,1736.7 L661.5,1731.4 L659.2,1725.9 L657.4,1720.4 L656.1,1715.0 L655.4,1709.6 L655.2,1704.5 L655.6,1699.7 L656.6,1695.3 L658.1,1691.4 L660.1,1688.0 L662.6,1685.1 L665.6,1683.0 L668.9,1681.5 L672.6,1680.7 L676.6,1680.7 L680.8,1681.3 L685.1,1682.7 L689.4,1684.7 L693.8,1687.4 L698.0,1690.8 L702.1,1694.6 L706.0,1699.0 L709.5,1703.7 Z M707.0,1713.4 L709.2,1717.7 L711.1,1722.0 L712.6,1726.4 L713.7,1730.7 L714.3,1734.9 L714.5,1739.0 L714.3,1742.7 L713.6,1746.2 L712.5,1749.3 L711.0,1751.9 L709.1,1754.1 L706.8,1755.8 L704.3,1756.9 L701.4,1757.4 L698.4,1757.4 L695.2,1756.8 L691.8,1755.7 L688.4,1754.0 L685.0,1751.8 L681.7,1749.1 L678.5,1746.0 L675.5,1742.6 L672.6,1738.8 L670.1,1734.7 L667.9,1730.5 L666.0,1726.2 L664.5,1721.8 L663.4,1717.4 L662.8,1713.2 L662.6,1709.2 L662.8,1705.4 L663.5,1701.9 L664.6,1698.9 L666.1,1696.2 L668.0,1694.0 L670.2,1692.4 L672.8,1691.3 L675.6,1690.7 L678.7,1690.7 L681.9,1691.3 L685.2,1692.4 L688.6,1694.1 L692.0,1696.3 L695.4,1699.0 L698.6,1702.1 L701.6,1705.6 L704.4,1709.4 Z"/>
<path class="p" d="M664.3,1685.8 L666.0,1684.2 L667.9,1682.9 L670.0,1681.9 L672.3,1681.1 L674.6,1680.7 L677.1,1680.5 L679.7,1680.7 L682.3,1681.1 L685.0,1681.9 L687.8,1682.9 L690.6,1684.2 L693.3,1685.8 L696.1,1687.6 L698.8,1689.7 L701.4,1692.0 L704.0,1694.6 L706.5,1697.3 L708.9,1700.2 L711.1,1703.3 L713.2,1706.5 L715.1,1709.8 L716.8,1713.2 L718.4,1716.7 L719.7,1720.2 L720.8,1723.7 L721.8,1727.2 L722.4,1730.6 L722.9,1734.0 L723.1,1737.3 L723.1,1740.5 L722.9,1743.6 L722.4,1746.5 L721.7,1749.2 L720.7,1751.7 L719.6,1754.0 L718.2,1756.1 L716.7,1757.9 L714.9,1759.5 L713.0,1760.8 L710.9,1761.8"/>
<path class="t" d="M709.0,1712.4 L711.4,1716.8 L713.3,1721.4 L714.9,1726.0 L716.0,1730.6 L716.7,1735.1 L716.9,1739.3 L716.6,1743.4 L715.8,1747.0 L714.6,1750.3 L713.0,1753.1 L710.9,1755.5 L708.5,1757.2 L705.7,1758.4 L702.7,1759.1 L699.4,1759.1 L696.0,1758.5 L692.4,1757.3 L688.8,1755.5 L685.2,1753.2 L681.7,1750.4 L678.3,1747.2 L675.1,1743.5 L672.1,1739.5 L669.4,1735.3 L667.0,1730.8 L665.1,1726.2 L663.5,1721.6 L662.4,1717.0 L661.7,1712.5 L661.5,1708.3 L661.8,1704.3 L662.6,1700.6 L663.8,1697.3 L665.4,1694.5 L667.5,1692.2 L669.9,1690.4 L672.7,1689.2 L675.7,1688.6 L679.0,1688.5 L682.4,1689.1 L686.0,1690.3 L689.6,1692.1 L693.2,1694.4 L696.7,1697.2 L700.1,1700.4 L703.4,1704.1 L706.3,1708.1 Z"/>
<path class="ld" d="M706.5,1765.1 L725.1,1800.1"/>
<path class="ld" d="M707.5,1764.2 L739.2,1828.3"/>
<path class="ld" d="M647.3,1746.4 L685.2,1725.1"/>
<path class="ld" d="M886.7,1671.7 L917.5,1705.0 L836.7,1750.8 L825.8,1737.5"/>
<path class="ld" d="M860.8,1717.5 L886.7,1742.5"/>
<path class="w" d="M891.2,1594.8 L891.3,1593.4 L891.5,1592.1 L891.8,1590.9 L892.3,1590.0 L893.0,1589.2 L893.8,1588.6 L934.6,1566.1 L935.5,1565.7 L936.5,1565.5 L937.6,1565.6 L938.8,1565.8 L940.0,1566.3 L941.3,1567.0 L942.5,1567.9 L943.8,1569.0 L945.0,1570.2 L946.1,1571.5 L947.2,1573.0 L948.2,1574.6 L949.0,1576.2 L949.8,1577.9 L950.4,1579.6 L950.8,1581.2 L951.1,1582.8 L951.3,1584.4 L951.2,1585.8 L951.0,1587.1 L950.7,1588.2 L950.2,1589.2 L949.5,1590.0 L948.8,1590.6 L907.9,1613.1 L907.0,1613.5 L906.0,1613.7 L904.9,1613.6 L903.7,1613.3 L902.5,1612.8 L901.2,1612.2 L900.0,1611.3 L898.8,1610.2 L897.5,1609.0 L895.3,1606.2 L894.3,1604.6 L892.7,1601.3 L892.1,1599.6 L891.7,1597.9 L891.4,1596.3 Z"/>
<path class="w" d="M907.3,1597.1 L908.2,1598.7 L908.9,1600.4 L909.5,1602.1 L910.0,1603.7 L910.3,1605.3 L910.4,1606.9 L910.4,1608.3 L910.2,1609.6 L909.9,1610.7 L909.4,1611.7 L908.7,1612.5 L907.9,1613.1 L907.0,1613.5 L906.0,1613.7 L904.9,1613.6 L903.7,1613.3 L902.5,1612.8 L901.2,1612.2 L900.0,1611.3 L898.8,1610.2 L897.5,1609.0 L896.4,1607.6 L895.3,1606.2 L894.3,1604.6 L893.5,1602.9 L892.7,1601.3 L892.1,1599.6 L891.7,1597.9 L891.4,1596.3 L891.2,1594.8 L891.3,1593.4 L891.5,1592.1 L891.8,1590.9 L892.3,1590.0 L893.0,1589.2 L893.8,1588.6 L894.7,1588.2 L895.7,1588.0 L896.8,1588.1 L897.9,1588.3 L899.2,1588.8 L900.4,1589.5 L901.7,1590.4 L902.9,1591.5 L904.1,1592.7 L905.3,1594.0 L906.3,1595.5 Z"/>
<path class="p" d="M917.5,1583.3 L933.3,1574.2 L940.8,1583.3 L920.0,1595.8 Z"/>
<path class="p" d="M931.7,1579.6 L932.4,1581.1 L932.6,1582.7 L932.5,1584.3 L931.9,1585.8 L931.0,1587.0 L929.8,1588.0 L928.4,1588.6 L926.9,1588.7 L925.3,1588.4 L923.9,1587.8 L922.6,1586.7 L921.6,1585.4 L921.0,1583.9 L920.7,1582.3 L920.9,1580.7 L921.4,1579.2 L922.3,1578.0 L923.5,1577.0 L924.9,1576.4 L926.5,1576.3 L928.0,1576.6 L929.5,1577.2 L930.7,1578.3 Z" style="stroke-width:2.4"/>
<path class="t" d="M922.5,1580.8 L931.7,1580.8 M922.0,1583.3 L931.7,1583.3 M923.3,1585.8 L930.8,1585.8"/>
<path class="p" d="M934.3,1567.5 L935.1,1567.4 L936.1,1567.5 L937.1,1567.8 L938.1,1568.3 L939.2,1568.9 L940.3,1569.7 L941.4,1570.6 L942.4,1571.6 L943.4,1572.8 L944.3,1574.1 L945.2,1575.4 L946.0,1576.8 L946.7,1578.3 L947.3,1579.7 L947.7,1581.2 L948.1,1582.6 L948.3,1583.9 L948.4,1585.2 L948.3,1586.4 L948.1,1587.5 L947.8,1588.5 L947.4,1589.3 L946.8,1589.9 L946.2,1590.4"/>
<path class="ld" d="M917.5,1609.2 L940.0,1713.3"/>
<path class="w" d="M955.1,1560.3 L955.3,1559.3 L955.6,1558.4 L956.0,1557.7 L956.5,1557.1 L957.2,1556.6 L1001.3,1531.3 L1002.1,1530.9 L1002.9,1530.8 L1003.7,1530.8 L1004.6,1531.0 L1005.6,1531.3 L1006.6,1531.8 L1007.5,1532.5 L1008.5,1533.3 L1009.4,1534.2 L1010.3,1535.2 L1011.1,1536.3 L1011.9,1537.5 L1012.5,1538.7 L1013.1,1540.0 L1013.5,1541.3 L1013.8,1542.5 L1014.0,1543.7 L1014.1,1544.9 L1014.1,1546.0 L1013.9,1547.0 L1013.6,1547.9 L1013.2,1548.6 L1012.6,1549.3 L1012.0,1549.7 L967.8,1575.1 L967.1,1575.4 L966.3,1575.5 L965.4,1575.5 L964.5,1575.3 L963.6,1575.0 L962.6,1574.5 L961.6,1573.8 L960.7,1573.1 L959.7,1572.1 L958.0,1570.0 L957.3,1568.8 L956.7,1567.6 L956.1,1566.3 L955.7,1565.1 L955.3,1563.8 L955.1,1562.6 Z"/>
<path class="p" d="M969.7,1572.3 L969.3,1573.4 L968.7,1574.3 L967.9,1575.0 L967.0,1575.4 L966.0,1575.5 L964.8,1575.4 L963.6,1575.0 L962.4,1574.4 L961.1,1573.5 L959.9,1572.4 L958.8,1571.1 L957.8,1569.6 L956.9,1568.1 L956.2,1566.5 L955.6,1564.9 L955.2,1563.3 L955.1,1561.7 L955.1,1560.3 L955.4,1559.1 L955.8,1558.0 L956.4,1557.2 L957.2,1556.6 L958.2,1556.2 L959.3,1556.1"/>
<path class="w" d="M948.0,1566.4 L948.1,1565.7 L948.4,1565.0 L949.0,1564.0 L949.5,1563.7 L957.8,1559.0 L958.4,1558.8 L958.9,1558.7 L959.6,1558.7 L960.2,1558.8 L960.9,1559.1 L961.6,1559.4 L962.3,1559.9 L963.7,1561.1 L964.9,1562.7 L965.4,1563.5 L965.9,1564.4 L966.3,1565.3 L966.6,1566.2 L967.0,1568.0 L967.0,1569.6 L966.9,1570.3 L966.6,1571.0 L966.0,1572.0 L965.5,1572.3 L957.2,1577.0 L956.6,1577.2 L956.1,1577.3 L955.4,1577.3 L954.8,1577.2 L954.1,1576.9 L953.4,1576.6 L952.7,1576.1 L951.3,1574.9 L950.1,1573.3 L949.6,1572.5 L949.1,1571.6 L948.7,1570.7 L948.4,1569.8 L948.0,1568.0 Z"/>
<path class="w" d="M957.1,1568.2 L957.6,1569.1 L958.0,1570.0 L958.3,1570.9 L958.5,1571.8 L958.6,1572.7 L958.7,1573.5 L958.7,1574.3 L958.5,1575.0 L958.3,1575.6 L958.0,1576.2 L957.6,1576.6 L957.2,1577.0 L956.6,1577.2 L956.1,1577.3 L955.4,1577.3 L954.8,1577.2 L954.1,1576.9 L953.4,1576.6 L952.7,1576.1 L952.0,1575.5 L951.3,1574.9 L950.7,1574.1 L950.1,1573.3 L949.6,1572.5 L949.1,1571.6 L948.7,1570.7 L948.4,1569.8 L948.2,1568.9 L948.0,1568.0 L948.0,1567.2 L948.0,1566.4 L948.1,1565.7 L948.4,1565.0 L948.7,1564.5 L949.0,1564.0 L949.5,1563.7 L950.0,1563.5 L950.6,1563.4 L951.2,1563.4 L951.9,1563.5 L952.6,1563.7 L953.3,1564.1 L954.0,1564.6 L954.7,1565.1 L955.3,1565.8 L956.0,1566.5 L956.6,1567.3 Z"/>
<path class="p" d="M953.2,1560.5 L954.1,1560.2 L955.2,1560.1 L956.3,1560.4 L957.5,1560.9 L958.7,1561.8 L959.8,1562.8 L960.9,1564.1 L961.8,1565.5 L962.6,1567.0 L963.2,1568.6 L963.5,1570.1 L963.6,1571.5 L963.5,1572.9 L963.2,1574.0 L962.6,1574.9 L961.8,1575.5"/>
<path class="p" d="M955.3,1558.6 L956.3,1558.2 L957.5,1558.2 L958.7,1558.5 L960.0,1559.1 L961.2,1560.0 L962.5,1561.1 L963.6,1562.5 L964.6,1564.0 L965.4,1565.6 L966.1,1567.3 L966.4,1568.9 L966.6,1570.5 L966.4,1571.9 L966.1,1573.1 L965.5,1574.1 L964.7,1574.7"/>
<path class="p" d="M995.0,1539.7 a3,2 0 1 0 6,0 a3,2 0 1 0 -6,0 M964.2,1554.7 a3,2 0 1 0 6,0 a3,2 0 1 0 -6,0"/>
<path class="ld" d="M980.0,1570.8 L1010.8,1671.7"/>
<circle class="w" cx="998.0" cy="1523.7" r="2.8"/>
<path class="ld" d="M955.3,1515.8 L995.0,1523.0"/>
<circle class="w" cx="967.0" cy="1540.3" r="3.2"/>
<path class="ld" d="M900.5,1540.8 L963.7,1540.3"/>
<circle class="w" cx="1020.0" cy="1532.5" r="5.3"/>
<path class="ld" d="M1022.5,1538.3 L1066.7,1638.3"/>
<circle class="w" cx="997.7" cy="1571.3" r="2.8"/>
<path class="ld" d="M1000.0,1575.0 L1018.3,1605.0"/>
<circle class="w" cx="966.7" cy="1589.2" r="3.2"/>
<path class="ld" d="M965.8,1593.0 L965.0,1645.0"/>
<circle class="w" cx="1069.2" cy="1505.8" r="5.3"/>
<path class="ld" d="M1073.3,1510.8 L1123.0,1563.3 L1146.7,1588.3"/>
<path class="p" d="M1029.4,1523.3 L1029.9,1523.0 L1030.6,1523.1 L1031.4,1523.6 L1032.4,1524.5 L1033.3,1525.6 L1034.2,1527.0 L1035.0,1528.4 L1035.5,1529.9 L1035.8,1531.1 L1035.8,1532.1 L1035.5,1532.8 L1035.0,1533.0 M1033.9,1520.7 L1034.4,1520.3 L1035.1,1520.4 L1035.9,1520.9 L1036.9,1521.8 L1037.8,1523.0 L1038.7,1524.3 L1039.5,1525.8 L1040.0,1527.2 L1040.3,1528.4 L1040.3,1529.4 L1040.0,1530.1 L1039.5,1530.3 M1038.4,1518.0 L1038.9,1517.7 L1039.6,1517.8 L1040.4,1518.3 L1041.4,1519.1 L1042.3,1520.3 L1043.2,1521.7 L1044.0,1523.1 L1044.5,1524.5 L1044.8,1525.8 L1044.8,1526.8 L1044.5,1527.4 L1044.0,1527.7 M1042.9,1515.3 L1043.4,1515.0 L1044.1,1515.1 L1044.9,1515.6 L1045.9,1516.5 L1046.8,1517.6 L1047.7,1519.0 L1048.5,1520.4 L1049.0,1521.9 L1049.3,1523.1 L1049.3,1524.1 L1049.0,1524.8 L1048.5,1525.0 M1047.4,1512.7 L1047.9,1512.3 L1048.6,1512.4 L1049.4,1512.9 L1050.4,1513.8 L1051.3,1515.0 L1052.2,1516.3 L1053.0,1517.8 L1053.5,1519.2 L1053.8,1520.4 L1053.8,1521.4 L1053.5,1522.1 L1053.0,1522.3 M1051.9,1510.0 L1052.4,1509.7 L1053.1,1509.8 L1053.9,1510.3 L1054.9,1511.1 L1055.8,1512.3 L1056.7,1513.7 L1057.5,1515.1 L1058.0,1516.5 L1058.3,1517.8 L1058.3,1518.8 L1058.0,1519.4 L1057.5,1519.7 M1056.4,1507.3 L1056.9,1507.0 L1057.6,1507.1 L1058.4,1507.6 L1059.4,1508.5 L1060.3,1509.6 L1061.2,1511.0 L1062.0,1512.4 L1062.5,1513.9 L1062.8,1515.1 L1062.8,1516.1 L1062.5,1516.8 L1062.0,1517.0" style="stroke-width:2.4"/>
<path class="p" d="M1035.1,1526.5 L1035.4,1527.1 L1035.7,1527.7 L1035.9,1528.2 L1036.1,1528.8 L1036.2,1529.3 L1036.3,1529.9 L1036.4,1530.3 L1036.4,1530.8 L1036.3,1531.1 L1036.2,1531.4 L1036.0,1531.7 L1035.8,1531.8 L1035.6,1531.9 L1035.3,1531.9 L1035.0,1531.9 L1034.6,1531.8 L1034.3,1531.5 L1033.9,1531.3 L1033.5,1530.9 L1033.1,1530.5 L1032.7,1530.1 L1032.3,1529.6 L1031.9,1529.1 L1031.6,1528.5 L1031.3,1527.9 L1031.0,1527.3 L1030.8,1526.8 L1030.6,1526.2 L1030.4,1525.7 L1030.3,1525.1 L1030.3,1524.7 L1030.3,1524.2 L1030.4,1523.9 L1030.5,1523.6 L1030.6,1523.3 L1030.8,1523.2 L1031.1,1523.1 L1031.4,1523.1 L1031.7,1523.1 L1032.0,1523.2 L1032.4,1523.5 L1032.8,1523.7 L1033.2,1524.1 L1033.6,1524.5 L1034.0,1524.9 L1034.4,1525.4 L1034.7,1525.9 Z"/>
<path class="ld" d="M1051.7,1523.3 L1108.3,1614.2"/>
</g>
<!-- 36_gear48.svg -->
<g transform="translate(600,1950) scale(0.07605)">
<path class="ld" d="M765,-2722 L765,-1407 M765,-1341 L765,-1302 M765,-1223 L765,400"/>
<!-- gear 48 -->
<path class="w" d="M520,320 L355,430 Q320,470 325,520 L330,680 Q400,800 550,900 L650,950 L800,950 L930,900 Q1100,800 1190,680 L1195,520 Q1195,470 1160,430 L1000,330 Q990,260 830,258 L830,258 M700,258 Q540,265 520,320 Z" style="stroke:none"/>
<path class="p" d="M700,258 Q530,270 520,330 L355,430 Q320,470 325,520 L330,680 Q400,800 550,900 L650,950 L800,950 L930,900 Q1100,800 1190,680 L1195,520 Q1195,470 1160,430 L1000,330 Q985,265 825,258"/>
<path class="p" d="M520,330 L520,470 Q560,600 760,600 Q960,600 1000,470 L1000,330 M520,400 Q560,545 760,545 Q960,545 1000,400"/>
<path class="p" d="M720,330 Q640,340 640,400 Q650,470 765,472 Q880,470 888,400 Q885,350 830,332"/>
<path class="p" style="stroke-width:2.6" d="M350,540 L420,560 L470,780 M420,560 L380,640 L440,770 M440,640 L500,650 L570,860 M500,650 L480,700 L540,850 M570,680 L620,700 L640,900 M620,700 L600,760 L620,900 M690,700 L690,940 M790,700 L790,940 M690,700 L790,700 M720,720 L720,940 M870,700 L850,900 M870,700 L920,690 L880,880 M990,660 L930,860 M990,660 L1040,640 L960,840 M1090,590 L1060,760 M1090,590 L1140,560 L1110,700 M1110,450 L1170,470 L1160,530 M360,450 L400,430 M345,700 Q450,830 600,900"/>
<path class="ld" d="M1200,555 L1578,465 L1860,398"/>
<!-- nut 49 -->
<path class="w" d="M572,1120 L575,1260 L680,1340 L840,1340 L940,1270 L940,1120 Z"/>
<ellipse class="w" cx="755" cy="1120" rx="185" ry="100"/>
<ellipse class="p" cx="755" cy="1120" rx="92" ry="50"/>
<path class="p" d="M675,1210 L675,1338 M840,1212 L840,1338"/>
<path class="ld" d="M945,1200 L1578,1260 L1860,1287"/>
</g>
<!-- 37_fwd.svg -->
<g transform="translate(910,1915) scale(0.07605)">
<path class="p" style="stroke-width:3;stroke-linejoin:miter" d="M165,990 L580,335 L700,400 L700,480 L1290,140 L1395,190 L1395,710 L700,1100 L700,1290 Z"/>
<path class="t" d="M290,1030 L662,432 L700,400 M662,432 L690,600 M700,595 L1385,215 L1395,190"/>
</g>
<text transform="translate(959.6,1995.4) skewY(-28.5) scale(0.62,1)" style="font-size:36.5px;font-weight:bold;letter-spacing:1px">FWD</text>
<!-- 38_w8s7.svg -->
<g transform="translate(290,1930) scale(0.08872)">
<!-- washer 8 -->
<path class="p" d="M540,385 Q430,390 428,490 Q440,600 545,600 Q650,590 655,500 Q655,470 635,445"/>
<path class="p" d="M520,430 Q480,450 485,500 Q500,550 545,548 Q595,540 600,490"/>
<path class="ld" d="M540,485 L775,165 M835,75 L865,35"/>
<path class="ld" d="M655,535 L1385,860"/>
<!-- screw 7 -->
<ellipse class="w" cx="265" cy="850" rx="120" ry="125" transform="rotate(-30 265 850)"/>
<ellipse class="w" cx="305" cy="825" rx="75" ry="80"/>
<ellipse class="w" cx="335" cy="790" rx="62" ry="65"/>
<ellipse class="w" cx="360" cy="755" rx="52" ry="55"/>
<ellipse class="w" cx="385" cy="720" rx="46" ry="48"/>
<ellipse class="w" cx="405" cy="690" rx="40" ry="42"/>
<path class="ld" d="M385,915 L1095,1300"/>
</g>
<g class="l">
<text transform="translate(650.5,295.0) scale(1.290,1)">37</text>
<text transform="translate(340.5,395.0) scale(1.290,1)">45</text>
<text transform="translate(340.5,445.0) scale(1.290,1)">46</text>
<text transform="translate(340.5,488.0) scale(1.290,1)">38</text>
<text transform="translate(566.8,657.0) scale(1.290,1)">40</text>
<text transform="translate(566.8,711.0) scale(1.290,1)">41</text>
<text transform="translate(566.8,779.0) scale(1.290,1)">42</text>
<text transform="translate(566.8,847.5) scale(1.290,1)">43</text>
<text transform="translate(401.8,722.0) scale(1.290,1)">21</text>
<text transform="translate(250.8,733.0) scale(1.290,1)">22</text>
<text transform="translate(404.8,787.0) scale(1.290,1)">19</text>
<text transform="translate(402.8,866.7) scale(1.290,1)">20</text>
<text transform="translate(401.8,943.0) scale(1.290,1)">25</text>
<text transform="translate(566.8,970.0) scale(1.290,1)">33</text>
<text transform="translate(402.8,1025.8) scale(1.290,1)">24</text>
<text transform="translate(959.8,292.7) scale(1.290,1)">31</text>
<text transform="translate(959.8,344.3) scale(1.290,1)">30</text>
<text transform="translate(959.8,409.0) scale(1.290,1)">26</text>
<text transform="translate(959.8,474.3) scale(1.290,1)">36</text>
<text transform="translate(959.8,528.3) scale(1.290,1)">29</text>
<text transform="translate(959.8,568.3) scale(1.290,1)">28</text>
<text transform="translate(962.8,609.3) scale(1.290,1)">11</text>
<text transform="translate(962.8,649.3) scale(1.290,1)">12</text>
<text transform="translate(962.8,686.7) scale(1.290,1)">10</text>
<text transform="translate(963.1,740.0) scale(1.290,1)">9</text>
<text transform="translate(962.8,780.7) scale(1.290,1)">10</text>
<text transform="translate(961.5,822.3) scale(1.290,1)">27</text>
<text transform="translate(959.8,879.0) scale(1.290,1)">32</text>
<text transform="translate(959.8,937.7) scale(1.290,1)">34</text>
<text transform="translate(959.8,1002.7) scale(1.290,1)">35</text>
<text transform="translate(1310.8,381.7) scale(1.290,1)">1</text>
<text transform="translate(402.1,1197.7) scale(1.290,1)">23</text>
<text transform="translate(567.1,1170.0) scale(1.290,1)">47</text>
<text transform="translate(667.1,1150.0) scale(1.290,1)">39</text>
<text transform="translate(570.5,1340.0) scale(1.290,1)">13</text>
<text transform="translate(340.5,1377.7) scale(1.290,1)">17</text>
<text transform="translate(258.8,1389.3) scale(1.290,1)">18</text>
<text transform="translate(570.5,1407.7) scale(1.290,1)">3</text>
<text transform="translate(300.5,1530.0) scale(1.290,1)">16</text>
<text transform="translate(252.1,1652.7) scale(1.290,1)">6</text>
<text transform="translate(286.3,1674.0) scale(1.290,1)">8</text>
<text transform="translate(264.5,1766.5) scale(1.290,1)">2</text>
<text transform="translate(960.8,1085.7) scale(1.290,1)">44</text>
<text transform="translate(710.8,1317.0) scale(1.290,1)">15</text>
<text transform="translate(710.8,1388.3) scale(1.290,1)">14</text>
<text transform="translate(1208.3,1330.0) scale(1.290,1)">68</text>
<text transform="translate(1155.8,1361.0) scale(1.290,1)">63</text>
<text transform="translate(1094.1,1396.0) scale(1.290,1)">65</text>
<text transform="translate(1040.8,1427.0) scale(1.290,1)">69</text>
<text transform="translate(1000.1,1451.0) scale(1.290,1)">64</text>
<text transform="translate(962.3,1474.0) scale(1.290,1)">70</text>
<text transform="translate(911.1,1519.0) scale(1.290,1)">58</text>
<text transform="translate(855.5,1549.0) scale(1.290,1)">56</text>
<text transform="translate(1218.3,1569.0) scale(1.290,1)">59</text>
<text transform="translate(1177.8,1592.0) scale(1.290,1)">60</text>
<text transform="translate(1135.5,1616.7) scale(1.290,1)">57</text>
<text transform="translate(1096.5,1639.0) scale(1.290,1)">55</text>
<text transform="translate(1010.3,1633.0) scale(1.290,1)">58</text>
<text transform="translate(1053.1,1665.0) scale(1.290,1)">57</text>
<text transform="translate(947.1,1669.0) scale(1.290,1)">56</text>
<text transform="translate(998.3,1698.0) scale(1.290,1)">54</text>
<text transform="translate(832.1,1709.7) scale(1.290,1)">51</text>
<text transform="translate(790.5,1732.7) scale(1.290,1)">51</text>
<text transform="translate(923.8,1740.0) scale(1.290,1)">53</text>
<text transform="translate(874.8,1770.0) scale(1.290,1)">50</text>
<text transform="translate(1494.1,1165.3) scale(1.290,1)">73</text>
<text transform="translate(1453.5,1190.0) scale(1.290,1)">72</text>
<text transform="translate(1408.5,1215.0) scale(1.290,1)">67</text>
<text transform="translate(1368.5,1238.3) scale(1.290,1)">66</text>
<text transform="translate(1318.5,1267.3) scale(1.290,1)">62</text>
<text transform="translate(1266.8,1298.3) scale(1.290,1)">71</text>
<text transform="translate(1425.1,1450.7) scale(1.290,1)">52</text>
<text transform="translate(1300.8,1522.7) scale(1.290,1)">61</text>
<text transform="translate(417.1,2021.0) scale(1.290,1)">8</text>
<text transform="translate(391.5,2059.3) scale(1.290,1)">7</text>
<text transform="translate(797.1,1818.7) scale(1.290,1)">4</text>
<text transform="translate(737.8,1853.3) scale(1.290,1)">5</text>
<text transform="translate(743.8,1986.0) scale(1.290,1)">48</text>
<text transform="translate(743.8,2058.5) scale(1.290,1)">49</text>
</g>
<g>
<rect x="1118.5" y="473.5" width="338" height="132.5" fill="none" stroke="#000" stroke-width="1.6"/>
<rect x="1123" y="478" width="329" height="123.5" fill="none" stroke="#000" stroke-width="1.4"/>
<text transform="translate(1209,507.7) scale(0.757,1)" style="font-size:28.5px;font-weight:bold;letter-spacing:2.2px;" >LOWER&#160; UNIT</text>
<text transform="translate(1253.5,550.7) scale(0.757,1)" style="font-size:28.5px;font-weight:bold;letter-spacing:2.2px;">ASSY</text>
<text x="1130" y="590.7" style="font-size:24px;font-weight:bold;" textLength="314" lengthAdjust="spacing">(Fig. 22, Ref. No. 2 to 73)</text>
<line x1="1314" y1="386.7" x2="1288.7" y2="472.5" stroke="#000" stroke-width="1.8"/>
<rect x="1514.2" y="2268" width="200" height="80.3" fill="#fff" stroke="#000" stroke-width="2.4"/>
<text transform="translate(1583.5,2343) scale(0.93,1)" style="font-size:102px;font-weight:bold;">A</text>
<text x="1654" y="2343" style="font-size:75px;font-weight:bold;">4</text>
<text x="873" y="2054" style="font-size:26.5px;" textLength="212" lengthAdjust="spacingAndGlyphs">64D0100-9220</text>
</g>
<g style="mix-blend-mode:multiply" transform="translate(23.1,790) rotate(31.75)"><text x="0" y="0" style="font-family:'DejaVu Sans','Liberation Sans',sans-serif;font-weight:bold;font-size:151.5px;" fill="#e6e6e6">Flood Marine Services</text></g>
</svg></body></html>
